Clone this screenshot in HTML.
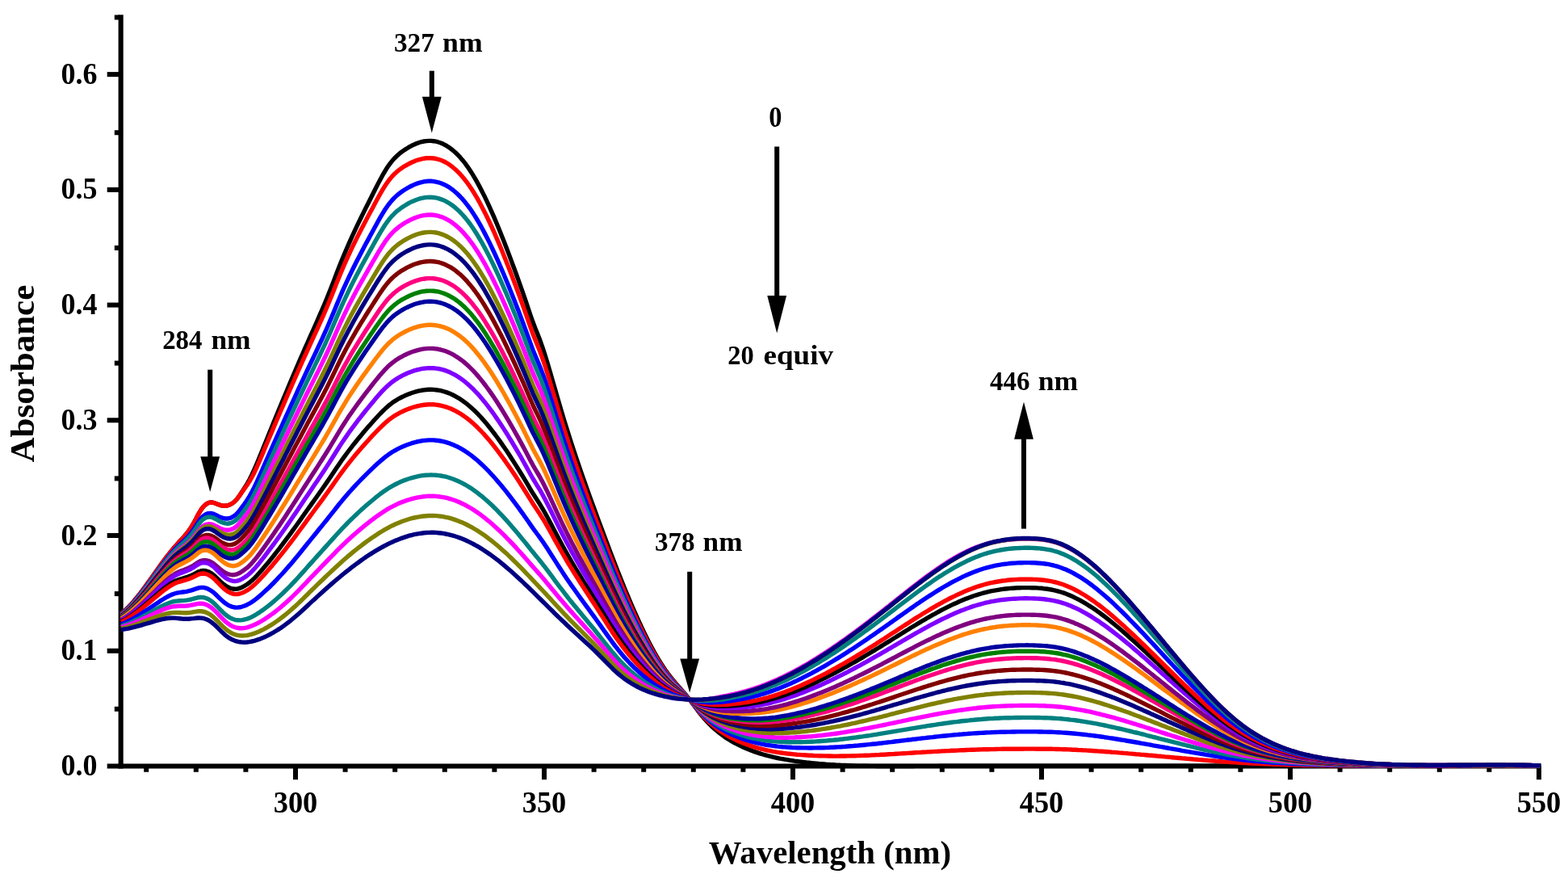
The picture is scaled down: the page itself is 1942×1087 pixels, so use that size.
<!DOCTYPE html>
<html lang="en"><head><meta charset="utf-8"><title>Absorbance vs Wavelength</title>
<style>html,body{margin:0;padding:0;background:#fff}body{width:1942px;height:1087px;overflow:hidden}svg{display:block}text{font-family:"Liberation Serif",serif;font-weight:bold;fill:#000}</style></head><body>
<svg width="1942" height="1087" viewBox="0 0 1942 1087">
<rect width="1942" height="1087" fill="#fff"/>
<g fill="#000"><rect x="146.6" y="18.3" width="6.1" height="933.2"/><rect x="146.8" y="945.5" width="1762" height="6"/><rect x="132.7" y="945.5" width="15" height="6"/><rect x="141.8" y="874.8" width="6" height="6"/><rect x="132.7" y="802.8" width="15" height="6"/><rect x="141.8" y="732.1" width="6" height="6"/><rect x="132.7" y="660.0" width="15" height="6"/><rect x="141.8" y="589.4" width="6" height="6"/><rect x="132.7" y="517.3" width="15" height="6"/><rect x="141.8" y="446.6" width="6" height="6"/><rect x="132.7" y="374.6" width="15" height="6"/><rect x="141.8" y="303.9" width="6" height="6"/><rect x="132.7" y="231.9" width="15" height="6"/><rect x="141.8" y="161.2" width="6" height="6"/><rect x="132.7" y="89.1" width="15" height="6"/><rect x="141.8" y="18.5" width="6" height="6"/><rect x="178.2" y="948" width="6" height="7.8"/><rect x="239.8" y="948" width="6" height="7.8"/><rect x="301.4" y="948" width="6" height="7.8"/><rect x="363.0" y="948" width="6" height="17.2"/><rect x="424.6" y="948" width="6" height="7.8"/><rect x="486.2" y="948" width="6" height="7.8"/><rect x="547.8" y="948" width="6" height="7.8"/><rect x="609.4" y="948" width="6" height="7.8"/><rect x="671.0" y="948" width="6" height="17.2"/><rect x="732.6" y="948" width="6" height="7.8"/><rect x="794.2" y="948" width="6" height="7.8"/><rect x="855.8" y="948" width="6" height="7.8"/><rect x="917.4" y="948" width="6" height="7.8"/><rect x="979.0" y="948" width="6" height="17.2"/><rect x="1040.6" y="948" width="6" height="7.8"/><rect x="1102.2" y="948" width="6" height="7.8"/><rect x="1163.8" y="948" width="6" height="7.8"/><rect x="1225.4" y="948" width="6" height="7.8"/><rect x="1287.0" y="948" width="6" height="17.2"/><rect x="1348.6" y="948" width="6" height="7.8"/><rect x="1410.2" y="948" width="6" height="7.8"/><rect x="1471.8" y="948" width="6" height="7.8"/><rect x="1533.4" y="948" width="6" height="7.8"/><rect x="1595.0" y="948" width="6" height="17.2"/><rect x="1656.6" y="948" width="6" height="7.8"/><rect x="1718.2" y="948" width="6" height="7.8"/><rect x="1779.8" y="948" width="6" height="7.8"/><rect x="1841.4" y="948" width="6" height="7.8"/><rect x="1903.0" y="948" width="6" height="17.2"/></g>
<text x="75.4" y="960.0" font-size="38" textLength="45" lengthAdjust="spacingAndGlyphs">0.0</text><text x="75.4" y="817.3" font-size="38" textLength="45" lengthAdjust="spacingAndGlyphs">0.1</text><text x="75.4" y="674.5" font-size="38" textLength="45" lengthAdjust="spacingAndGlyphs">0.2</text><text x="75.4" y="531.8" font-size="38" textLength="45" lengthAdjust="spacingAndGlyphs">0.3</text><text x="75.4" y="389.1" font-size="38" textLength="45" lengthAdjust="spacingAndGlyphs">0.4</text><text x="75.4" y="246.4" font-size="38" textLength="45" lengthAdjust="spacingAndGlyphs">0.5</text><text x="75.4" y="103.6" font-size="38" textLength="45" lengthAdjust="spacingAndGlyphs">0.6</text><text x="338.7" y="1006" font-size="38" textLength="54.6" lengthAdjust="spacingAndGlyphs">300</text><text x="646.7" y="1006" font-size="38" textLength="54.6" lengthAdjust="spacingAndGlyphs">350</text><text x="954.7" y="1006" font-size="38" textLength="54.6" lengthAdjust="spacingAndGlyphs">400</text><text x="1262.7" y="1006" font-size="38" textLength="54.6" lengthAdjust="spacingAndGlyphs">450</text><text x="1570.7" y="1006" font-size="38" textLength="54.6" lengthAdjust="spacingAndGlyphs">500</text><text x="1878.7" y="1006" font-size="38" textLength="54.6" lengthAdjust="spacingAndGlyphs">550</text>
<text transform="translate(42.1,572.6) rotate(-90)" font-size="42.5" textLength="219.9" lengthAdjust="spacingAndGlyphs">Absorbance</text>
<text x="877.8" y="1069.3" font-size="40.5" textLength="300.3" lengthAdjust="spacingAndGlyphs">Wavelength (nm)</text>
<g fill="none" stroke-width="5.4" stroke-linejoin="round" stroke-linecap="butt"><path d="M150.0,759.9 153.0,757.4 156.0,754.7 159.0,751.8 162.0,748.6 165.0,745.2 168.0,741.6 171.0,737.9 174.0,734.1 177.0,730.1 180.0,726.0 183.0,721.9 186.0,717.7 189.0,713.5 192.0,709.2 195.0,705.0 198.0,700.8 201.0,696.7 204.0,692.6 207.0,688.6 210.0,684.8 213.0,681.1 216.0,677.5 219.0,674.2 222.0,670.9 225.0,667.7 228.0,664.3 231.0,660.7 234.0,656.8 237.0,652.4 240.0,647.4 243.0,641.8 246.0,636.1 249.0,631.0 252.0,627.1 255.0,624.3 258.0,622.6 261.0,621.9 264.0,622.2 267.0,623.2 270.0,624.4 273.0,625.5 276.0,626.1 279.0,626.2 282.0,625.8 285.0,624.7 288.0,623.0 291.0,620.5 294.0,617.2 297.0,613.0 300.0,608.4 303.0,603.8 306.0,599.1 309.0,593.7 312.0,587.7 315.0,581.2 318.0,574.3 321.0,567.1 324.0,559.7 327.0,552.3 330.0,544.9 333.0,537.6 336.0,530.2 339.0,522.9 342.0,515.6 345.0,508.3 348.0,501.1 351.0,493.8 354.0,486.7 357.0,479.5 360.0,472.4 363.0,465.4 366.0,458.3 369.0,451.4 372.0,444.4 375.0,437.6 378.0,430.7 381.0,424.0 384.0,417.2 387.0,410.5 390.0,403.8 393.0,397.1 396.0,390.2 399.0,383.3 402.0,376.2 405.0,369.0 408.0,361.6 411.0,354.0 414.0,346.1 417.0,338.3 420.0,330.6 423.0,323.0 426.0,315.7 429.0,308.7 432.0,301.8 435.0,295.1 438.0,288.6 441.0,282.2 444.0,275.9 447.0,269.7 450.0,263.6 453.0,257.6 456.0,251.7 459.0,245.7 462.0,239.8 465.0,233.8 468.0,227.9 471.0,222.2 474.0,216.7 477.0,211.6 480.0,206.8 483.0,202.6 486.0,198.8 489.0,195.5 492.0,192.6 495.0,190.0 498.0,187.7 501.0,185.6 504.0,183.7 507.0,181.9 510.0,180.3 513.0,178.9 516.0,177.6 519.0,176.5 522.0,175.7 525.0,175.0 528.0,174.6 531.0,174.4 534.0,174.4 537.0,174.7 540.0,175.2 543.0,176.0 546.0,177.0 549.0,178.3 552.0,179.9 555.0,181.7 558.0,183.8 561.0,186.2 564.0,188.8 567.0,191.7 570.0,194.9 573.0,198.4 576.0,202.2 579.0,206.3 582.0,210.7 585.0,215.4 588.0,220.3 591.0,225.6 594.0,231.1 597.0,236.9 600.0,242.9 603.0,249.1 606.0,255.6 609.0,262.3 612.0,269.2 615.0,276.3 618.0,283.5 621.0,290.9 624.0,298.5 627.0,306.2 630.0,314.1 633.0,322.1 636.0,330.2 639.0,338.3 642.0,346.6 645.0,355.1 648.0,363.6 651.0,372.4 654.0,381.3 657.0,390.3 660.0,398.8 663.0,406.6 666.0,414.1 669.0,421.8 672.0,430.3 675.0,439.5 678.0,449.3 681.0,459.5 684.0,469.9 687.0,480.3 690.0,490.8 693.0,501.1 696.0,511.3 699.0,521.2 702.0,530.9 705.0,540.4 708.0,549.8 711.0,558.9 714.0,567.9 717.0,576.7 720.0,585.4 723.0,594.0 726.0,602.4 729.0,610.8 732.0,619.1 735.0,627.3 738.0,635.5 741.0,643.6 744.0,651.7 747.0,659.8 750.0,667.8 753.0,675.8 756.0,683.7 759.0,691.5 762.0,699.3 765.0,706.9 768.0,714.5 771.0,722.0 774.0,729.4 777.0,736.6 780.0,743.8 783.0,750.8 786.0,757.6 789.0,764.4 792.0,770.9 795.0,777.4 798.0,783.6 801.0,789.7 804.0,795.6 807.0,801.3 810.0,806.8 813.0,812.0 816.0,817.1 819.0,821.9 822.0,826.5 825.0,830.9 828.0,835.0 831.0,838.8 834.0,842.4 837.0,845.9 840.0,849.4 843.0,852.8 846.0,856.2 849.0,859.7 852.0,863.4 855.0,867.3 858.0,871.3 861.0,875.4 864.0,879.5 867.0,883.3 870.0,887.0 873.0,890.5 876.0,893.7 879.0,896.8 882.0,899.7 885.0,902.4 888.0,905.0 891.0,907.4 894.0,909.7 897.0,911.9 900.0,913.9 903.0,915.8 906.0,917.6 909.0,919.3 912.0,920.9 915.0,922.4 918.0,923.8 921.0,925.2 924.0,926.5 927.0,927.8 930.0,928.9 933.0,930.1 936.0,931.1 939.0,932.1 942.0,933.1 945.0,934.0 948.0,934.9 951.0,935.7 954.0,936.4 957.0,937.1 960.0,937.8 963.0,938.5 966.0,939.1 969.0,939.6 972.0,940.2 975.0,940.7 978.0,941.2 981.0,941.6 984.0,942.1 987.0,942.5 990.0,942.9 993.0,943.3 996.0,943.6 999.0,944.0 1002.0,944.3 1005.0,944.6 1008.0,944.9 1011.0,945.2 1014.0,945.5 1017.0,945.7 1020.0,945.9 1023.0,946.2 1026.0,946.4 1029.0,946.6 1032.0,946.8 1035.0,947.0 1038.0,947.1 1041.0,947.3 1044.0,947.4 1047.0,947.5 1050.0,947.7 1053.0,947.8 1056.0,947.9 1059.0,948.0 1062.0,948.1 1065.0,948.1 1068.0,948.2 1071.0,948.3 1074.0,948.3 1077.0,948.4 1080.0,948.4 1083.0,948.4 1086.0,948.5 1089.0,948.5 1092.0,948.5 1095.0,948.5 1098.0,948.5 1101.0,948.5 1104.0,948.5 1107.0,948.5 1110.0,948.5 1113.0,948.5 1116.0,948.5 1119.0,948.5 1122.0,948.5 1125.0,948.5 1128.0,948.5 1131.0,948.5 1134.0,948.4 1137.0,948.4 1140.0,948.4 1143.0,948.4 1146.0,948.4 1149.0,948.4 1152.0,948.4 1155.0,948.4 1158.0,948.4 1161.0,948.4 1164.0,948.3 1167.0,948.3 1170.0,948.3 1173.0,948.3 1176.0,948.3 1179.0,948.3 1182.0,948.3 1185.0,948.3 1188.0,948.3 1191.0,948.3 1194.0,948.3 1197.0,948.3 1200.0,948.2 1203.0,948.2 1206.0,948.2 1209.0,948.2 1212.0,948.2 1215.0,948.2 1218.0,948.2 1221.0,948.2 1224.0,948.2 1227.0,948.2 1230.0,948.2 1233.0,948.2 1236.0,948.2 1239.0,948.2 1242.0,948.2 1245.0,948.2 1248.0,948.2 1251.0,948.1 1254.0,948.1 1257.0,948.1 1260.0,948.1 1263.0,948.1 1266.0,948.1 1269.0,948.1 1272.0,948.1 1275.0,948.1 1278.0,948.1 1281.0,948.1 1284.0,948.1 1287.0,948.1 1290.0,948.1 1293.0,948.1 1296.0,948.1 1299.0,948.1 1302.0,948.1 1305.0,948.1 1308.0,948.1 1311.0,948.1 1314.0,948.1 1317.0,948.1 1320.0,948.1 1323.0,948.1 1326.0,948.1 1329.0,948.1 1332.0,948.1 1335.0,948.1 1338.0,948.1 1341.0,948.1 1344.0,948.1 1347.0,948.1 1350.0,948.1 1353.0,948.1 1356.0,948.1 1359.0,948.1 1362.0,948.1 1365.0,948.1 1368.0,948.1 1371.0,948.1 1374.0,948.1 1377.0,948.1 1380.0,948.1 1383.0,948.1 1386.0,948.1 1389.0,948.1 1392.0,948.1 1395.0,948.1 1398.0,948.1 1401.0,948.1 1404.0,948.1 1407.0,948.1 1410.0,948.1 1413.0,948.1 1416.0,948.1 1419.0,948.1 1422.0,948.1 1425.0,948.1 1428.0,948.1 1431.0,948.1 1434.0,948.1 1437.0,948.1 1440.0,948.1 1443.0,948.1 1446.0,948.1 1449.0,948.1 1452.0,948.1 1455.0,948.1 1458.0,948.1 1461.0,948.1 1464.0,948.1 1467.0,948.1 1470.0,948.1 1473.0,948.1 1476.0,948.1 1479.0,948.1 1482.0,948.1 1485.0,948.1 1488.0,948.1 1491.0,948.2 1494.0,948.2 1497.0,948.2 1500.0,948.2 1503.0,948.2 1506.0,948.2 1509.0,948.2 1512.0,948.2 1515.0,948.2 1518.0,948.2 1521.0,948.2 1524.0,948.2 1527.0,948.2 1530.0,948.2 1533.0,948.2 1536.0,948.2 1539.0,948.2 1542.0,948.2 1545.0,948.2 1548.0,948.2 1551.0,948.2 1554.0,948.2 1557.0,948.2 1560.0,948.2 1563.0,948.2 1566.0,948.2 1569.0,948.2 1572.0,948.2 1575.0,948.2 1578.0,948.2 1581.0,948.2 1584.0,948.2 1587.0,948.2 1590.0,948.2 1593.0,948.2 1596.0,948.2 1599.0,948.2 1602.0,948.2 1605.0,948.2 1608.0,948.2 1611.0,948.3 1614.0,948.3 1617.0,948.3 1620.0,948.3 1623.0,948.3 1626.0,948.3 1629.0,948.3 1632.0,948.3 1635.0,948.3 1638.0,948.3 1641.0,948.3 1644.0,948.3 1647.0,948.3 1650.0,948.3 1653.0,948.3 1656.0,948.3 1659.0,948.3 1662.0,948.3 1665.0,948.3 1668.0,948.3 1671.0,948.3 1674.0,948.3 1677.0,948.3 1680.0,948.3 1683.0,948.3 1686.0,948.3 1689.0,948.3 1692.0,948.3 1695.0,948.3 1698.0,948.3 1701.0,948.3 1704.0,948.3 1707.0,948.3 1710.0,948.3 1713.0,948.3 1716.0,948.3 1719.0,948.3 1722.0,948.3 1725.0,948.3 1728.0,948.3 1731.0,948.3 1734.0,948.3 1737.0,948.3 1740.0,948.3 1743.0,948.3 1746.0,948.3 1749.0,948.3 1752.0,948.3 1755.0,948.3 1758.0,948.3 1761.0,948.3 1764.0,948.3 1767.0,948.3 1770.0,948.3 1773.0,948.3 1776.0,948.3 1779.0,948.3 1782.0,948.2 1785.0,948.2 1788.0,948.2 1791.0,948.2 1794.0,948.2 1797.0,948.2 1800.0,948.2 1803.0,948.2 1806.0,948.2 1809.0,948.2 1812.0,948.2 1815.0,948.2 1818.0,948.2 1821.0,948.2 1824.0,948.2 1827.0,948.2 1830.0,948.2 1833.0,948.2 1836.0,948.2 1839.0,948.2 1842.0,948.2 1845.0,948.2 1848.0,948.1 1851.0,948.1 1854.0,948.1 1857.0,948.1 1860.0,948.1 1863.0,948.1 1866.0,948.1 1869.0,948.1 1872.0,948.1 1875.0,948.1 1878.0,948.1 1881.0,948.1 1884.0,948.1 1887.0,948.0 1890.0,948.0 1893.0,948.0 1896.0,948.0 1899.0,948.0 1902.0,948.0 1905.0,948.0 1908.0,948.0" stroke="#000000"/>
<path d="M150.0,759.9 153.0,757.4 156.0,754.7 159.0,751.8 162.0,748.6 165.0,745.2 168.0,741.6 171.0,737.9 174.0,734.1 177.0,730.1 180.0,726.0 183.0,721.9 186.0,717.7 189.0,713.5 192.0,709.2 195.0,705.0 198.0,700.8 201.0,696.7 204.0,692.6 207.0,688.6 210.0,684.8 213.0,681.1 216.0,677.5 219.0,674.2 222.0,670.9 225.0,667.7 228.0,664.3 231.0,660.7 234.0,656.8 237.0,652.4 240.0,647.4 243.0,641.8 246.0,636.1 249.0,631.0 252.0,627.1 255.0,624.3 258.0,622.6 261.0,621.9 264.0,622.2 267.0,623.2 270.0,624.4 273.0,625.5 276.0,626.1 279.0,626.2 282.0,625.8 285.0,624.7 288.0,623.0 291.0,620.5 294.0,617.2 297.0,613.1 300.0,608.8 303.0,604.7 306.0,600.5 309.0,595.9 312.0,590.7 315.0,584.9 318.0,578.5 321.0,571.6 324.0,564.6 327.0,557.4 330.0,550.3 333.0,543.2 336.0,536.1 339.0,529.1 342.0,522.0 345.0,515.0 348.0,508.0 351.0,501.1 354.0,494.1 357.0,487.2 360.0,480.3 363.0,473.5 366.0,466.7 369.0,459.9 372.0,453.2 375.0,446.5 378.0,439.9 381.0,433.3 384.0,426.7 387.0,420.2 390.0,413.7 393.0,407.1 396.0,400.5 399.0,393.8 402.0,387.0 405.0,380.0 408.0,372.8 411.0,365.4 414.0,357.9 417.0,350.3 420.0,342.9 423.0,335.6 426.0,328.6 429.0,321.8 432.0,315.3 435.0,308.9 438.0,302.6 441.0,296.6 444.0,290.6 447.0,284.7 450.0,279.0 453.0,273.3 456.0,267.6 459.0,262.0 462.0,256.4 465.0,250.8 468.0,245.2 471.0,239.8 474.0,234.7 477.0,229.8 480.0,225.4 483.0,221.5 486.0,218.0 489.0,214.9 492.0,212.2 495.0,209.9 498.0,207.8 501.0,205.8 504.0,204.1 507.0,202.5 510.0,201.0 513.0,199.7 516.0,198.5 519.0,197.6 522.0,196.8 525.0,196.2 528.0,195.8 531.0,195.7 534.0,195.7 537.0,196.0 540.0,196.5 543.0,197.3 546.0,198.3 549.0,199.5 552.0,201.0 555.0,202.8 558.0,204.9 561.0,207.2 564.0,209.7 567.0,212.6 570.0,215.7 573.0,219.1 576.0,222.8 579.0,226.7 582.0,231.0 585.0,235.5 588.0,240.3 591.0,245.4 594.0,250.8 597.0,256.4 600.0,262.2 603.0,268.3 606.0,274.5 609.0,281.0 612.0,287.7 615.0,294.6 618.0,301.6 621.0,308.8 624.0,316.2 627.0,323.7 630.0,331.3 633.0,339.0 636.0,346.9 639.0,354.8 642.0,362.9 645.0,371.1 648.0,379.4 651.0,387.8 654.0,396.5 657.0,405.2 660.0,413.5 663.0,421.1 666.0,428.3 669.0,435.8 672.0,444.1 675.0,453.0 678.0,462.5 681.0,472.4 684.0,482.5 687.0,492.6 690.0,502.7 693.0,512.8 696.0,522.6 699.0,532.2 702.0,541.6 705.0,550.8 708.0,559.9 711.0,568.7 714.0,577.4 717.0,586.0 720.0,594.4 723.0,602.7 726.0,610.9 729.0,619.1 732.0,627.1 735.0,635.1 738.0,643.1 741.0,651.0 744.0,658.8 747.0,666.7 750.0,674.5 753.0,682.2 756.0,689.9 759.0,697.5 762.0,705.1 765.0,712.5 768.0,719.9 771.0,727.1 774.0,734.3 777.0,741.3 780.0,748.2 783.0,755.0 786.0,761.6 789.0,768.1 792.0,774.5 795.0,780.7 798.0,786.7 801.0,792.6 804.0,798.3 807.0,803.8 810.0,809.1 813.0,814.2 816.0,819.1 819.0,823.8 822.0,828.2 825.0,832.4 828.0,836.4 831.0,840.1 834.0,843.6 837.0,846.9 840.0,850.2 843.0,853.5 846.0,856.7 849.0,860.1 852.0,863.5 855.0,867.2 858.0,871.0 861.0,874.9 864.0,878.6 867.0,882.2 870.0,885.6 873.0,888.8 876.0,891.9 879.0,894.7 882.0,897.3 885.0,899.8 888.0,902.2 891.0,904.4 894.0,906.4 897.0,908.3 900.0,910.1 903.0,911.8 906.0,913.4 909.0,914.9 912.0,916.4 915.0,917.7 918.0,919.0 921.0,920.2 924.0,921.3 927.0,922.4 930.0,923.4 933.0,924.4 936.0,925.3 939.0,926.2 942.0,927.0 945.0,927.7 948.0,928.5 951.0,929.1 954.0,929.7 957.0,930.3 960.0,930.8 963.0,931.3 966.0,931.8 969.0,932.2 972.0,932.6 975.0,933.0 978.0,933.3 981.0,933.6 984.0,933.9 987.0,934.2 990.0,934.4 993.0,934.6 996.0,934.8 999.0,935.0 1002.0,935.2 1005.0,935.3 1008.0,935.5 1011.0,935.6 1014.0,935.7 1017.0,935.8 1020.0,935.9 1023.0,935.9 1026.0,936.0 1029.0,936.0 1032.0,936.1 1035.0,936.1 1038.0,936.1 1041.0,936.0 1044.0,936.0 1047.0,936.0 1050.0,935.9 1053.0,935.9 1056.0,935.8 1059.0,935.7 1062.0,935.6 1065.0,935.5 1068.0,935.4 1071.0,935.3 1074.0,935.2 1077.0,935.1 1080.0,934.9 1083.0,934.8 1086.0,934.6 1089.0,934.5 1092.0,934.3 1095.0,934.2 1098.0,934.0 1101.0,933.8 1104.0,933.6 1107.0,933.5 1110.0,933.3 1113.0,933.1 1116.0,932.9 1119.0,932.7 1122.0,932.6 1125.0,932.4 1128.0,932.2 1131.0,932.0 1134.0,931.8 1137.0,931.6 1140.0,931.5 1143.0,931.3 1146.0,931.1 1149.0,930.9 1152.0,930.8 1155.0,930.6 1158.0,930.4 1161.0,930.3 1164.0,930.1 1167.0,929.9 1170.0,929.8 1173.0,929.6 1176.0,929.5 1179.0,929.3 1182.0,929.2 1185.0,929.1 1188.0,928.9 1191.0,928.8 1194.0,928.7 1197.0,928.5 1200.0,928.4 1203.0,928.3 1206.0,928.2 1209.0,928.1 1212.0,928.0 1215.0,927.9 1218.0,927.8 1221.0,927.8 1224.0,927.7 1227.0,927.6 1230.0,927.6 1233.0,927.5 1236.0,927.4 1239.0,927.4 1242.0,927.3 1245.0,927.3 1248.0,927.3 1251.0,927.2 1254.0,927.2 1257.0,927.2 1260.0,927.2 1263.0,927.2 1266.0,927.2 1269.0,927.1 1272.0,927.1 1275.0,927.1 1278.0,927.1 1281.0,927.1 1284.0,927.2 1287.0,927.2 1290.0,927.2 1293.0,927.2 1296.0,927.3 1299.0,927.3 1302.0,927.3 1305.0,927.4 1308.0,927.5 1311.0,927.5 1314.0,927.6 1317.0,927.7 1320.0,927.8 1323.0,927.9 1326.0,928.0 1329.0,928.2 1332.0,928.3 1335.0,928.5 1338.0,928.6 1341.0,928.8 1344.0,928.9 1347.0,929.1 1350.0,929.3 1353.0,929.5 1356.0,929.7 1359.0,929.9 1362.0,930.1 1365.0,930.3 1368.0,930.5 1371.0,930.7 1374.0,930.9 1377.0,931.2 1380.0,931.4 1383.0,931.6 1386.0,931.9 1389.0,932.1 1392.0,932.4 1395.0,932.6 1398.0,932.9 1401.0,933.1 1404.0,933.4 1407.0,933.7 1410.0,933.9 1413.0,934.2 1416.0,934.4 1419.0,934.7 1422.0,935.0 1425.0,935.2 1428.0,935.5 1431.0,935.8 1434.0,936.1 1437.0,936.3 1440.0,936.6 1443.0,936.9 1446.0,937.1 1449.0,937.4 1452.0,937.7 1455.0,938.0 1458.0,938.2 1461.0,938.5 1464.0,938.8 1467.0,939.0 1470.0,939.3 1473.0,939.5 1476.0,939.8 1479.0,940.1 1482.0,940.3 1485.0,940.6 1488.0,940.8 1491.0,941.1 1494.0,941.3 1497.0,941.6 1500.0,941.8 1503.0,942.0 1506.0,942.3 1509.0,942.5 1512.0,942.7 1515.0,942.9 1518.0,943.1 1521.0,943.4 1524.0,943.6 1527.0,943.8 1530.0,943.9 1533.0,944.1 1536.0,944.3 1539.0,944.5 1542.0,944.6 1545.0,944.8 1548.0,945.0 1551.0,945.1 1554.0,945.3 1557.0,945.4 1560.0,945.5 1563.0,945.6 1566.0,945.8 1569.0,945.9 1572.0,946.0 1575.0,946.1 1578.0,946.2 1581.0,946.3 1584.0,946.4 1587.0,946.5 1590.0,946.6 1593.0,946.7 1596.0,946.8 1599.0,946.8 1602.0,946.9 1605.0,947.0 1608.0,947.0 1611.0,947.1 1614.0,947.2 1617.0,947.2 1620.0,947.3 1623.0,947.3 1626.0,947.4 1629.0,947.4 1632.0,947.5 1635.0,947.5 1638.0,947.5 1641.0,947.6 1644.0,947.6 1647.0,947.7 1650.0,947.7 1653.0,947.7 1656.0,947.7 1659.0,947.8 1662.0,947.8 1665.0,947.8 1668.0,947.9 1671.0,947.9 1674.0,947.9 1677.0,947.9 1680.0,948.0 1683.0,948.0 1686.0,948.0 1689.0,948.0 1692.0,948.0 1695.0,948.0 1698.0,948.1 1701.0,948.1 1704.0,948.1 1707.0,948.1 1710.0,948.1 1713.0,948.1 1716.0,948.1 1719.0,948.1 1722.0,948.1 1725.0,948.2 1728.0,948.2 1731.0,948.2 1734.0,948.2 1737.0,948.2 1740.0,948.2 1743.0,948.2 1746.0,948.2 1749.0,948.2 1752.0,948.2 1755.0,948.2 1758.0,948.2 1761.0,948.2 1764.0,948.2 1767.0,948.2 1770.0,948.2 1773.0,948.2 1776.0,948.2 1779.0,948.2 1782.0,948.2 1785.0,948.2 1788.0,948.2 1791.0,948.2 1794.0,948.2 1797.0,948.2 1800.0,948.2 1803.0,948.2 1806.0,948.1 1809.0,948.1 1812.0,948.1 1815.0,948.1 1818.0,948.1 1821.0,948.1 1824.0,948.1 1827.0,948.1 1830.0,948.1 1833.0,948.1 1836.0,948.1 1839.0,948.1 1842.0,948.1 1845.0,948.1 1848.0,948.1 1851.0,948.1 1854.0,948.0 1857.0,948.0 1860.0,948.0 1863.0,948.0 1866.0,948.0 1869.0,948.0 1872.0,948.0 1875.0,948.0 1878.0,948.0 1881.0,948.0 1884.0,948.0 1887.0,948.0 1890.0,948.0 1893.0,948.0 1896.0,948.0 1899.0,948.0 1902.0,948.0 1905.0,948.0 1908.0,948.0" stroke="#ff0000"/>
<path d="M150.0,760.6 153.0,758.2 156.0,755.6 159.0,752.7 162.0,749.6 165.0,746.3 168.0,742.9 171.0,739.2 174.0,735.5 177.0,731.6 180.0,727.7 183.0,723.6 186.0,719.6 189.0,715.5 192.0,711.3 195.0,707.2 198.0,703.2 201.0,699.2 204.0,695.2 207.0,691.4 210.0,687.6 213.0,684.1 216.0,680.7 219.0,677.6 222.0,674.7 225.0,672.0 228.0,669.1 231.0,666.2 234.0,662.9 237.0,659.3 240.0,655.2 243.0,650.5 246.0,645.8 249.0,641.7 252.0,638.7 255.0,636.6 258.0,635.6 261.0,635.4 264.0,636.1 267.0,637.4 270.0,639.0 273.0,640.4 276.0,641.4 279.0,642.0 282.0,642.0 285.0,641.4 288.0,640.1 291.0,638.1 294.0,635.3 297.0,631.7 300.0,627.6 303.0,623.5 306.0,619.2 309.0,614.4 312.0,609.0 315.0,603.1 318.0,596.8 321.0,590.2 324.0,583.5 327.0,576.7 330.0,569.9 333.0,563.2 336.0,556.4 339.0,549.7 342.0,542.9 345.0,536.2 348.0,529.5 351.0,522.8 354.0,516.1 357.0,509.5 360.0,502.9 363.0,496.3 366.0,489.8 369.0,483.2 372.0,476.7 375.0,470.3 378.0,463.9 381.0,457.5 384.0,451.2 387.0,444.9 390.0,438.6 393.0,432.2 396.0,425.8 399.0,419.3 402.0,412.7 405.0,406.0 408.0,399.0 411.0,391.9 414.0,384.7 417.0,377.4 420.0,370.2 423.0,363.1 426.0,356.3 429.0,349.8 432.0,343.3 435.0,337.1 438.0,331.0 441.0,325.0 444.0,319.2 447.0,313.4 450.0,307.8 453.0,302.1 456.0,296.6 459.0,291.0 462.0,285.5 465.0,280.0 468.0,274.5 471.0,269.2 474.0,264.1 477.0,259.3 480.0,254.9 483.0,251.0 486.0,247.5 489.0,244.4 492.0,241.6 495.0,239.2 498.0,237.0 501.0,235.0 504.0,233.2 507.0,231.5 510.0,230.0 513.0,228.6 516.0,227.4 519.0,226.4 522.0,225.6 525.0,224.9 528.0,224.5 531.0,224.3 534.0,224.3 537.0,224.6 540.0,225.1 543.0,225.8 546.0,226.8 549.0,228.0 552.0,229.4 555.0,231.1 558.0,233.1 561.0,235.3 564.0,237.8 567.0,240.5 570.0,243.5 573.0,246.7 576.0,250.3 579.0,254.1 582.0,258.1 585.0,262.5 588.0,267.1 591.0,272.0 594.0,277.1 597.0,282.5 600.0,288.1 603.0,293.9 606.0,299.9 609.0,306.1 612.0,312.5 615.0,319.1 618.0,325.9 621.0,332.8 624.0,339.8 627.0,347.0 630.0,354.3 633.0,361.7 636.0,369.3 639.0,376.9 642.0,384.6 645.0,392.5 648.0,400.5 651.0,408.6 654.0,416.9 657.0,425.2 660.0,433.2 663.0,440.5 666.0,447.5 669.0,454.7 672.0,462.6 675.0,471.2 678.0,480.3 681.0,489.7 684.0,499.4 687.0,509.1 690.0,518.7 693.0,528.3 696.0,537.7 699.0,546.9 702.0,555.9 705.0,564.8 708.0,573.4 711.0,581.9 714.0,590.2 717.0,598.4 720.0,606.5 723.0,614.5 726.0,622.3 729.0,630.1 732.0,637.9 735.0,645.5 738.0,653.2 741.0,660.8 744.0,668.4 747.0,675.9 750.0,683.4 753.0,690.9 756.0,698.3 759.0,705.6 762.0,712.8 765.0,720.0 768.0,727.0 771.0,734.0 774.0,740.8 777.0,747.6 780.0,754.2 783.0,760.6 786.0,767.0 789.0,773.2 792.0,779.2 795.0,785.2 798.0,790.9 801.0,796.5 804.0,802.0 807.0,807.2 810.0,812.3 813.0,817.1 816.0,821.8 819.0,826.2 822.0,830.4 825.0,834.4 828.0,838.1 831.0,841.6 834.0,845.0 837.0,848.1 840.0,851.2 843.0,854.3 846.0,857.3 849.0,860.5 852.0,863.7 855.0,867.1 858.0,870.7 861.0,874.2 864.0,877.7 867.0,881.0 870.0,884.2 873.0,887.1 876.0,889.9 879.0,892.4 882.0,894.8 885.0,897.1 888.0,899.2 891.0,901.2 894.0,903.0 897.0,904.7 900.0,906.3 903.0,907.8 906.0,909.2 909.0,910.5 912.0,911.8 915.0,912.9 918.0,914.0 921.0,915.1 924.0,916.1 927.0,917.0 930.0,917.9 933.0,918.7 936.0,919.5 939.0,920.2 942.0,920.8 945.0,921.4 948.0,922.0 951.0,922.5 954.0,922.9 957.0,923.4 960.0,923.7 963.0,924.1 966.0,924.4 969.0,924.7 972.0,924.9 975.0,925.1 978.0,925.3 981.0,925.5 984.0,925.6 987.0,925.7 990.0,925.8 993.0,925.9 996.0,925.9 999.0,925.9 1002.0,926.0 1005.0,926.0 1008.0,925.9 1011.0,925.9 1014.0,925.8 1017.0,925.8 1020.0,925.7 1023.0,925.6 1026.0,925.5 1029.0,925.3 1032.0,925.2 1035.0,925.0 1038.0,924.9 1041.0,924.7 1044.0,924.5 1047.0,924.3 1050.0,924.0 1053.0,923.8 1056.0,923.6 1059.0,923.3 1062.0,923.1 1065.0,922.8 1068.0,922.5 1071.0,922.2 1074.0,921.9 1077.0,921.6 1080.0,921.3 1083.0,921.0 1086.0,920.7 1089.0,920.3 1092.0,920.0 1095.0,919.6 1098.0,919.3 1101.0,918.9 1104.0,918.6 1107.0,918.2 1110.0,917.8 1113.0,917.5 1116.0,917.1 1119.0,916.8 1122.0,916.4 1125.0,916.0 1128.0,915.7 1131.0,915.3 1134.0,915.0 1137.0,914.6 1140.0,914.3 1143.0,913.9 1146.0,913.6 1149.0,913.2 1152.0,912.9 1155.0,912.6 1158.0,912.2 1161.0,911.9 1164.0,911.6 1167.0,911.3 1170.0,911.0 1173.0,910.7 1176.0,910.4 1179.0,910.1 1182.0,909.8 1185.0,909.6 1188.0,909.3 1191.0,909.1 1194.0,908.8 1197.0,908.6 1200.0,908.3 1203.0,908.1 1206.0,907.9 1209.0,907.7 1212.0,907.5 1215.0,907.4 1218.0,907.2 1221.0,907.0 1224.0,906.9 1227.0,906.8 1230.0,906.6 1233.0,906.5 1236.0,906.4 1239.0,906.3 1242.0,906.3 1245.0,906.2 1248.0,906.1 1251.0,906.1 1254.0,906.0 1257.0,906.0 1260.0,905.9 1263.0,905.9 1266.0,905.9 1269.0,905.9 1272.0,905.9 1275.0,905.9 1278.0,905.9 1281.0,905.9 1284.0,905.9 1287.0,906.0 1290.0,906.0 1293.0,906.1 1296.0,906.1 1299.0,906.2 1302.0,906.3 1305.0,906.4 1308.0,906.6 1311.0,906.7 1314.0,906.9 1317.0,907.1 1320.0,907.3 1323.0,907.5 1326.0,907.7 1329.0,908.0 1332.0,908.3 1335.0,908.6 1338.0,908.9 1341.0,909.2 1344.0,909.5 1347.0,909.9 1350.0,910.2 1353.0,910.6 1356.0,911.0 1359.0,911.4 1362.0,911.8 1365.0,912.2 1368.0,912.7 1371.0,913.1 1374.0,913.6 1377.0,914.0 1380.0,914.5 1383.0,915.0 1386.0,915.5 1389.0,916.0 1392.0,916.4 1395.0,917.0 1398.0,917.5 1401.0,918.0 1404.0,918.5 1407.0,919.0 1410.0,919.5 1413.0,920.1 1416.0,920.6 1419.0,921.1 1422.0,921.7 1425.0,922.2 1428.0,922.8 1431.0,923.3 1434.0,923.8 1437.0,924.4 1440.0,924.9 1443.0,925.5 1446.0,926.0 1449.0,926.6 1452.0,927.1 1455.0,927.6 1458.0,928.2 1461.0,928.7 1464.0,929.3 1467.0,929.8 1470.0,930.3 1473.0,930.8 1476.0,931.4 1479.0,931.9 1482.0,932.4 1485.0,932.9 1488.0,933.4 1491.0,933.9 1494.0,934.4 1497.0,934.9 1500.0,935.4 1503.0,935.8 1506.0,936.3 1509.0,936.8 1512.0,937.2 1515.0,937.6 1518.0,938.1 1521.0,938.5 1524.0,938.9 1527.0,939.3 1530.0,939.6 1533.0,940.0 1536.0,940.4 1539.0,940.7 1542.0,941.0 1545.0,941.4 1548.0,941.7 1551.0,942.0 1554.0,942.3 1557.0,942.5 1560.0,942.8 1563.0,943.1 1566.0,943.3 1569.0,943.5 1572.0,943.8 1575.0,944.0 1578.0,944.2 1581.0,944.4 1584.0,944.6 1587.0,944.7 1590.0,944.9 1593.0,945.1 1596.0,945.2 1599.0,945.4 1602.0,945.5 1605.0,945.7 1608.0,945.8 1611.0,945.9 1614.0,946.1 1617.0,946.2 1620.0,946.3 1623.0,946.4 1626.0,946.5 1629.0,946.6 1632.0,946.7 1635.0,946.7 1638.0,946.8 1641.0,946.9 1644.0,947.0 1647.0,947.0 1650.0,947.1 1653.0,947.2 1656.0,947.2 1659.0,947.3 1662.0,947.3 1665.0,947.4 1668.0,947.4 1671.0,947.5 1674.0,947.5 1677.0,947.6 1680.0,947.6 1683.0,947.7 1686.0,947.7 1689.0,947.7 1692.0,947.8 1695.0,947.8 1698.0,947.8 1701.0,947.9 1704.0,947.9 1707.0,947.9 1710.0,947.9 1713.0,948.0 1716.0,948.0 1719.0,948.0 1722.0,948.0 1725.0,948.0 1728.0,948.0 1731.0,948.1 1734.0,948.1 1737.0,948.1 1740.0,948.1 1743.0,948.1 1746.0,948.1 1749.0,948.1 1752.0,948.1 1755.0,948.1 1758.0,948.1 1761.0,948.1 1764.0,948.1 1767.0,948.1 1770.0,948.1 1773.0,948.1 1776.0,948.1 1779.0,948.1 1782.0,948.1 1785.0,948.1 1788.0,948.1 1791.0,948.1 1794.0,948.1 1797.0,948.1 1800.0,948.1 1803.0,948.1 1806.0,948.1 1809.0,948.1 1812.0,948.1 1815.0,948.1 1818.0,948.1 1821.0,948.0 1824.0,948.0 1827.0,948.0 1830.0,948.0 1833.0,948.0 1836.0,948.0 1839.0,948.0 1842.0,948.0 1845.0,948.0 1848.0,948.0 1851.0,948.0 1854.0,948.0 1857.0,948.0 1860.0,948.0 1863.0,948.0 1866.0,947.9 1869.0,947.9 1872.0,947.9 1875.0,947.9 1878.0,947.9 1881.0,947.9 1884.0,947.9 1887.0,947.9 1890.0,947.9 1893.0,947.9 1896.0,947.9 1899.0,947.9 1902.0,948.0 1905.0,948.0 1908.0,948.0" stroke="#0000ff"/>
<path d="M150.0,761.0 153.0,758.6 156.0,756.0 159.0,753.2 162.0,750.1 165.0,746.9 168.0,743.5 171.0,739.9 174.0,736.2 177.0,732.4 180.0,728.5 183.0,724.6 186.0,720.5 189.0,716.5 192.0,712.4 195.0,708.4 198.0,704.4 201.0,700.4 204.0,696.6 207.0,692.8 210.0,689.1 213.0,685.6 216.0,682.3 219.0,679.3 222.0,676.6 225.0,673.9 228.0,671.3 231.0,668.4 234.0,665.4 237.0,662.0 240.0,658.1 243.0,653.7 246.0,649.2 249.0,645.4 252.0,642.6 255.0,640.9 258.0,640.1 261.0,640.1 264.0,641.0 267.0,642.5 270.0,644.3 273.0,645.9 276.0,647.1 279.0,647.9 282.0,648.2 285.0,647.8 288.0,646.7 291.0,645.0 294.0,642.4 297.0,639.1 300.0,635.3 303.0,631.4 306.0,627.3 309.0,622.7 312.0,617.4 315.0,611.8 318.0,605.7 321.0,599.4 324.0,592.9 327.0,586.4 330.0,579.9 333.0,573.4 336.0,566.8 339.0,560.3 342.0,553.8 345.0,547.3 348.0,540.8 351.0,534.3 354.0,527.9 357.0,521.4 360.0,515.0 363.0,508.6 366.0,502.3 369.0,495.9 372.0,489.6 375.0,483.3 378.0,477.1 381.0,470.9 384.0,464.7 387.0,458.6 390.0,452.4 393.0,446.2 396.0,440.0 399.0,433.7 402.0,427.3 405.0,420.7 408.0,414.0 411.0,407.0 414.0,400.0 417.0,392.9 420.0,385.9 423.0,379.1 426.0,372.5 429.0,366.1 432.0,359.9 435.0,353.8 438.0,347.9 441.0,342.1 444.0,336.4 447.0,330.8 450.0,325.3 453.0,319.9 456.0,314.5 459.0,309.1 462.0,303.7 465.0,298.4 468.0,293.1 471.0,287.9 474.0,283.0 477.0,278.3 480.0,274.1 483.0,270.2 486.0,266.8 489.0,263.8 492.0,261.1 495.0,258.8 498.0,256.6 501.0,254.7 504.0,252.9 507.0,251.2 510.0,249.7 513.0,248.4 516.0,247.2 519.0,246.2 522.0,245.4 525.0,244.8 528.0,244.4 531.0,244.2 534.0,244.2 537.0,244.5 540.0,244.9 543.0,245.6 546.0,246.6 549.0,247.7 552.0,249.2 555.0,250.8 558.0,252.7 561.0,254.8 564.0,257.2 567.0,259.9 570.0,262.8 573.0,266.0 576.0,269.4 579.0,273.1 582.0,277.0 585.0,281.3 588.0,285.7 591.0,290.5 594.0,295.5 597.0,300.7 600.0,306.1 603.0,311.7 606.0,317.6 609.0,323.6 612.0,329.8 615.0,336.2 618.0,342.7 621.0,349.4 624.0,356.3 627.0,363.2 630.0,370.3 633.0,377.5 636.0,384.9 639.0,392.3 642.0,399.8 645.0,407.4 648.0,415.1 651.0,423.0 654.0,431.0 657.0,439.2 660.0,446.9 663.0,454.0 666.0,460.8 669.0,467.8 672.0,475.5 675.0,483.8 678.0,492.6 681.0,501.8 684.0,511.1 687.0,520.5 690.0,529.9 693.0,539.2 696.0,548.3 699.0,557.2 702.0,565.9 705.0,574.4 708.0,582.8 711.0,591.0 714.0,599.1 717.0,607.1 720.0,614.9 723.0,622.6 726.0,630.3 729.0,637.8 732.0,645.3 735.0,652.8 738.0,660.2 741.0,667.6 744.0,675.0 747.0,682.3 750.0,689.6 753.0,696.9 756.0,704.1 759.0,711.2 762.0,718.2 765.0,725.2 768.0,732.0 771.0,738.8 774.0,745.4 777.0,751.9 780.0,758.3 783.0,764.6 786.0,770.7 789.0,776.7 792.0,782.6 795.0,788.3 798.0,793.8 801.0,799.3 804.0,804.5 807.0,809.6 810.0,814.5 813.0,819.1 816.0,823.6 819.0,827.9 822.0,832.0 825.0,835.8 828.0,839.4 831.0,842.8 834.0,846.0 837.0,849.0 840.0,852.0 843.0,854.9 846.0,857.8 849.0,860.8 852.0,863.9 855.0,867.1 858.0,870.4 861.0,873.7 864.0,877.0 867.0,880.1 870.0,883.0 873.0,885.7 876.0,888.3 879.0,890.6 882.0,892.8 885.0,894.9 888.0,896.8 891.0,898.6 894.0,900.2 897.0,901.8 900.0,903.2 903.0,904.5 906.0,905.8 909.0,906.9 912.0,908.0 915.0,909.0 918.0,910.0 921.0,910.9 924.0,911.8 927.0,912.6 930.0,913.3 933.0,914.0 936.0,914.6 939.0,915.2 942.0,915.7 945.0,916.2 948.0,916.6 951.0,917.0 954.0,917.4 957.0,917.7 960.0,917.9 963.0,918.1 966.0,918.3 969.0,918.5 972.0,918.6 975.0,918.7 978.0,918.7 981.0,918.8 984.0,918.8 987.0,918.8 990.0,918.7 993.0,918.7 996.0,918.6 999.0,918.5 1002.0,918.4 1005.0,918.2 1008.0,918.1 1011.0,917.9 1014.0,917.7 1017.0,917.5 1020.0,917.3 1023.0,917.1 1026.0,916.8 1029.0,916.5 1032.0,916.3 1035.0,916.0 1038.0,915.7 1041.0,915.3 1044.0,915.0 1047.0,914.6 1050.0,914.3 1053.0,913.9 1056.0,913.5 1059.0,913.1 1062.0,912.7 1065.0,912.3 1068.0,911.9 1071.0,911.4 1074.0,911.0 1077.0,910.6 1080.0,910.1 1083.0,909.6 1086.0,909.2 1089.0,908.7 1092.0,908.2 1095.0,907.7 1098.0,907.2 1101.0,906.7 1104.0,906.2 1107.0,905.7 1110.0,905.2 1113.0,904.7 1116.0,904.2 1119.0,903.7 1122.0,903.1 1125.0,902.6 1128.0,902.1 1131.0,901.6 1134.0,901.1 1137.0,900.6 1140.0,900.1 1143.0,899.6 1146.0,899.2 1149.0,898.7 1152.0,898.2 1155.0,897.8 1158.0,897.3 1161.0,896.8 1164.0,896.4 1167.0,896.0 1170.0,895.5 1173.0,895.1 1176.0,894.7 1179.0,894.3 1182.0,893.9 1185.0,893.6 1188.0,893.2 1191.0,892.8 1194.0,892.5 1197.0,892.2 1200.0,891.9 1203.0,891.5 1206.0,891.3 1209.0,891.0 1212.0,890.7 1215.0,890.5 1218.0,890.2 1221.0,890.0 1224.0,889.8 1227.0,889.6 1230.0,889.5 1233.0,889.3 1236.0,889.2 1239.0,889.0 1242.0,888.9 1245.0,888.8 1248.0,888.7 1251.0,888.7 1254.0,888.6 1257.0,888.5 1260.0,888.5 1263.0,888.5 1266.0,888.4 1269.0,888.4 1272.0,888.4 1275.0,888.4 1278.0,888.4 1281.0,888.5 1284.0,888.5 1287.0,888.5 1290.0,888.6 1293.0,888.7 1296.0,888.8 1299.0,888.9 1302.0,889.0 1305.0,889.2 1308.0,889.4 1311.0,889.6 1314.0,889.8 1317.0,890.1 1320.0,890.4 1323.0,890.7 1326.0,891.1 1329.0,891.4 1332.0,891.8 1335.0,892.2 1338.0,892.7 1341.0,893.1 1344.0,893.6 1347.0,894.1 1350.0,894.6 1353.0,895.1 1356.0,895.7 1359.0,896.2 1362.0,896.8 1365.0,897.4 1368.0,898.0 1371.0,898.7 1374.0,899.3 1377.0,900.0 1380.0,900.6 1383.0,901.3 1386.0,902.0 1389.0,902.7 1392.0,903.4 1395.0,904.1 1398.0,904.8 1401.0,905.5 1404.0,906.3 1407.0,907.0 1410.0,907.7 1413.0,908.5 1416.0,909.2 1419.0,910.0 1422.0,910.8 1425.0,911.5 1428.0,912.3 1431.0,913.0 1434.0,913.8 1437.0,914.6 1440.0,915.3 1443.0,916.1 1446.0,916.9 1449.0,917.7 1452.0,918.4 1455.0,919.2 1458.0,919.9 1461.0,920.7 1464.0,921.5 1467.0,922.2 1470.0,923.0 1473.0,923.7 1476.0,924.4 1479.0,925.2 1482.0,925.9 1485.0,926.6 1488.0,927.3 1491.0,928.0 1494.0,928.7 1497.0,929.4 1500.0,930.1 1503.0,930.7 1506.0,931.4 1509.0,932.0 1512.0,932.7 1515.0,933.3 1518.0,933.9 1521.0,934.5 1524.0,935.0 1527.0,935.6 1530.0,936.1 1533.0,936.6 1536.0,937.1 1539.0,937.6 1542.0,938.1 1545.0,938.5 1548.0,939.0 1551.0,939.4 1554.0,939.8 1557.0,940.2 1560.0,940.6 1563.0,940.9 1566.0,941.3 1569.0,941.6 1572.0,941.9 1575.0,942.2 1578.0,942.5 1581.0,942.8 1584.0,943.1 1587.0,943.3 1590.0,943.6 1593.0,943.8 1596.0,944.0 1599.0,944.2 1602.0,944.4 1605.0,944.6 1608.0,944.8 1611.0,945.0 1614.0,945.1 1617.0,945.3 1620.0,945.5 1623.0,945.6 1626.0,945.7 1629.0,945.9 1632.0,946.0 1635.0,946.1 1638.0,946.2 1641.0,946.3 1644.0,946.4 1647.0,946.5 1650.0,946.6 1653.0,946.7 1656.0,946.8 1659.0,946.9 1662.0,946.9 1665.0,947.0 1668.0,947.1 1671.0,947.1 1674.0,947.2 1677.0,947.3 1680.0,947.3 1683.0,947.4 1686.0,947.4 1689.0,947.5 1692.0,947.5 1695.0,947.6 1698.0,947.6 1701.0,947.7 1704.0,947.7 1707.0,947.7 1710.0,947.8 1713.0,947.8 1716.0,947.8 1719.0,947.9 1722.0,947.9 1725.0,947.9 1728.0,947.9 1731.0,948.0 1734.0,948.0 1737.0,948.0 1740.0,948.0 1743.0,948.0 1746.0,948.0 1749.0,948.0 1752.0,948.0 1755.0,948.1 1758.0,948.1 1761.0,948.1 1764.0,948.1 1767.0,948.1 1770.0,948.1 1773.0,948.1 1776.0,948.1 1779.0,948.1 1782.0,948.1 1785.0,948.1 1788.0,948.1 1791.0,948.1 1794.0,948.0 1797.0,948.0 1800.0,948.0 1803.0,948.0 1806.0,948.0 1809.0,948.0 1812.0,948.0 1815.0,948.0 1818.0,948.0 1821.0,948.0 1824.0,948.0 1827.0,948.0 1830.0,948.0 1833.0,947.9 1836.0,947.9 1839.0,947.9 1842.0,947.9 1845.0,947.9 1848.0,947.9 1851.0,947.9 1854.0,947.9 1857.0,947.9 1860.0,947.9 1863.0,947.9 1866.0,947.9 1869.0,947.9 1872.0,947.9 1875.0,947.9 1878.0,947.9 1881.0,947.9 1884.0,947.9 1887.0,947.9 1890.0,947.9 1893.0,947.9 1896.0,947.9 1899.0,947.9 1902.0,947.9 1905.0,947.9 1908.0,948.0" stroke="#008080"/>
<path d="M150.0,761.7 153.0,759.5 156.0,757.0 159.0,754.2 162.0,751.3 165.0,748.1 168.0,744.8 171.0,741.4 174.0,737.8 177.0,734.1 180.0,730.3 183.0,726.5 186.0,722.6 189.0,718.7 192.0,714.8 195.0,710.9 198.0,707.0 201.0,703.2 204.0,699.4 207.0,695.8 210.0,692.3 213.0,688.9 216.0,685.8 219.0,683.0 222.0,680.5 225.0,678.2 228.0,675.9 231.0,673.5 234.0,670.8 237.0,667.8 240.0,664.4 243.0,660.5 246.0,656.6 249.0,653.3 252.0,650.9 255.0,649.4 258.0,648.8 261.0,648.9 264.0,649.7 267.0,651.1 270.0,652.7 273.0,654.3 276.0,655.4 279.0,656.1 282.0,656.3 285.0,655.9 288.0,654.8 291.0,653.1 294.0,650.6 297.0,647.4 300.0,643.7 303.0,640.0 306.0,636.1 309.0,631.7 312.0,626.7 315.0,621.3 318.0,615.5 321.0,609.5 324.0,603.3 327.0,597.1 330.0,590.8 333.0,584.5 336.0,578.3 339.0,572.0 342.0,565.8 345.0,559.5 348.0,553.2 351.0,547.0 354.0,540.8 357.0,534.5 360.0,528.3 363.0,522.1 366.0,516.0 369.0,509.8 372.0,503.7 375.0,497.6 378.0,491.5 381.0,485.5 384.0,479.5 387.0,473.6 390.0,467.6 393.0,461.6 396.0,455.6 399.0,449.4 402.0,443.2 405.0,436.8 408.0,430.3 411.0,423.6 414.0,416.8 417.0,410.0 420.0,403.2 423.0,396.6 426.0,390.3 429.0,384.1 432.0,378.0 435.0,372.2 438.0,366.4 441.0,360.8 444.0,355.3 447.0,349.9 450.0,344.6 453.0,339.3 456.0,334.1 459.0,328.9 462.0,323.7 465.0,318.6 468.0,313.4 471.0,308.5 474.0,303.7 477.0,299.2 480.0,295.1 483.0,291.4 486.0,288.1 489.0,285.1 492.0,282.6 495.0,280.2 498.0,278.1 501.0,276.2 504.0,274.5 507.0,272.9 510.0,271.4 513.0,270.1 516.0,269.0 519.0,268.0 522.0,267.2 525.0,266.6 528.0,266.2 531.0,266.0 534.0,266.0 537.0,266.3 540.0,266.7 543.0,267.4 546.0,268.3 549.0,269.4 552.0,270.8 555.0,272.4 558.0,274.2 561.0,276.3 564.0,278.6 567.0,281.2 570.0,284.0 573.0,287.1 576.0,290.4 579.0,293.9 582.0,297.8 585.0,301.8 588.0,306.2 591.0,310.8 594.0,315.6 597.0,320.6 600.0,325.8 603.0,331.3 606.0,336.9 609.0,342.7 612.0,348.7 615.0,354.9 618.0,361.2 621.0,367.7 624.0,374.3 627.0,381.1 630.0,387.9 633.0,394.9 636.0,401.9 639.0,409.1 642.0,416.4 645.0,423.7 648.0,431.2 651.0,438.8 654.0,446.6 657.0,454.4 660.0,461.9 663.0,468.8 666.0,475.4 669.0,482.2 672.0,489.6 675.0,497.7 678.0,506.2 681.0,515.0 684.0,524.0 687.0,533.0 690.0,542.1 693.0,551.0 696.0,559.8 699.0,568.4 702.0,576.8 705.0,585.1 708.0,593.1 711.0,601.1 714.0,608.9 717.0,616.5 720.0,624.1 723.0,631.6 726.0,639.0 729.0,646.3 732.0,653.5 735.0,660.7 738.0,667.9 741.0,675.1 744.0,682.2 747.0,689.3 750.0,696.4 753.0,703.5 756.0,710.4 759.0,717.3 762.0,724.2 765.0,730.9 768.0,737.5 771.0,744.0 774.0,750.4 777.0,756.7 780.0,762.9 783.0,768.9 786.0,774.8 789.0,780.6 792.0,786.2 795.0,791.7 798.0,797.0 801.0,802.2 804.0,807.3 807.0,812.1 810.0,816.8 813.0,821.3 816.0,825.6 819.0,829.7 822.0,833.6 825.0,837.3 828.0,840.7 831.0,844.0 834.0,847.0 837.0,849.9 840.0,852.7 843.0,855.5 846.0,858.3 849.0,861.1 852.0,864.0 855.0,867.0 858.0,870.1 861.0,873.3 864.0,876.3 867.0,879.2 870.0,882.0 873.0,884.5 876.0,886.8 879.0,889.0 882.0,891.1 885.0,893.0 888.0,894.7 891.0,896.3 894.0,897.8 897.0,899.2 900.0,900.5 903.0,901.7 906.0,902.8 909.0,903.8 912.0,904.8 915.0,905.7 918.0,906.5 921.0,907.3 924.0,908.1 927.0,908.8 930.0,909.4 933.0,910.0 936.0,910.5 939.0,911.0 942.0,911.4 945.0,911.8 948.0,912.1 951.0,912.4 954.0,912.6 957.0,912.8 960.0,913.0 963.0,913.1 966.0,913.1 969.0,913.2 972.0,913.2 975.0,913.2 978.0,913.1 981.0,913.1 984.0,913.0 987.0,912.8 990.0,912.7 993.0,912.5 996.0,912.3 999.0,912.1 1002.0,911.9 1005.0,911.7 1008.0,911.4 1011.0,911.1 1014.0,910.8 1017.0,910.5 1020.0,910.1 1023.0,909.8 1026.0,909.4 1029.0,909.0 1032.0,908.6 1035.0,908.2 1038.0,907.8 1041.0,907.3 1044.0,906.9 1047.0,906.4 1050.0,905.9 1053.0,905.4 1056.0,904.9 1059.0,904.4 1062.0,903.9 1065.0,903.4 1068.0,902.8 1071.0,902.2 1074.0,901.7 1077.0,901.1 1080.0,900.5 1083.0,899.9 1086.0,899.3 1089.0,898.7 1092.0,898.1 1095.0,897.5 1098.0,896.9 1101.0,896.2 1104.0,895.6 1107.0,895.0 1110.0,894.3 1113.0,893.7 1116.0,893.1 1119.0,892.4 1122.0,891.8 1125.0,891.2 1128.0,890.5 1131.0,889.9 1134.0,889.3 1137.0,888.7 1140.0,888.1 1143.0,887.5 1146.0,886.9 1149.0,886.3 1152.0,885.7 1155.0,885.1 1158.0,884.5 1161.0,884.0 1164.0,883.4 1167.0,882.9 1170.0,882.4 1173.0,881.8 1176.0,881.3 1179.0,880.8 1182.0,880.3 1185.0,879.9 1188.0,879.4 1191.0,879.0 1194.0,878.6 1197.0,878.1 1200.0,877.8 1203.0,877.4 1206.0,877.0 1209.0,876.7 1212.0,876.3 1215.0,876.0 1218.0,875.8 1221.0,875.5 1224.0,875.2 1227.0,875.0 1230.0,874.8 1233.0,874.6 1236.0,874.4 1239.0,874.3 1242.0,874.1 1245.0,874.0 1248.0,873.9 1251.0,873.8 1254.0,873.7 1257.0,873.6 1260.0,873.6 1263.0,873.5 1266.0,873.5 1269.0,873.5 1272.0,873.5 1275.0,873.5 1278.0,873.5 1281.0,873.5 1284.0,873.6 1287.0,873.7 1290.0,873.7 1293.0,873.8 1296.0,874.0 1299.0,874.1 1302.0,874.3 1305.0,874.5 1308.0,874.7 1311.0,875.0 1314.0,875.3 1317.0,875.6 1320.0,876.0 1323.0,876.4 1326.0,876.8 1329.0,877.3 1332.0,877.8 1335.0,878.3 1338.0,878.8 1341.0,879.4 1344.0,880.0 1347.0,880.6 1350.0,881.2 1353.0,881.9 1356.0,882.6 1359.0,883.3 1362.0,884.0 1365.0,884.8 1368.0,885.5 1371.0,886.3 1374.0,887.1 1377.0,887.9 1380.0,888.7 1383.0,889.6 1386.0,890.4 1389.0,891.3 1392.0,892.2 1395.0,893.1 1398.0,894.0 1401.0,894.9 1404.0,895.8 1407.0,896.7 1410.0,897.7 1413.0,898.6 1416.0,899.5 1419.0,900.5 1422.0,901.4 1425.0,902.4 1428.0,903.3 1431.0,904.3 1434.0,905.2 1437.0,906.2 1440.0,907.2 1443.0,908.1 1446.0,909.1 1449.0,910.0 1452.0,911.0 1455.0,911.9 1458.0,912.9 1461.0,913.8 1464.0,914.8 1467.0,915.7 1470.0,916.7 1473.0,917.6 1476.0,918.5 1479.0,919.4 1482.0,920.3 1485.0,921.2 1488.0,922.1 1491.0,923.0 1494.0,923.9 1497.0,924.7 1500.0,925.6 1503.0,926.4 1506.0,927.2 1509.0,928.0 1512.0,928.8 1515.0,929.5 1518.0,930.3 1521.0,931.0 1524.0,931.7 1527.0,932.4 1530.0,933.1 1533.0,933.7 1536.0,934.4 1539.0,935.0 1542.0,935.6 1545.0,936.1 1548.0,936.7 1551.0,937.2 1554.0,937.7 1557.0,938.2 1560.0,938.6 1563.0,939.1 1566.0,939.5 1569.0,939.9 1572.0,940.3 1575.0,940.7 1578.0,941.1 1581.0,941.4 1584.0,941.8 1587.0,942.1 1590.0,942.4 1593.0,942.7 1596.0,943.0 1599.0,943.2 1602.0,943.5 1605.0,943.7 1608.0,943.9 1611.0,944.2 1614.0,944.4 1617.0,944.6 1620.0,944.8 1623.0,944.9 1626.0,945.1 1629.0,945.3 1632.0,945.4 1635.0,945.6 1638.0,945.7 1641.0,945.8 1644.0,946.0 1647.0,946.1 1650.0,946.2 1653.0,946.3 1656.0,946.4 1659.0,946.5 1662.0,946.6 1665.0,946.7 1668.0,946.8 1671.0,946.9 1674.0,946.9 1677.0,947.0 1680.0,947.1 1683.0,947.2 1686.0,947.2 1689.0,947.3 1692.0,947.4 1695.0,947.4 1698.0,947.5 1701.0,947.5 1704.0,947.6 1707.0,947.6 1710.0,947.7 1713.0,947.7 1716.0,947.7 1719.0,947.8 1722.0,947.8 1725.0,947.8 1728.0,947.9 1731.0,947.9 1734.0,947.9 1737.0,947.9 1740.0,947.9 1743.0,948.0 1746.0,948.0 1749.0,948.0 1752.0,948.0 1755.0,948.0 1758.0,948.0 1761.0,948.0 1764.0,948.0 1767.0,948.0 1770.0,948.0 1773.0,948.0 1776.0,948.0 1779.0,948.0 1782.0,948.0 1785.0,948.0 1788.0,948.0 1791.0,948.0 1794.0,948.0 1797.0,948.0 1800.0,948.0 1803.0,948.0 1806.0,948.0 1809.0,948.0 1812.0,948.0 1815.0,947.9 1818.0,947.9 1821.0,947.9 1824.0,947.9 1827.0,947.9 1830.0,947.9 1833.0,947.9 1836.0,947.9 1839.0,947.9 1842.0,947.9 1845.0,947.9 1848.0,947.8 1851.0,947.8 1854.0,947.8 1857.0,947.8 1860.0,947.8 1863.0,947.8 1866.0,947.8 1869.0,947.8 1872.0,947.8 1875.0,947.8 1878.0,947.8 1881.0,947.8 1884.0,947.8 1887.0,947.9 1890.0,947.9 1893.0,947.9 1896.0,947.9 1899.0,947.9 1902.0,947.9 1905.0,947.9 1908.0,948.0" stroke="#ff00ff"/>
<path d="M150.0,762.0 153.0,759.8 156.0,757.3 159.0,754.6 162.0,751.7 165.0,748.6 168.0,745.4 171.0,742.0 174.0,738.4 177.0,734.8 180.0,731.1 183.0,727.3 186.0,723.5 189.0,719.6 192.0,715.7 195.0,711.9 198.0,708.1 201.0,704.3 204.0,700.6 207.0,697.0 210.0,693.5 213.0,690.2 216.0,687.2 219.0,684.5 222.0,682.0 225.0,679.7 228.0,677.4 231.0,675.0 234.0,672.4 237.0,669.5 240.0,666.1 243.0,662.4 246.0,658.6 249.0,655.4 252.0,653.2 255.0,652.0 258.0,651.6 261.0,652.0 264.0,653.2 267.0,655.0 270.0,657.0 273.0,658.9 276.0,660.5 279.0,661.6 282.0,662.2 285.0,662.2 288.0,661.5 291.0,660.2 294.0,658.1 297.0,655.2 300.0,651.9 303.0,648.4 306.0,644.7 309.0,640.5 312.0,635.8 315.0,630.6 318.0,625.1 321.0,619.4 324.0,613.4 327.0,607.5 330.0,601.5 333.0,595.5 336.0,589.5 339.0,583.5 342.0,577.4 345.0,571.4 348.0,565.4 351.0,559.4 354.0,553.4 357.0,547.3 360.0,541.4 363.0,535.4 366.0,529.4 369.0,523.4 372.0,517.5 375.0,511.6 378.0,505.7 381.0,499.9 384.0,494.0 387.0,488.3 390.0,482.5 393.0,476.6 396.0,470.8 399.0,464.8 402.0,458.8 405.0,452.6 408.0,446.3 411.0,439.9 414.0,433.3 417.0,426.7 420.0,420.1 423.0,413.8 426.0,407.6 429.0,401.6 432.0,395.8 435.0,390.1 438.0,384.6 441.0,379.1 444.0,373.8 447.0,368.6 450.0,363.4 453.0,358.3 456.0,353.3 459.0,348.3 462.0,343.3 465.0,338.3 468.0,333.4 471.0,328.6 474.0,324.0 477.0,319.6 480.0,315.6 483.0,312.0 486.0,308.8 489.0,306.0 492.0,303.5 495.0,301.2 498.0,299.2 501.0,297.3 504.0,295.6 507.0,294.1 510.0,292.6 513.0,291.4 516.0,290.3 519.0,289.3 522.0,288.5 525.0,288.0 528.0,287.6 531.0,287.4 534.0,287.4 537.0,287.6 540.0,288.0 543.0,288.7 546.0,289.6 549.0,290.6 552.0,292.0 555.0,293.5 558.0,295.3 561.0,297.3 564.0,299.5 567.0,302.0 570.0,304.7 573.0,307.7 576.0,310.9 579.0,314.3 582.0,318.0 585.0,322.0 588.0,326.2 591.0,330.6 594.0,335.2 597.0,340.1 600.0,345.1 603.0,350.4 606.0,355.8 609.0,361.5 612.0,367.3 615.0,373.2 618.0,379.3 621.0,385.6 624.0,392.0 627.0,398.5 630.0,405.1 633.0,411.8 636.0,418.7 639.0,425.6 642.0,432.6 645.0,439.7 648.0,446.9 651.0,454.3 654.0,461.8 657.0,469.4 660.0,476.6 663.0,483.3 666.0,489.7 669.0,496.3 672.0,503.5 675.0,511.2 678.0,519.4 681.0,527.9 684.0,536.6 687.0,545.3 690.0,554.0 693.0,562.6 696.0,571.1 699.0,579.4 702.0,587.5 705.0,595.4 708.0,603.2 711.0,610.9 714.0,618.4 717.0,625.8 720.0,633.1 723.0,640.3 726.0,647.5 729.0,654.5 732.0,661.6 735.0,668.5 738.0,675.5 741.0,682.4 744.0,689.3 747.0,696.2 750.0,703.1 753.0,709.9 756.0,716.7 759.0,723.3 762.0,729.9 765.0,736.5 768.0,742.8 771.0,749.1 774.0,755.3 777.0,761.4 780.0,767.3 783.0,773.1 786.0,778.8 789.0,784.3 792.0,789.7 795.0,795.0 798.0,800.1 801.0,805.1 804.0,810.0 807.0,814.7 810.0,819.1 813.0,823.5 816.0,827.6 819.0,831.5 822.0,835.3 825.0,838.8 828.0,842.1 831.0,845.1 834.0,848.0 837.0,850.8 840.0,853.5 843.0,856.1 846.0,858.7 849.0,861.4 852.0,864.1 855.0,866.9 858.0,869.9 861.0,872.8 864.0,875.7 867.0,878.3 870.0,880.8 873.0,883.2 876.0,885.3 879.0,887.3 882.0,889.2 885.0,890.9 888.0,892.5 891.0,893.9 894.0,895.3 897.0,896.5 900.0,897.6 903.0,898.7 906.0,899.6 909.0,900.5 912.0,901.3 915.0,902.1 918.0,902.8 921.0,903.5 924.0,904.1 927.0,904.7 930.0,905.2 933.0,905.7 936.0,906.1 939.0,906.4 942.0,906.7 945.0,907.0 948.0,907.2 951.0,907.4 954.0,907.5 957.0,907.6 960.0,907.6 963.0,907.6 966.0,907.6 969.0,907.5 972.0,907.4 975.0,907.3 978.0,907.1 981.0,906.9 984.0,906.7 987.0,906.5 990.0,906.2 993.0,905.9 996.0,905.6 999.0,905.3 1002.0,904.9 1005.0,904.6 1008.0,904.2 1011.0,903.8 1014.0,903.3 1017.0,902.9 1020.0,902.4 1023.0,902.0 1026.0,901.5 1029.0,901.0 1032.0,900.4 1035.0,899.9 1038.0,899.3 1041.0,898.8 1044.0,898.2 1047.0,897.6 1050.0,897.0 1053.0,896.3 1056.0,895.7 1059.0,895.1 1062.0,894.4 1065.0,893.7 1068.0,893.0 1071.0,892.3 1074.0,891.6 1077.0,890.9 1080.0,890.2 1083.0,889.5 1086.0,888.8 1089.0,888.0 1092.0,887.3 1095.0,886.5 1098.0,885.8 1101.0,885.0 1104.0,884.2 1107.0,883.5 1110.0,882.7 1113.0,881.9 1116.0,881.2 1119.0,880.4 1122.0,879.6 1125.0,878.9 1128.0,878.1 1131.0,877.3 1134.0,876.6 1137.0,875.8 1140.0,875.1 1143.0,874.3 1146.0,873.6 1149.0,872.9 1152.0,872.2 1155.0,871.5 1158.0,870.8 1161.0,870.1 1164.0,869.5 1167.0,868.8 1170.0,868.2 1173.0,867.5 1176.0,866.9 1179.0,866.3 1182.0,865.7 1185.0,865.2 1188.0,864.6 1191.0,864.1 1194.0,863.6 1197.0,863.1 1200.0,862.6 1203.0,862.1 1206.0,861.7 1209.0,861.3 1212.0,860.9 1215.0,860.5 1218.0,860.2 1221.0,859.8 1224.0,859.5 1227.0,859.3 1230.0,859.0 1233.0,858.8 1236.0,858.6 1239.0,858.4 1242.0,858.2 1245.0,858.0 1248.0,857.9 1251.0,857.8 1254.0,857.7 1257.0,857.6 1260.0,857.5 1263.0,857.5 1266.0,857.5 1269.0,857.4 1272.0,857.4 1275.0,857.4 1278.0,857.5 1281.0,857.5 1284.0,857.6 1287.0,857.6 1290.0,857.7 1293.0,857.9 1296.0,858.0 1299.0,858.2 1302.0,858.4 1305.0,858.6 1308.0,858.9 1311.0,859.3 1314.0,859.6 1317.0,860.0 1320.0,860.5 1323.0,861.0 1326.0,861.5 1329.0,862.0 1332.0,862.6 1335.0,863.2 1338.0,863.9 1341.0,864.6 1344.0,865.3 1347.0,866.1 1350.0,866.9 1353.0,867.7 1356.0,868.5 1359.0,869.4 1362.0,870.2 1365.0,871.1 1368.0,872.1 1371.0,873.0 1374.0,874.0 1377.0,875.0 1380.0,876.0 1383.0,877.0 1386.0,878.1 1389.0,879.1 1392.0,880.2 1395.0,881.3 1398.0,882.3 1401.0,883.4 1404.0,884.6 1407.0,885.7 1410.0,886.8 1413.0,887.9 1416.0,889.1 1419.0,890.2 1422.0,891.4 1425.0,892.5 1428.0,893.7 1431.0,894.9 1434.0,896.0 1437.0,897.2 1440.0,898.4 1443.0,899.5 1446.0,900.7 1449.0,901.8 1452.0,903.0 1455.0,904.2 1458.0,905.3 1461.0,906.5 1464.0,907.6 1467.0,908.8 1470.0,909.9 1473.0,911.0 1476.0,912.1 1479.0,913.3 1482.0,914.4 1485.0,915.4 1488.0,916.5 1491.0,917.6 1494.0,918.6 1497.0,919.7 1500.0,920.7 1503.0,921.7 1506.0,922.7 1509.0,923.7 1512.0,924.6 1515.0,925.5 1518.0,926.4 1521.0,927.3 1524.0,928.2 1527.0,929.0 1530.0,929.8 1533.0,930.6 1536.0,931.4 1539.0,932.1 1542.0,932.8 1545.0,933.5 1548.0,934.2 1551.0,934.8 1554.0,935.4 1557.0,936.0 1560.0,936.6 1563.0,937.1 1566.0,937.7 1569.0,938.2 1572.0,938.6 1575.0,939.1 1578.0,939.5 1581.0,940.0 1584.0,940.4 1587.0,940.8 1590.0,941.1 1593.0,941.5 1596.0,941.8 1599.0,942.1 1602.0,942.4 1605.0,942.7 1608.0,943.0 1611.0,943.3 1614.0,943.5 1617.0,943.8 1620.0,944.0 1623.0,944.2 1626.0,944.4 1629.0,944.6 1632.0,944.8 1635.0,945.0 1638.0,945.1 1641.0,945.3 1644.0,945.5 1647.0,945.6 1650.0,945.7 1653.0,945.9 1656.0,946.0 1659.0,946.1 1662.0,946.2 1665.0,946.3 1668.0,946.5 1671.0,946.6 1674.0,946.7 1677.0,946.7 1680.0,946.8 1683.0,946.9 1686.0,947.0 1689.0,947.1 1692.0,947.2 1695.0,947.2 1698.0,947.3 1701.0,947.4 1704.0,947.4 1707.0,947.5 1710.0,947.5 1713.0,947.6 1716.0,947.6 1719.0,947.7 1722.0,947.7 1725.0,947.7 1728.0,947.8 1731.0,947.8 1734.0,947.8 1737.0,947.8 1740.0,947.9 1743.0,947.9 1746.0,947.9 1749.0,947.9 1752.0,947.9 1755.0,947.9 1758.0,948.0 1761.0,948.0 1764.0,948.0 1767.0,948.0 1770.0,948.0 1773.0,948.0 1776.0,948.0 1779.0,948.0 1782.0,948.0 1785.0,948.0 1788.0,948.0 1791.0,948.0 1794.0,948.0 1797.0,947.9 1800.0,947.9 1803.0,947.9 1806.0,947.9 1809.0,947.9 1812.0,947.9 1815.0,947.9 1818.0,947.9 1821.0,947.9 1824.0,947.9 1827.0,947.8 1830.0,947.8 1833.0,947.8 1836.0,947.8 1839.0,947.8 1842.0,947.8 1845.0,947.8 1848.0,947.8 1851.0,947.8 1854.0,947.8 1857.0,947.8 1860.0,947.8 1863.0,947.8 1866.0,947.8 1869.0,947.8 1872.0,947.8 1875.0,947.8 1878.0,947.8 1881.0,947.8 1884.0,947.8 1887.0,947.8 1890.0,947.8 1893.0,947.8 1896.0,947.9 1899.0,947.9 1902.0,947.9 1905.0,947.9 1908.0,948.0" stroke="#808000"/>
<path d="M150.0,762.4 153.0,760.2 156.0,757.7 159.0,755.1 162.0,752.2 165.0,749.2 168.0,745.9 171.0,742.6 174.0,739.1 177.0,735.5 180.0,731.9 183.0,728.1 186.0,724.3 189.0,720.5 192.0,716.7 195.0,712.9 198.0,709.2 201.0,705.5 204.0,701.8 207.0,698.3 210.0,694.9 213.0,691.6 216.0,688.6 219.0,686.0 222.0,683.6 225.0,681.4 228.0,679.1 231.0,676.8 234.0,674.3 237.0,671.5 240.0,668.3 243.0,664.6 246.0,661.0 249.0,658.0 252.0,656.0 255.0,654.9 258.0,654.7 261.0,655.2 264.0,656.6 267.0,658.5 270.0,660.8 273.0,662.9 276.0,664.7 279.0,666.0 282.0,666.8 285.0,667.0 288.0,666.6 291.0,665.5 294.0,663.6 297.0,661.0 300.0,657.8 303.0,654.5 306.0,651.0 309.0,647.0 312.0,642.4 315.0,637.4 318.0,632.1 321.0,626.5 324.0,620.8 327.0,615.0 330.0,609.2 333.0,603.4 336.0,597.6 339.0,591.8 342.0,585.9 345.0,580.1 348.0,574.2 351.0,568.4 354.0,562.5 357.0,556.7 360.0,550.8 363.0,545.0 366.0,539.2 369.0,533.3 372.0,527.5 375.0,521.8 378.0,516.0 381.0,510.3 384.0,504.6 387.0,498.9 390.0,493.3 393.0,487.6 396.0,481.8 399.0,476.0 402.0,470.1 405.0,464.1 408.0,458.0 411.0,451.7 414.0,445.2 417.0,438.8 420.0,432.4 423.0,426.2 426.0,420.2 429.0,414.4 432.0,408.7 435.0,403.2 438.0,397.8 441.0,392.5 444.0,387.3 447.0,382.2 450.0,377.1 453.0,372.2 456.0,367.2 459.0,362.4 462.0,357.5 465.0,352.6 468.0,347.8 471.0,343.2 474.0,338.7 477.0,334.5 480.0,330.6 483.0,327.1 486.0,324.0 489.0,321.2 492.0,318.7 495.0,316.5 498.0,314.5 501.0,312.7 504.0,311.0 507.0,309.5 510.0,308.1 513.0,306.8 516.0,305.7 519.0,304.8 522.0,304.1 525.0,303.5 528.0,303.1 531.0,302.9 534.0,302.9 537.0,303.1 540.0,303.5 543.0,304.2 546.0,305.0 549.0,306.1 552.0,307.4 555.0,308.9 558.0,310.6 561.0,312.6 564.0,314.7 567.0,317.2 570.0,319.8 573.0,322.7 576.0,325.8 579.0,329.2 582.0,332.8 585.0,336.6 588.0,340.7 591.0,345.0 594.0,349.5 597.0,354.3 600.0,359.2 603.0,364.3 606.0,369.6 609.0,375.1 612.0,380.7 615.0,386.5 618.0,392.5 621.0,398.6 624.0,404.8 627.0,411.1 630.0,417.6 633.0,424.2 636.0,430.8 639.0,437.6 642.0,444.4 645.0,451.3 648.0,458.4 651.0,465.5 654.0,472.9 657.0,480.2 660.0,487.3 663.0,493.8 666.0,500.1 669.0,506.5 672.0,513.5 675.0,521.1 678.0,529.1 681.0,537.4 684.0,545.8 687.0,554.2 690.0,562.7 693.0,571.1 696.0,579.3 699.0,587.4 702.0,595.3 705.0,603.0 708.0,610.6 711.0,618.0 714.0,625.3 717.0,632.6 720.0,639.7 723.0,646.7 726.0,653.7 729.0,660.5 732.0,667.4 735.0,674.2 738.0,681.0 741.0,687.7 744.0,694.5 747.0,701.2 750.0,707.9 753.0,714.6 756.0,721.2 759.0,727.7 762.0,734.2 765.0,740.5 768.0,746.7 771.0,752.9 774.0,758.9 777.0,764.8 780.0,770.5 783.0,776.2 786.0,781.7 789.0,787.1 792.0,792.3 795.0,797.4 798.0,802.4 801.0,807.3 804.0,812.0 807.0,816.5 810.0,820.9 813.0,825.1 816.0,829.1 819.0,832.9 822.0,836.5 825.0,839.9 828.0,843.1 831.0,846.1 834.0,848.9 837.0,851.5 840.0,854.1 843.0,856.6 846.0,859.1 849.0,861.6 852.0,864.2 855.0,866.9 858.0,869.7 861.0,872.4 864.0,875.1 867.0,877.6 870.0,879.9 873.0,882.0 876.0,884.0 879.0,885.8 882.0,887.5 885.0,889.0 888.0,890.4 891.0,891.7 894.0,892.9 897.0,894.0 900.0,895.0 903.0,895.9 906.0,896.7 909.0,897.4 912.0,898.1 915.0,898.8 918.0,899.4 921.0,899.9 924.0,900.4 927.0,900.9 930.0,901.3 933.0,901.6 936.0,901.9 939.0,902.2 942.0,902.4 945.0,902.5 948.0,902.6 951.0,902.7 954.0,902.7 957.0,902.7 960.0,902.6 963.0,902.5 966.0,902.4 969.0,902.2 972.0,902.0 975.0,901.8 978.0,901.5 981.0,901.2 984.0,900.9 987.0,900.5 990.0,900.2 993.0,899.8 996.0,899.3 999.0,898.9 1002.0,898.5 1005.0,898.0 1008.0,897.5 1011.0,897.0 1014.0,896.4 1017.0,895.9 1020.0,895.3 1023.0,894.7 1026.0,894.1 1029.0,893.4 1032.0,892.8 1035.0,892.1 1038.0,891.5 1041.0,890.8 1044.0,890.1 1047.0,889.3 1050.0,888.6 1053.0,887.9 1056.0,887.1 1059.0,886.3 1062.0,885.6 1065.0,884.8 1068.0,884.0 1071.0,883.1 1074.0,882.3 1077.0,881.5 1080.0,880.6 1083.0,879.8 1086.0,878.9 1089.0,878.1 1092.0,877.2 1095.0,876.3 1098.0,875.4 1101.0,874.5 1104.0,873.6 1107.0,872.7 1110.0,871.9 1113.0,871.0 1116.0,870.1 1119.0,869.2 1122.0,868.3 1125.0,867.4 1128.0,866.5 1131.0,865.6 1134.0,864.7 1137.0,863.9 1140.0,863.0 1143.0,862.2 1146.0,861.3 1149.0,860.5 1152.0,859.7 1155.0,858.8 1158.0,858.0 1161.0,857.2 1164.0,856.5 1167.0,855.7 1170.0,855.0 1173.0,854.2 1176.0,853.5 1179.0,852.8 1182.0,852.1 1185.0,851.5 1188.0,850.8 1191.0,850.2 1194.0,849.6 1197.0,849.0 1200.0,848.5 1203.0,848.0 1206.0,847.5 1209.0,847.0 1212.0,846.5 1215.0,846.1 1218.0,845.7 1221.0,845.3 1224.0,844.9 1227.0,844.6 1230.0,844.3 1233.0,844.1 1236.0,843.8 1239.0,843.6 1242.0,843.4 1245.0,843.2 1248.0,843.0 1251.0,842.9 1254.0,842.8 1257.0,842.7 1260.0,842.6 1263.0,842.6 1266.0,842.5 1269.0,842.5 1272.0,842.5 1275.0,842.5 1278.0,842.5 1281.0,842.6 1284.0,842.7 1287.0,842.7 1290.0,842.9 1293.0,843.0 1296.0,843.2 1299.0,843.4 1302.0,843.6 1305.0,843.9 1308.0,844.3 1311.0,844.6 1314.0,845.1 1317.0,845.5 1320.0,846.1 1323.0,846.6 1326.0,847.2 1329.0,847.9 1332.0,848.6 1335.0,849.3 1338.0,850.1 1341.0,850.9 1344.0,851.7 1347.0,852.6 1350.0,853.5 1353.0,854.4 1356.0,855.4 1359.0,856.4 1362.0,857.4 1365.0,858.5 1368.0,859.6 1371.0,860.7 1374.0,861.8 1377.0,862.9 1380.0,864.1 1383.0,865.3 1386.0,866.5 1389.0,867.8 1392.0,869.0 1395.0,870.3 1398.0,871.5 1401.0,872.8 1404.0,874.1 1407.0,875.4 1410.0,876.7 1413.0,878.0 1416.0,879.4 1419.0,880.7 1422.0,882.0 1425.0,883.4 1428.0,884.7 1431.0,886.1 1434.0,887.4 1437.0,888.8 1440.0,890.2 1443.0,891.5 1446.0,892.9 1449.0,894.2 1452.0,895.6 1455.0,896.9 1458.0,898.3 1461.0,899.6 1464.0,901.0 1467.0,902.3 1470.0,903.6 1473.0,904.9 1476.0,906.2 1479.0,907.5 1482.0,908.8 1485.0,910.1 1488.0,911.3 1491.0,912.6 1494.0,913.8 1497.0,915.0 1500.0,916.2 1503.0,917.3 1506.0,918.5 1509.0,919.6 1512.0,920.7 1515.0,921.8 1518.0,922.9 1521.0,923.9 1524.0,924.9 1527.0,925.9 1530.0,926.8 1533.0,927.7 1536.0,928.6 1539.0,929.5 1542.0,930.3 1545.0,931.1 1548.0,931.9 1551.0,932.6 1554.0,933.3 1557.0,934.0 1560.0,934.7 1563.0,935.3 1566.0,935.9 1569.0,936.5 1572.0,937.1 1575.0,937.6 1578.0,938.1 1581.0,938.6 1584.0,939.1 1587.0,939.5 1590.0,940.0 1593.0,940.4 1596.0,940.8 1599.0,941.1 1602.0,941.5 1605.0,941.8 1608.0,942.2 1611.0,942.5 1614.0,942.8 1617.0,943.0 1620.0,943.3 1623.0,943.5 1626.0,943.8 1629.0,944.0 1632.0,944.2 1635.0,944.4 1638.0,944.6 1641.0,944.8 1644.0,945.0 1647.0,945.2 1650.0,945.3 1653.0,945.5 1656.0,945.6 1659.0,945.8 1662.0,945.9 1665.0,946.0 1668.0,946.2 1671.0,946.3 1674.0,946.4 1677.0,946.5 1680.0,946.6 1683.0,946.7 1686.0,946.8 1689.0,946.9 1692.0,947.0 1695.0,947.0 1698.0,947.1 1701.0,947.2 1704.0,947.3 1707.0,947.3 1710.0,947.4 1713.0,947.4 1716.0,947.5 1719.0,947.5 1722.0,947.6 1725.0,947.6 1728.0,947.7 1731.0,947.7 1734.0,947.7 1737.0,947.8 1740.0,947.8 1743.0,947.8 1746.0,947.8 1749.0,947.9 1752.0,947.9 1755.0,947.9 1758.0,947.9 1761.0,947.9 1764.0,947.9 1767.0,947.9 1770.0,947.9 1773.0,947.9 1776.0,947.9 1779.0,947.9 1782.0,947.9 1785.0,947.9 1788.0,947.9 1791.0,947.9 1794.0,947.9 1797.0,947.9 1800.0,947.9 1803.0,947.9 1806.0,947.9 1809.0,947.9 1812.0,947.8 1815.0,947.8 1818.0,947.8 1821.0,947.8 1824.0,947.8 1827.0,947.8 1830.0,947.8 1833.0,947.8 1836.0,947.8 1839.0,947.7 1842.0,947.7 1845.0,947.7 1848.0,947.7 1851.0,947.7 1854.0,947.7 1857.0,947.7 1860.0,947.7 1863.0,947.7 1866.0,947.7 1869.0,947.7 1872.0,947.7 1875.0,947.7 1878.0,947.7 1881.0,947.7 1884.0,947.8 1887.0,947.8 1890.0,947.8 1893.0,947.8 1896.0,947.8 1899.0,947.9 1902.0,947.9 1905.0,947.9 1908.0,947.9" stroke="#000080"/>
<path d="M150.0,763.2 153.0,761.1 156.0,758.8 159.0,756.2 162.0,753.4 165.0,750.5 168.0,747.4 171.0,744.2 174.0,740.8 177.0,737.4 180.0,733.9 183.0,730.3 186.0,726.6 189.0,723.0 192.0,719.3 195.0,715.6 198.0,712.0 201.0,708.4 204.0,705.0 207.0,701.6 210.0,698.3 213.0,695.2 216.0,692.4 219.0,690.0 222.0,687.8 225.0,685.8 228.0,683.8 231.0,681.8 234.0,679.6 237.0,677.1 240.0,674.2 243.0,671.0 246.0,667.8 249.0,665.1 252.0,663.4 255.0,662.5 258.0,662.5 261.0,663.1 264.0,664.4 267.0,666.3 270.0,668.5 273.0,670.6 276.0,672.3 279.0,673.6 282.0,674.4 285.0,674.6 288.0,674.2 291.0,673.1 294.0,671.3 297.0,668.8 300.0,665.8 303.0,662.6 306.0,659.3 309.0,655.5 312.0,651.2 315.0,646.4 318.0,641.4 321.0,636.1 324.0,630.6 327.0,625.1 330.0,619.6 333.0,614.0 336.0,608.4 339.0,602.8 342.0,597.2 345.0,591.6 348.0,586.0 351.0,580.3 354.0,574.7 357.0,569.0 360.0,563.4 363.0,557.7 366.0,552.1 369.0,546.5 372.0,540.9 375.0,535.3 378.0,529.7 381.0,524.1 384.0,518.6 387.0,513.1 390.0,507.6 393.0,502.1 396.0,496.5 399.0,490.9 402.0,485.2 405.0,479.4 408.0,473.4 411.0,467.3 414.0,461.1 417.0,454.9 420.0,448.8 423.0,442.8 426.0,437.0 429.0,431.3 432.0,425.9 435.0,420.5 438.0,415.3 441.0,410.2 444.0,405.1 447.0,400.2 450.0,395.3 453.0,390.5 456.0,385.8 459.0,381.1 462.0,376.4 465.0,371.7 468.0,367.1 471.0,362.6 474.0,358.2 477.0,354.2 480.0,350.4 483.0,347.0 486.0,344.0 489.0,341.3 492.0,338.9 495.0,336.8 498.0,334.8 501.0,333.1 504.0,331.4 507.0,329.9 510.0,328.6 513.0,327.3 516.0,326.3 519.0,325.4 522.0,324.6 525.0,324.1 528.0,323.7 531.0,323.5 534.0,323.5 537.0,323.7 540.0,324.1 543.0,324.7 546.0,325.5 549.0,326.6 552.0,327.8 555.0,329.3 558.0,330.9 561.0,332.8 564.0,334.9 567.0,337.3 570.0,339.8 573.0,342.6 576.0,345.6 579.0,348.9 582.0,352.4 585.0,356.1 588.0,360.0 591.0,364.1 594.0,368.5 597.0,373.1 600.0,377.8 603.0,382.8 606.0,387.9 609.0,393.2 612.0,398.6 615.0,404.2 618.0,410.0 621.0,415.8 624.0,421.8 627.0,428.0 630.0,434.2 633.0,440.5 636.0,447.0 639.0,453.5 642.0,460.1 645.0,466.8 648.0,473.6 651.0,480.5 654.0,487.5 657.0,494.7 660.0,501.5 663.0,507.8 666.0,513.8 669.0,520.1 672.0,526.9 675.0,534.2 678.0,541.9 681.0,549.8 684.0,557.9 687.0,566.1 690.0,574.2 693.0,582.3 696.0,590.2 699.0,598.0 702.0,605.6 705.0,613.0 708.0,620.3 711.0,627.5 714.0,634.6 717.0,641.5 720.0,648.4 723.0,655.2 726.0,661.9 729.0,668.5 732.0,675.1 735.0,681.7 738.0,688.2 741.0,694.8 744.0,701.3 747.0,707.8 750.0,714.3 753.0,720.8 756.0,727.2 759.0,733.5 762.0,739.8 765.0,745.9 768.0,751.9 771.0,757.8 774.0,763.6 777.0,769.3 780.0,774.8 783.0,780.3 786.0,785.6 789.0,790.7 792.0,795.7 795.0,800.6 798.0,805.4 801.0,810.1 804.0,814.6 807.0,818.9 810.0,823.1 813.0,827.1 816.0,830.9 819.0,834.6 822.0,838.0 825.0,841.3 828.0,844.3 831.0,847.2 834.0,849.8 837.0,852.4 840.0,854.8 843.0,857.2 846.0,859.5 849.0,861.9 852.0,864.3 855.0,866.8 858.0,869.4 861.0,872.0 864.0,874.5 867.0,876.8 870.0,878.9 873.0,880.9 876.0,882.7 879.0,884.4 882.0,885.9 885.0,887.3 888.0,888.5 891.0,889.7 894.0,890.7 897.0,891.7 900.0,892.5 903.0,893.3 906.0,894.0 909.0,894.6 912.0,895.2 915.0,895.7 918.0,896.2 921.0,896.7 924.0,897.1 927.0,897.5 930.0,897.8 933.0,898.0 936.0,898.2 939.0,898.3 942.0,898.4 945.0,898.5 948.0,898.5 951.0,898.5 954.0,898.4 957.0,898.3 960.0,898.1 963.0,897.9 966.0,897.7 969.0,897.4 972.0,897.1 975.0,896.8 978.0,896.4 981.0,896.0 984.0,895.6 987.0,895.2 990.0,894.7 993.0,894.2 996.0,893.7 999.0,893.1 1002.0,892.6 1005.0,892.0 1008.0,891.4 1011.0,890.8 1014.0,890.1 1017.0,889.5 1020.0,888.8 1023.0,888.1 1026.0,887.4 1029.0,886.6 1032.0,885.9 1035.0,885.1 1038.0,884.3 1041.0,883.5 1044.0,882.7 1047.0,881.9 1050.0,881.1 1053.0,880.2 1056.0,879.3 1059.0,878.5 1062.0,877.6 1065.0,876.7 1068.0,875.7 1071.0,874.8 1074.0,873.9 1077.0,872.9 1080.0,872.0 1083.0,871.0 1086.0,870.0 1089.0,869.1 1092.0,868.1 1095.0,867.1 1098.0,866.1 1101.0,865.1 1104.0,864.1 1107.0,863.1 1110.0,862.0 1113.0,861.0 1116.0,860.0 1119.0,859.0 1122.0,858.0 1125.0,857.0 1128.0,856.0 1131.0,855.0 1134.0,854.0 1137.0,853.0 1140.0,852.1 1143.0,851.1 1146.0,850.2 1149.0,849.2 1152.0,848.3 1155.0,847.4 1158.0,846.5 1161.0,845.6 1164.0,844.7 1167.0,843.9 1170.0,843.0 1173.0,842.2 1176.0,841.4 1179.0,840.6 1182.0,839.8 1185.0,839.1 1188.0,838.4 1191.0,837.7 1194.0,837.0 1197.0,836.3 1200.0,835.7 1203.0,835.1 1206.0,834.6 1209.0,834.0 1212.0,833.5 1215.0,833.0 1218.0,832.6 1221.0,832.1 1224.0,831.7 1227.0,831.4 1230.0,831.0 1233.0,830.7 1236.0,830.4 1239.0,830.2 1242.0,830.0 1245.0,829.8 1248.0,829.6 1251.0,829.4 1254.0,829.3 1257.0,829.2 1260.0,829.1 1263.0,829.1 1266.0,829.0 1269.0,829.0 1272.0,829.0 1275.0,829.0 1278.0,829.0 1281.0,829.1 1284.0,829.2 1287.0,829.3 1290.0,829.4 1293.0,829.5 1296.0,829.7 1299.0,830.0 1302.0,830.3 1305.0,830.6 1308.0,831.0 1311.0,831.4 1314.0,831.9 1317.0,832.4 1320.0,833.0 1323.0,833.6 1326.0,834.3 1329.0,835.0 1332.0,835.8 1335.0,836.6 1338.0,837.5 1341.0,838.4 1344.0,839.4 1347.0,840.3 1350.0,841.4 1353.0,842.4 1356.0,843.5 1359.0,844.7 1362.0,845.8 1365.0,847.0 1368.0,848.2 1371.0,849.5 1374.0,850.8 1377.0,852.0 1380.0,853.4 1383.0,854.7 1386.0,856.1 1389.0,857.5 1392.0,858.9 1395.0,860.3 1398.0,861.7 1401.0,863.2 1404.0,864.6 1407.0,866.1 1410.0,867.6 1413.0,869.1 1416.0,870.6 1419.0,872.1 1422.0,873.6 1425.0,875.1 1428.0,876.6 1431.0,878.2 1434.0,879.7 1437.0,881.2 1440.0,882.7 1443.0,884.3 1446.0,885.8 1449.0,887.3 1452.0,888.9 1455.0,890.4 1458.0,891.9 1461.0,893.4 1464.0,894.9 1467.0,896.4 1470.0,897.9 1473.0,899.4 1476.0,900.8 1479.0,902.3 1482.0,903.8 1485.0,905.2 1488.0,906.6 1491.0,908.0 1494.0,909.4 1497.0,910.7 1500.0,912.1 1503.0,913.4 1506.0,914.7 1509.0,916.0 1512.0,917.2 1515.0,918.4 1518.0,919.6 1521.0,920.8 1524.0,921.9 1527.0,923.0 1530.0,924.1 1533.0,925.1 1536.0,926.1 1539.0,927.1 1542.0,928.0 1545.0,928.9 1548.0,929.8 1551.0,930.6 1554.0,931.4 1557.0,932.2 1560.0,932.9 1563.0,933.7 1566.0,934.3 1569.0,935.0 1572.0,935.6 1575.0,936.2 1578.0,936.8 1581.0,937.4 1584.0,937.9 1587.0,938.4 1590.0,938.9 1593.0,939.4 1596.0,939.8 1599.0,940.2 1602.0,940.6 1605.0,941.0 1608.0,941.4 1611.0,941.7 1614.0,942.0 1617.0,942.4 1620.0,942.7 1623.0,942.9 1626.0,943.2 1629.0,943.5 1632.0,943.7 1635.0,943.9 1638.0,944.2 1641.0,944.4 1644.0,944.6 1647.0,944.8 1650.0,944.9 1653.0,945.1 1656.0,945.3 1659.0,945.4 1662.0,945.6 1665.0,945.7 1668.0,945.9 1671.0,946.0 1674.0,946.1 1677.0,946.3 1680.0,946.4 1683.0,946.5 1686.0,946.6 1689.0,946.7 1692.0,946.8 1695.0,946.9 1698.0,947.0 1701.0,947.1 1704.0,947.1 1707.0,947.2 1710.0,947.3 1713.0,947.3 1716.0,947.4 1719.0,947.5 1722.0,947.5 1725.0,947.6 1728.0,947.6 1731.0,947.6 1734.0,947.7 1737.0,947.7 1740.0,947.7 1743.0,947.8 1746.0,947.8 1749.0,947.8 1752.0,947.8 1755.0,947.8 1758.0,947.9 1761.0,947.9 1764.0,947.9 1767.0,947.9 1770.0,947.9 1773.0,947.9 1776.0,947.9 1779.0,947.9 1782.0,947.9 1785.0,947.9 1788.0,947.9 1791.0,947.9 1794.0,947.9 1797.0,947.9 1800.0,947.8 1803.0,947.8 1806.0,947.8 1809.0,947.8 1812.0,947.8 1815.0,947.8 1818.0,947.8 1821.0,947.8 1824.0,947.8 1827.0,947.7 1830.0,947.7 1833.0,947.7 1836.0,947.7 1839.0,947.7 1842.0,947.7 1845.0,947.7 1848.0,947.7 1851.0,947.7 1854.0,947.7 1857.0,947.7 1860.0,947.7 1863.0,947.7 1866.0,947.7 1869.0,947.7 1872.0,947.7 1875.0,947.7 1878.0,947.7 1881.0,947.7 1884.0,947.7 1887.0,947.7 1890.0,947.8 1893.0,947.8 1896.0,947.8 1899.0,947.8 1902.0,947.9 1905.0,947.9 1908.0,947.9" stroke="#800000"/>
<path d="M150.0,763.7 153.0,761.6 156.0,759.3 159.0,756.8 162.0,754.1 165.0,751.2 168.0,748.2 171.0,745.0 174.0,741.8 177.0,738.4 180.0,734.9 183.0,731.4 186.0,727.8 189.0,724.3 192.0,720.7 195.0,717.1 198.0,713.6 201.0,710.1 204.0,706.7 207.0,703.4 210.0,700.2 213.0,697.2 216.0,694.4 219.0,692.1 222.0,690.0 225.0,688.0 228.0,686.1 231.0,684.2 234.0,682.1 237.0,679.6 240.0,676.9 243.0,673.8 246.0,670.7 249.0,668.2 252.0,666.7 255.0,666.0 258.0,666.2 261.0,667.0 264.0,668.6 267.0,670.8 270.0,673.2 273.0,675.6 276.0,677.7 279.0,679.3 282.0,680.5 285.0,681.0 288.0,680.9 291.0,680.2 294.0,678.8 297.0,676.6 300.0,673.9 303.0,671.0 306.0,667.8 309.0,664.2 312.0,660.1 315.0,655.7 318.0,650.8 321.0,645.8 324.0,640.6 327.0,635.4 330.0,630.1 333.0,624.8 336.0,619.5 339.0,614.1 342.0,608.8 345.0,603.4 348.0,598.0 351.0,592.6 354.0,587.1 357.0,581.7 360.0,576.3 363.0,570.8 366.0,565.4 369.0,559.9 372.0,554.5 375.0,549.1 378.0,543.7 381.0,538.3 384.0,532.9 387.0,527.6 390.0,522.3 393.0,516.9 396.0,511.6 399.0,506.1 402.0,500.6 405.0,495.0 408.0,489.2 411.0,483.4 414.0,477.4 417.0,471.4 420.0,465.5 423.0,459.7 426.0,454.1 429.0,448.7 432.0,443.4 435.0,438.2 438.0,433.2 441.0,428.3 444.0,423.4 447.0,418.7 450.0,414.0 453.0,409.3 456.0,404.8 459.0,400.2 462.0,395.7 465.0,391.2 468.0,386.7 471.0,382.4 474.0,378.3 477.0,374.4 480.0,370.7 483.0,367.5 486.0,364.6 489.0,362.0 492.0,359.6 495.0,357.5 498.0,355.6 501.0,353.9 504.0,352.3 507.0,350.9 510.0,349.5 513.0,348.4 516.0,347.3 519.0,346.4 522.0,345.7 525.0,345.2 528.0,344.8 531.0,344.6 534.0,344.6 537.0,344.8 540.0,345.2 543.0,345.8 546.0,346.5 549.0,347.5 552.0,348.7 555.0,350.1 558.0,351.8 561.0,353.6 564.0,355.6 567.0,357.9 570.0,360.3 573.0,363.0 576.0,365.9 579.0,369.0 582.0,372.4 585.0,376.0 588.0,379.8 591.0,383.7 594.0,387.9 597.0,392.3 600.0,396.9 603.0,401.7 606.0,406.6 609.0,411.7 612.0,416.9 615.0,422.3 618.0,427.9 621.0,433.5 624.0,439.3 627.0,445.2 630.0,451.2 633.0,457.3 636.0,463.5 639.0,469.8 642.0,476.1 645.0,482.6 648.0,489.1 651.0,495.8 654.0,502.6 657.0,509.4 660.0,516.0 663.0,522.1 666.0,528.0 669.0,534.0 672.0,540.6 675.0,547.6 678.0,555.0 681.0,562.6 684.0,570.4 687.0,578.2 690.0,586.1 693.0,593.8 696.0,601.4 699.0,608.8 702.0,616.1 705.0,623.3 708.0,630.3 711.0,637.2 714.0,644.0 717.0,650.7 720.0,657.3 723.0,663.8 726.0,670.3 729.0,676.7 732.0,683.0 735.0,689.4 738.0,695.7 741.0,702.0 744.0,708.3 747.0,714.6 750.0,720.9 753.0,727.2 756.0,733.4 759.0,739.5 762.0,745.5 765.0,751.4 768.0,757.2 771.0,762.9 774.0,768.5 777.0,773.9 780.0,779.2 783.0,784.4 786.0,789.5 789.0,794.4 792.0,799.2 795.0,803.9 798.0,808.5 801.0,813.0 804.0,817.3 807.0,821.4 810.0,825.4 813.0,829.2 816.0,832.9 819.0,836.3 822.0,839.6 825.0,842.7 828.0,845.6 831.0,848.3 834.0,850.8 837.0,853.2 840.0,855.5 843.0,857.8 846.0,860.0 849.0,862.2 852.0,864.5 855.0,866.8 858.0,869.2 861.0,871.5 864.0,873.8 867.0,875.9 870.0,877.9 873.0,879.7 876.0,881.3 879.0,882.8 882.0,884.2 885.0,885.4 888.0,886.5 891.0,887.5 894.0,888.4 897.0,889.2 900.0,889.9 903.0,890.6 906.0,891.1 909.0,891.7 912.0,892.1 915.0,892.5 918.0,892.9 921.0,893.3 924.0,893.6 927.0,893.8 930.0,894.0 933.0,894.1 936.0,894.2 939.0,894.3 942.0,894.3 945.0,894.2 948.0,894.1 951.0,894.0 954.0,893.8 957.0,893.6 960.0,893.3 963.0,893.0 966.0,892.7 969.0,892.3 972.0,891.9 975.0,891.5 978.0,891.0 981.0,890.5 984.0,890.0 987.0,889.5 990.0,888.9 993.0,888.3 996.0,887.7 999.0,887.0 1002.0,886.3 1005.0,885.7 1008.0,884.9 1011.0,884.2 1014.0,883.5 1017.0,882.7 1020.0,881.9 1023.0,881.1 1026.0,880.3 1029.0,879.4 1032.0,878.6 1035.0,877.7 1038.0,876.8 1041.0,875.9 1044.0,874.9 1047.0,874.0 1050.0,873.0 1053.0,872.1 1056.0,871.1 1059.0,870.1 1062.0,869.1 1065.0,868.0 1068.0,867.0 1071.0,866.0 1074.0,864.9 1077.0,863.8 1080.0,862.8 1083.0,861.7 1086.0,860.6 1089.0,859.5 1092.0,858.4 1095.0,857.3 1098.0,856.1 1101.0,855.0 1104.0,853.9 1107.0,852.7 1110.0,851.6 1113.0,850.5 1116.0,849.4 1119.0,848.2 1122.0,847.1 1125.0,846.0 1128.0,844.9 1131.0,843.8 1134.0,842.6 1137.0,841.5 1140.0,840.5 1143.0,839.4 1146.0,838.3 1149.0,837.3 1152.0,836.2 1155.0,835.2 1158.0,834.2 1161.0,833.2 1164.0,832.2 1167.0,831.3 1170.0,830.3 1173.0,829.4 1176.0,828.5 1179.0,827.6 1182.0,826.8 1185.0,825.9 1188.0,825.1 1191.0,824.3 1194.0,823.6 1197.0,822.9 1200.0,822.2 1203.0,821.5 1206.0,820.8 1209.0,820.2 1212.0,819.7 1215.0,819.1 1218.0,818.6 1221.0,818.1 1224.0,817.7 1227.0,817.3 1230.0,816.9 1233.0,816.6 1236.0,816.3 1239.0,816.0 1242.0,815.7 1245.0,815.5 1248.0,815.3 1251.0,815.1 1254.0,815.0 1257.0,814.9 1260.0,814.8 1263.0,814.7 1266.0,814.7 1269.0,814.6 1272.0,814.6 1275.0,814.6 1278.0,814.7 1281.0,814.7 1284.0,814.8 1287.0,814.9 1290.0,815.1 1293.0,815.3 1296.0,815.5 1299.0,815.7 1302.0,816.1 1305.0,816.4 1308.0,816.8 1311.0,817.3 1314.0,817.9 1317.0,818.5 1320.0,819.1 1323.0,819.8 1326.0,820.6 1329.0,821.4 1332.0,822.3 1335.0,823.2 1338.0,824.2 1341.0,825.2 1344.0,826.3 1347.0,827.4 1350.0,828.5 1353.0,829.7 1356.0,830.9 1359.0,832.2 1362.0,833.5 1365.0,834.8 1368.0,836.2 1371.0,837.6 1374.0,839.0 1377.0,840.5 1380.0,842.0 1383.0,843.5 1386.0,845.0 1389.0,846.5 1392.0,848.1 1395.0,849.7 1398.0,851.3 1401.0,852.9 1404.0,854.6 1407.0,856.2 1410.0,857.9 1413.0,859.5 1416.0,861.2 1419.0,862.9 1422.0,864.6 1425.0,866.3 1428.0,868.0 1431.0,869.7 1434.0,871.4 1437.0,873.1 1440.0,874.9 1443.0,876.6 1446.0,878.3 1449.0,880.0 1452.0,881.7 1455.0,883.4 1458.0,885.1 1461.0,886.8 1464.0,888.5 1467.0,890.2 1470.0,891.8 1473.0,893.5 1476.0,895.1 1479.0,896.8 1482.0,898.4 1485.0,900.0 1488.0,901.6 1491.0,903.2 1494.0,904.7 1497.0,906.2 1500.0,907.7 1503.0,909.2 1506.0,910.7 1509.0,912.1 1512.0,913.5 1515.0,914.9 1518.0,916.2 1521.0,917.5 1524.0,918.8 1527.0,920.0 1530.0,921.2 1533.0,922.4 1536.0,923.5 1539.0,924.6 1542.0,925.6 1545.0,926.6 1548.0,927.6 1551.0,928.5 1554.0,929.4 1557.0,930.3 1560.0,931.1 1563.0,931.9 1566.0,932.7 1569.0,933.4 1572.0,934.1 1575.0,934.8 1578.0,935.4 1581.0,936.1 1584.0,936.7 1587.0,937.2 1590.0,937.8 1593.0,938.3 1596.0,938.8 1599.0,939.3 1602.0,939.7 1605.0,940.1 1608.0,940.5 1611.0,940.9 1614.0,941.3 1617.0,941.7 1620.0,942.0 1623.0,942.3 1626.0,942.6 1629.0,942.9 1632.0,943.2 1635.0,943.4 1638.0,943.7 1641.0,943.9 1644.0,944.1 1647.0,944.3 1650.0,944.5 1653.0,944.7 1656.0,944.9 1659.0,945.1 1662.0,945.3 1665.0,945.4 1668.0,945.6 1671.0,945.7 1674.0,945.9 1677.0,946.0 1680.0,946.2 1683.0,946.3 1686.0,946.4 1689.0,946.5 1692.0,946.6 1695.0,946.7 1698.0,946.8 1701.0,946.9 1704.0,947.0 1707.0,947.1 1710.0,947.2 1713.0,947.2 1716.0,947.3 1719.0,947.4 1722.0,947.4 1725.0,947.5 1728.0,947.5 1731.0,947.6 1734.0,947.6 1737.0,947.6 1740.0,947.7 1743.0,947.7 1746.0,947.7 1749.0,947.8 1752.0,947.8 1755.0,947.8 1758.0,947.8 1761.0,947.8 1764.0,947.8 1767.0,947.8 1770.0,947.8 1773.0,947.8 1776.0,947.8 1779.0,947.8 1782.0,947.8 1785.0,947.8 1788.0,947.8 1791.0,947.8 1794.0,947.8 1797.0,947.8 1800.0,947.8 1803.0,947.8 1806.0,947.8 1809.0,947.8 1812.0,947.7 1815.0,947.7 1818.0,947.7 1821.0,947.7 1824.0,947.7 1827.0,947.7 1830.0,947.7 1833.0,947.7 1836.0,947.7 1839.0,947.6 1842.0,947.6 1845.0,947.6 1848.0,947.6 1851.0,947.6 1854.0,947.6 1857.0,947.6 1860.0,947.6 1863.0,947.6 1866.0,947.6 1869.0,947.6 1872.0,947.6 1875.0,947.6 1878.0,947.6 1881.0,947.7 1884.0,947.7 1887.0,947.7 1890.0,947.7 1893.0,947.8 1896.0,947.8 1899.0,947.8 1902.0,947.9 1905.0,947.9 1908.0,947.9" stroke="#ff0080"/>
<path d="M150.0,764.3 153.0,762.3 156.0,760.0 159.0,757.6 162.0,755.0 165.0,752.2 168.0,749.2 171.0,746.1 174.0,742.9 177.0,739.7 180.0,736.3 183.0,732.9 186.0,729.4 189.0,725.9 192.0,722.4 195.0,719.0 198.0,715.5 201.0,712.1 204.0,708.8 207.0,705.6 210.0,702.5 213.0,699.6 216.0,697.0 219.0,694.8 222.0,692.8 225.0,691.0 228.0,689.2 231.0,687.4 234.0,685.4 237.0,683.2 240.0,680.6 243.0,677.7 246.0,674.9 249.0,672.6 252.0,671.2 255.0,670.7 258.0,670.9 261.0,671.9 264.0,673.5 267.0,675.8 270.0,678.3 273.0,680.7 276.0,682.8 279.0,684.5 282.0,685.7 285.0,686.4 288.0,686.4 291.0,685.8 294.0,684.4 297.0,682.4 300.0,679.9 303.0,677.1 306.0,674.1 309.0,670.7 312.0,666.7 315.0,662.4 318.0,657.8 321.0,653.0 324.0,648.0 327.0,643.0 330.0,637.9 333.0,632.8 336.0,627.6 339.0,622.4 342.0,617.3 345.0,612.0 348.0,606.8 351.0,601.6 354.0,596.3 357.0,591.0 360.0,585.7 363.0,580.4 366.0,575.1 369.0,569.8 372.0,564.5 375.0,559.2 378.0,554.0 381.0,548.7 384.0,543.5 387.0,538.3 390.0,533.1 393.0,527.9 396.0,522.6 399.0,517.3 402.0,511.9 405.0,506.5 408.0,500.9 411.0,495.2 414.0,489.4 417.0,483.5 420.0,477.8 423.0,472.2 426.0,466.8 429.0,461.5 432.0,456.3 435.0,451.3 438.0,446.4 441.0,441.6 444.0,436.9 447.0,432.2 450.0,427.7 453.0,423.2 456.0,418.7 459.0,414.3 462.0,409.9 465.0,405.5 468.0,401.2 471.0,397.0 474.0,393.0 477.0,389.2 480.0,385.7 483.0,382.5 486.0,379.7 489.0,377.1 492.0,374.8 495.0,372.8 498.0,370.9 501.0,369.3 504.0,367.7 507.0,366.3 510.0,365.0 513.0,363.8 516.0,362.8 519.0,361.9 522.0,361.2 525.0,360.7 528.0,360.3 531.0,360.1 534.0,360.1 537.0,360.3 540.0,360.7 543.0,361.2 546.0,362.0 549.0,363.0 552.0,364.1 555.0,365.5 558.0,367.1 561.0,368.8 564.0,370.8 567.0,373.0 570.0,375.4 573.0,378.0 576.0,380.8 579.0,383.9 582.0,387.1 585.0,390.6 588.0,394.3 591.0,398.2 594.0,402.2 597.0,406.5 600.0,411.0 603.0,415.6 606.0,420.4 609.0,425.3 612.0,430.4 615.0,435.6 618.0,441.0 621.0,446.5 624.0,452.1 627.0,457.9 630.0,463.7 633.0,469.6 636.0,475.6 639.0,481.7 642.0,487.9 645.0,494.2 648.0,500.5 651.0,507.0 654.0,513.6 657.0,520.3 660.0,526.7 663.0,532.6 666.0,538.3 669.0,544.2 672.0,550.6 675.0,557.4 678.0,564.6 681.0,572.0 684.0,579.6 687.0,587.2 690.0,594.7 693.0,602.2 696.0,609.6 699.0,616.8 702.0,623.9 705.0,630.8 708.0,637.6 711.0,644.3 714.0,650.9 717.0,657.4 720.0,663.8 723.0,670.2 726.0,676.4 729.0,682.7 732.0,688.9 735.0,695.0 738.0,701.2 741.0,707.3 744.0,713.5 747.0,719.6 750.0,725.8 753.0,731.9 756.0,737.9 759.0,743.8 762.0,749.7 765.0,755.5 768.0,761.1 771.0,766.6 774.0,772.0 777.0,777.3 780.0,782.5 783.0,787.5 786.0,792.4 789.0,797.2 792.0,801.8 795.0,806.4 798.0,810.8 801.0,815.1 804.0,819.2 807.0,823.2 810.0,827.0 813.0,830.7 816.0,834.2 819.0,837.6 822.0,840.7 825.0,843.7 828.0,846.5 831.0,849.1 834.0,851.5 837.0,853.8 840.0,856.0 843.0,858.1 846.0,860.3 849.0,862.4 852.0,864.5 855.0,866.8 858.0,869.0 861.0,871.3 864.0,873.4 867.0,875.4 870.0,877.2 873.0,878.9 876.0,880.5 879.0,881.8 882.0,883.1 885.0,884.2 888.0,885.3 891.0,886.2 894.0,887.0 897.0,887.7 900.0,888.4 903.0,889.0 906.0,889.5 909.0,889.9 912.0,890.3 915.0,890.6 918.0,891.0 921.0,891.2 924.0,891.5 927.0,891.6 930.0,891.8 933.0,891.9 936.0,891.9 939.0,891.9 942.0,891.8 945.0,891.7 948.0,891.6 951.0,891.4 954.0,891.1 957.0,890.8 960.0,890.5 963.0,890.2 966.0,889.8 969.0,889.3 972.0,888.9 975.0,888.4 978.0,887.9 981.0,887.3 984.0,886.7 987.0,886.1 990.0,885.5 993.0,884.8 996.0,884.1 999.0,883.4 1002.0,882.7 1005.0,881.9 1008.0,881.2 1011.0,880.4 1014.0,879.5 1017.0,878.7 1020.0,877.8 1023.0,877.0 1026.0,876.1 1029.0,875.2 1032.0,874.2 1035.0,873.3 1038.0,872.3 1041.0,871.3 1044.0,870.3 1047.0,869.3 1050.0,868.3 1053.0,867.3 1056.0,866.2 1059.0,865.1 1062.0,864.1 1065.0,863.0 1068.0,861.9 1071.0,860.8 1074.0,859.6 1077.0,858.5 1080.0,857.3 1083.0,856.2 1086.0,855.0 1089.0,853.9 1092.0,852.7 1095.0,851.5 1098.0,850.3 1101.0,849.1 1104.0,847.9 1107.0,846.7 1110.0,845.5 1113.0,844.3 1116.0,843.1 1119.0,841.9 1122.0,840.7 1125.0,839.5 1128.0,838.3 1131.0,837.1 1134.0,835.9 1137.0,834.8 1140.0,833.6 1143.0,832.5 1146.0,831.4 1149.0,830.2 1152.0,829.1 1155.0,828.0 1158.0,827.0 1161.0,825.9 1164.0,824.9 1167.0,823.8 1170.0,822.8 1173.0,821.9 1176.0,820.9 1179.0,820.0 1182.0,819.1 1185.0,818.2 1188.0,817.3 1191.0,816.5 1194.0,815.7 1197.0,814.9 1200.0,814.2 1203.0,813.5 1206.0,812.8 1209.0,812.1 1212.0,811.5 1215.0,810.9 1218.0,810.4 1221.0,809.9 1224.0,809.4 1227.0,809.0 1230.0,808.6 1233.0,808.2 1236.0,807.9 1239.0,807.6 1242.0,807.3 1245.0,807.1 1248.0,806.9 1251.0,806.7 1254.0,806.6 1257.0,806.4 1260.0,806.3 1263.0,806.3 1266.0,806.2 1269.0,806.2 1272.0,806.2 1275.0,806.2 1278.0,806.2 1281.0,806.3 1284.0,806.4 1287.0,806.5 1290.0,806.7 1293.0,806.8 1296.0,807.1 1299.0,807.4 1302.0,807.7 1305.0,808.1 1308.0,808.5 1311.0,809.0 1314.0,809.6 1317.0,810.3 1320.0,810.9 1323.0,811.7 1326.0,812.5 1329.0,813.4 1332.0,814.3 1335.0,815.3 1338.0,816.3 1341.0,817.4 1344.0,818.5 1347.0,819.7 1350.0,820.9 1353.0,822.2 1356.0,823.5 1359.0,824.9 1362.0,826.2 1365.0,827.7 1368.0,829.1 1371.0,830.6 1374.0,832.1 1377.0,833.7 1380.0,835.2 1383.0,836.8 1386.0,838.5 1389.0,840.1 1392.0,841.8 1395.0,843.5 1398.0,845.2 1401.0,846.9 1404.0,848.6 1407.0,850.4 1410.0,852.2 1413.0,853.9 1416.0,855.7 1419.0,857.5 1422.0,859.3 1425.0,861.1 1428.0,862.9 1431.0,864.8 1434.0,866.6 1437.0,868.4 1440.0,870.2 1443.0,872.0 1446.0,873.9 1449.0,875.7 1452.0,877.5 1455.0,879.3 1458.0,881.1 1461.0,882.9 1464.0,884.7 1467.0,886.5 1470.0,888.3 1473.0,890.0 1476.0,891.8 1479.0,893.5 1482.0,895.3 1485.0,897.0 1488.0,898.6 1491.0,900.3 1494.0,902.0 1497.0,903.6 1500.0,905.2 1503.0,906.7 1506.0,908.3 1509.0,909.8 1512.0,911.3 1515.0,912.7 1518.0,914.2 1521.0,915.6 1524.0,916.9 1527.0,918.2 1530.0,919.5 1533.0,920.7 1536.0,921.9 1539.0,923.1 1542.0,924.2 1545.0,925.2 1548.0,926.3 1551.0,927.3 1554.0,928.2 1557.0,929.1 1560.0,930.0 1563.0,930.9 1566.0,931.7 1569.0,932.5 1572.0,933.2 1575.0,933.9 1578.0,934.6 1581.0,935.3 1584.0,935.9 1587.0,936.5 1590.0,937.1 1593.0,937.7 1596.0,938.2 1599.0,938.7 1602.0,939.2 1605.0,939.6 1608.0,940.1 1611.0,940.5 1614.0,940.9 1617.0,941.2 1620.0,941.6 1623.0,941.9 1626.0,942.2 1629.0,942.5 1632.0,942.8 1635.0,943.1 1638.0,943.4 1641.0,943.6 1644.0,943.9 1647.0,944.1 1650.0,944.3 1653.0,944.5 1656.0,944.7 1659.0,944.9 1662.0,945.1 1665.0,945.3 1668.0,945.4 1671.0,945.6 1674.0,945.7 1677.0,945.9 1680.0,946.0 1683.0,946.2 1686.0,946.3 1689.0,946.4 1692.0,946.5 1695.0,946.6 1698.0,946.7 1701.0,946.8 1704.0,946.9 1707.0,947.0 1710.0,947.1 1713.0,947.2 1716.0,947.2 1719.0,947.3 1722.0,947.4 1725.0,947.4 1728.0,947.5 1731.0,947.5 1734.0,947.6 1737.0,947.6 1740.0,947.6 1743.0,947.7 1746.0,947.7 1749.0,947.7 1752.0,947.7 1755.0,947.8 1758.0,947.8 1761.0,947.8 1764.0,947.8 1767.0,947.8 1770.0,947.8 1773.0,947.8 1776.0,947.8 1779.0,947.8 1782.0,947.8 1785.0,947.8 1788.0,947.8 1791.0,947.8 1794.0,947.8 1797.0,947.8 1800.0,947.8 1803.0,947.8 1806.0,947.7 1809.0,947.7 1812.0,947.7 1815.0,947.7 1818.0,947.7 1821.0,947.7 1824.0,947.7 1827.0,947.7 1830.0,947.6 1833.0,947.6 1836.0,947.6 1839.0,947.6 1842.0,947.6 1845.0,947.6 1848.0,947.6 1851.0,947.6 1854.0,947.6 1857.0,947.6 1860.0,947.6 1863.0,947.6 1866.0,947.6 1869.0,947.6 1872.0,947.6 1875.0,947.6 1878.0,947.6 1881.0,947.6 1884.0,947.7 1887.0,947.7 1890.0,947.7 1893.0,947.7 1896.0,947.8 1899.0,947.8 1902.0,947.8 1905.0,947.9 1908.0,947.9" stroke="#008000"/>
<path d="M150.0,765.0 153.0,763.0 156.0,760.9 159.0,758.5 162.0,756.0 165.0,753.3 168.0,750.4 171.0,747.4 174.0,744.4 177.0,741.2 180.0,737.9 183.0,734.6 186.0,731.3 189.0,727.9 192.0,724.5 195.0,721.2 198.0,717.9 201.0,714.6 204.0,711.4 207.0,708.3 210.0,705.4 213.0,702.6 216.0,700.1 219.0,698.0 222.0,696.2 225.0,694.6 228.0,693.0 231.0,691.4 234.0,689.6 237.0,687.6 240.0,685.2 243.0,682.5 246.0,679.9 249.0,677.9 252.0,676.7 255.0,676.3 258.0,676.6 261.0,677.6 264.0,679.1 267.0,681.3 270.0,683.7 273.0,686.0 276.0,688.1 279.0,689.7 282.0,690.8 285.0,691.4 288.0,691.4 291.0,690.7 294.0,689.4 297.0,687.4 300.0,684.9 303.0,682.3 306.0,679.4 309.0,676.1 312.0,672.3 315.0,668.2 318.0,663.7 321.0,659.0 324.0,654.2 327.0,649.4 330.0,644.4 333.0,639.5 336.0,634.5 339.0,629.5 342.0,624.4 345.0,619.3 348.0,614.3 351.0,609.1 354.0,604.0 357.0,598.9 360.0,593.7 363.0,588.5 366.0,583.4 369.0,578.2 372.0,573.0 375.0,567.8 378.0,562.6 381.0,557.5 384.0,552.4 387.0,547.3 390.0,542.2 393.0,537.1 396.0,532.0 399.0,526.8 402.0,521.5 405.0,516.1 408.0,510.7 411.0,505.1 414.0,499.4 417.0,493.8 420.0,488.2 423.0,482.7 426.0,477.4 429.0,472.2 432.0,467.2 435.0,462.3 438.0,457.5 441.0,452.8 444.0,448.2 447.0,443.7 450.0,439.2 453.0,434.8 456.0,430.5 459.0,426.2 462.0,421.9 465.0,417.6 468.0,413.4 471.0,409.3 474.0,405.4 477.0,401.7 480.0,398.3 483.0,395.2 486.0,392.4 489.0,389.9 492.0,387.7 495.0,385.7 498.0,383.9 501.0,382.2 504.0,380.7 507.0,379.3 510.0,378.0 513.0,376.8 516.0,375.8 519.0,375.0 522.0,374.3 525.0,373.8 528.0,373.4 531.0,373.2 534.0,373.2 537.0,373.4 540.0,373.7 543.0,374.3 546.0,375.0 549.0,376.0 552.0,377.1 555.0,378.5 558.0,380.0 561.0,381.7 564.0,383.6 567.0,385.8 570.0,388.1 573.0,390.7 576.0,393.4 579.0,396.4 582.0,399.6 585.0,403.0 588.0,406.5 591.0,410.3 594.0,414.3 597.0,418.5 600.0,422.8 603.0,427.3 606.0,432.0 609.0,436.8 612.0,441.8 615.0,446.9 618.0,452.1 621.0,457.5 624.0,463.0 627.0,468.5 630.0,474.2 633.0,480.0 636.0,485.9 639.0,491.8 642.0,497.9 645.0,504.0 648.0,510.2 651.0,516.5 654.0,523.0 657.0,529.5 660.0,535.7 663.0,541.5 666.0,547.1 669.0,552.9 672.0,559.1 675.0,565.8 678.0,572.7 681.0,580.0 684.0,587.3 687.0,594.7 690.0,602.1 693.0,609.4 696.0,616.5 699.0,623.6 702.0,630.5 705.0,637.2 708.0,643.8 711.0,650.4 714.0,656.8 717.0,663.1 720.0,669.4 723.0,675.5 726.0,681.7 729.0,687.7 732.0,693.8 735.0,699.8 738.0,705.8 741.0,711.8 744.0,717.8 747.0,723.9 750.0,729.9 753.0,735.8 756.0,741.7 759.0,747.5 762.0,753.3 765.0,758.9 768.0,764.4 771.0,769.8 774.0,775.0 777.0,780.2 780.0,785.2 783.0,790.1 786.0,794.9 789.0,799.5 792.0,804.0 795.0,808.4 798.0,812.7 801.0,816.8 804.0,820.9 807.0,824.7 810.0,828.4 813.0,832.0 816.0,835.4 819.0,838.6 822.0,841.7 825.0,844.6 828.0,847.2 831.0,849.7 834.0,852.1 837.0,854.3 840.0,856.4 843.0,858.5 846.0,860.5 849.0,862.5 852.0,864.6 855.0,866.7 858.0,868.9 861.0,871.0 864.0,873.1 867.0,874.9 870.0,876.7 873.0,878.3 876.0,879.7 879.0,881.0 882.0,882.2 885.0,883.3 888.0,884.2 891.0,885.0 894.0,885.8 897.0,886.5 900.0,887.0 903.0,887.6 906.0,888.0 909.0,888.4 912.0,888.7 915.0,889.0 918.0,889.3 921.0,889.5 924.0,889.7 927.0,889.8 930.0,889.9 933.0,889.9 936.0,889.9 939.0,889.8 942.0,889.7 945.0,889.5 948.0,889.3 951.0,889.1 954.0,888.8 957.0,888.4 960.0,888.1 963.0,887.7 966.0,887.2 969.0,886.7 972.0,886.2 975.0,885.7 978.0,885.1 981.0,884.5 984.0,883.9 987.0,883.2 990.0,882.5 993.0,881.8 996.0,881.1 999.0,880.3 1002.0,879.5 1005.0,878.7 1008.0,877.9 1011.0,877.0 1014.0,876.1 1017.0,875.2 1020.0,874.3 1023.0,873.4 1026.0,872.4 1029.0,871.5 1032.0,870.5 1035.0,869.5 1038.0,868.5 1041.0,867.4 1044.0,866.4 1047.0,865.3 1050.0,864.2 1053.0,863.1 1056.0,862.0 1059.0,860.9 1062.0,859.7 1065.0,858.6 1068.0,857.4 1071.0,856.2 1074.0,855.1 1077.0,853.9 1080.0,852.6 1083.0,851.4 1086.0,850.2 1089.0,849.0 1092.0,847.7 1095.0,846.5 1098.0,845.2 1101.0,844.0 1104.0,842.7 1107.0,841.4 1110.0,840.2 1113.0,838.9 1116.0,837.6 1119.0,836.4 1122.0,835.1 1125.0,833.9 1128.0,832.6 1131.0,831.4 1134.0,830.1 1137.0,828.9 1140.0,827.7 1143.0,826.5 1146.0,825.3 1149.0,824.1 1152.0,823.0 1155.0,821.8 1158.0,820.7 1161.0,819.6 1164.0,818.5 1167.0,817.4 1170.0,816.4 1173.0,815.3 1176.0,814.3 1179.0,813.4 1182.0,812.4 1185.0,811.5 1188.0,810.6 1191.0,809.7 1194.0,808.9 1197.0,808.0 1200.0,807.3 1203.0,806.5 1206.0,805.8 1209.0,805.1 1212.0,804.5 1215.0,803.9 1218.0,803.3 1221.0,802.8 1224.0,802.3 1227.0,801.8 1230.0,801.4 1233.0,801.0 1236.0,800.7 1239.0,800.4 1242.0,800.1 1245.0,799.8 1248.0,799.6 1251.0,799.4 1254.0,799.3 1257.0,799.1 1260.0,799.0 1263.0,798.9 1266.0,798.9 1269.0,798.9 1272.0,798.8 1275.0,798.9 1278.0,798.9 1281.0,799.0 1284.0,799.1 1287.0,799.2 1290.0,799.4 1293.0,799.6 1296.0,799.8 1299.0,800.1 1302.0,800.5 1305.0,800.9 1308.0,801.3 1311.0,801.9 1314.0,802.5 1317.0,803.1 1320.0,803.9 1323.0,804.7 1326.0,805.5 1329.0,806.4 1332.0,807.4 1335.0,808.5 1338.0,809.5 1341.0,810.7 1344.0,811.9 1347.0,813.1 1350.0,814.4 1353.0,815.7 1356.0,817.1 1359.0,818.5 1362.0,819.9 1365.0,821.4 1368.0,823.0 1371.0,824.5 1374.0,826.1 1377.0,827.8 1380.0,829.4 1383.0,831.1 1386.0,832.8 1389.0,834.5 1392.0,836.3 1395.0,838.1 1398.0,839.9 1401.0,841.7 1404.0,843.5 1407.0,845.4 1410.0,847.2 1413.0,849.1 1416.0,851.0 1419.0,852.8 1422.0,854.7 1425.0,856.6 1428.0,858.5 1431.0,860.5 1434.0,862.4 1437.0,864.3 1440.0,866.2 1443.0,868.1 1446.0,870.0 1449.0,872.0 1452.0,873.9 1455.0,875.8 1458.0,877.7 1461.0,879.6 1464.0,881.5 1467.0,883.3 1470.0,885.2 1473.0,887.0 1476.0,888.9 1479.0,890.7 1482.0,892.5 1485.0,894.3 1488.0,896.1 1491.0,897.8 1494.0,899.6 1497.0,901.3 1500.0,903.0 1503.0,904.6 1506.0,906.2 1509.0,907.8 1512.0,909.4 1515.0,910.9 1518.0,912.4 1521.0,913.9 1524.0,915.3 1527.0,916.7 1530.0,918.0 1533.0,919.3 1536.0,920.6 1539.0,921.8 1542.0,922.9 1545.0,924.0 1548.0,925.1 1551.0,926.2 1554.0,927.2 1557.0,928.1 1560.0,929.1 1563.0,930.0 1566.0,930.8 1569.0,931.7 1572.0,932.4 1575.0,933.2 1578.0,933.9 1581.0,934.6 1584.0,935.3 1587.0,935.9 1590.0,936.5 1593.0,937.1 1596.0,937.7 1599.0,938.2 1602.0,938.7 1605.0,939.2 1608.0,939.6 1611.0,940.1 1614.0,940.5 1617.0,940.9 1620.0,941.2 1623.0,941.6 1626.0,941.9 1629.0,942.3 1632.0,942.6 1635.0,942.8 1638.0,943.1 1641.0,943.4 1644.0,943.6 1647.0,943.9 1650.0,944.1 1653.0,944.3 1656.0,944.5 1659.0,944.7 1662.0,944.9 1665.0,945.1 1668.0,945.3 1671.0,945.4 1674.0,945.6 1677.0,945.8 1680.0,945.9 1683.0,946.0 1686.0,946.2 1689.0,946.3 1692.0,946.4 1695.0,946.5 1698.0,946.6 1701.0,946.7 1704.0,946.8 1707.0,946.9 1710.0,947.0 1713.0,947.1 1716.0,947.2 1719.0,947.2 1722.0,947.3 1725.0,947.4 1728.0,947.4 1731.0,947.5 1734.0,947.5 1737.0,947.6 1740.0,947.6 1743.0,947.6 1746.0,947.7 1749.0,947.7 1752.0,947.7 1755.0,947.7 1758.0,947.8 1761.0,947.8 1764.0,947.8 1767.0,947.8 1770.0,947.8 1773.0,947.8 1776.0,947.8 1779.0,947.8 1782.0,947.8 1785.0,947.8 1788.0,947.8 1791.0,947.8 1794.0,947.8 1797.0,947.8 1800.0,947.7 1803.0,947.7 1806.0,947.7 1809.0,947.7 1812.0,947.7 1815.0,947.7 1818.0,947.7 1821.0,947.7 1824.0,947.6 1827.0,947.6 1830.0,947.6 1833.0,947.6 1836.0,947.6 1839.0,947.6 1842.0,947.6 1845.0,947.6 1848.0,947.6 1851.0,947.5 1854.0,947.5 1857.0,947.5 1860.0,947.5 1863.0,947.5 1866.0,947.5 1869.0,947.6 1872.0,947.6 1875.0,947.6 1878.0,947.6 1881.0,947.6 1884.0,947.6 1887.0,947.7 1890.0,947.7 1893.0,947.7 1896.0,947.8 1899.0,947.8 1902.0,947.8 1905.0,947.9 1908.0,947.9" stroke="#0000a0"/>
<path d="M150.0,765.7 153.0,763.8 156.0,761.7 159.0,759.4 162.0,757.0 165.0,754.4 168.0,751.6 171.0,748.8 174.0,745.8 177.0,742.7 180.0,739.6 183.0,736.4 186.0,733.2 189.0,729.9 192.0,726.7 195.0,723.4 198.0,720.2 201.0,717.1 204.0,714.0 207.0,711.1 210.0,708.3 213.0,705.6 216.0,703.3 219.0,701.2 222.0,699.5 225.0,698.0 228.0,696.5 231.0,694.9 234.0,693.2 237.0,691.3 240.0,689.1 243.0,686.6 246.0,684.1 249.0,682.3 252.0,681.3 255.0,681.1 258.0,681.7 261.0,683.0 264.0,684.9 267.0,687.4 270.0,690.2 273.0,692.9 276.0,695.4 279.0,697.5 282.0,699.1 285.0,700.2 288.0,700.7 291.0,700.5 294.0,699.7 297.0,698.1 300.0,696.1 303.0,693.7 306.0,691.1 309.0,688.1 312.0,684.7 315.0,680.9 318.0,676.8 321.0,672.5 324.0,668.1 327.0,663.6 330.0,659.0 333.0,654.4 336.0,649.7 339.0,645.1 342.0,640.3 345.0,635.6 348.0,630.8 351.0,626.0 354.0,621.2 357.0,616.3 360.0,611.5 363.0,606.6 366.0,601.7 369.0,596.7 372.0,591.8 375.0,586.9 378.0,582.0 381.0,577.1 384.0,572.2 387.0,567.3 390.0,562.5 393.0,557.6 396.0,552.7 399.0,547.8 402.0,542.8 405.0,537.7 408.0,532.5 411.0,527.2 414.0,521.9 417.0,516.5 420.0,511.2 423.0,506.1 426.0,501.1 429.0,496.2 432.0,491.4 435.0,486.8 438.0,482.2 441.0,477.8 444.0,473.4 447.0,469.1 450.0,464.9 453.0,460.8 456.0,456.7 459.0,452.6 462.0,448.5 465.0,444.5 468.0,440.6 471.0,436.7 474.0,433.0 477.0,429.5 480.0,426.3 483.0,423.4 486.0,420.7 489.0,418.4 492.0,416.2 495.0,414.3 498.0,412.6 501.0,411.0 504.0,409.5 507.0,408.1 510.0,406.9 513.0,405.8 516.0,404.9 519.0,404.0 522.0,403.4 525.0,402.9 528.0,402.5 531.0,402.3 534.0,402.3 537.0,402.5 540.0,402.8 543.0,403.3 546.0,404.0 549.0,404.9 552.0,406.0 555.0,407.2 558.0,408.7 561.0,410.3 564.0,412.2 567.0,414.2 570.0,416.4 573.0,418.8 576.0,421.4 579.0,424.2 582.0,427.2 585.0,430.4 588.0,433.8 591.0,437.4 594.0,441.1 597.0,445.0 600.0,449.1 603.0,453.4 606.0,457.8 609.0,462.3 612.0,467.0 615.0,471.8 618.0,476.8 621.0,481.8 624.0,487.0 627.0,492.3 630.0,497.7 633.0,503.1 636.0,508.7 639.0,514.3 642.0,520.0 645.0,525.8 648.0,531.6 651.0,537.6 654.0,543.7 657.0,549.8 660.0,555.7 663.0,561.2 666.0,566.6 669.0,572.1 672.0,577.9 675.0,584.2 678.0,590.8 681.0,597.6 684.0,604.5 687.0,611.4 690.0,618.4 693.0,625.2 696.0,631.9 699.0,638.5 702.0,645.0 705.0,651.4 708.0,657.6 711.0,663.7 714.0,669.8 717.0,675.8 720.0,681.6 723.0,687.5 726.0,693.3 729.0,699.0 732.0,704.7 735.0,710.4 738.0,716.1 741.0,721.8 744.0,727.5 747.0,733.2 750.0,738.9 753.0,744.6 756.0,750.2 759.0,755.7 762.0,761.2 765.0,766.5 768.0,771.7 771.0,776.8 774.0,781.7 777.0,786.5 780.0,791.3 783.0,795.8 786.0,800.3 789.0,804.6 792.0,808.8 795.0,812.9 798.0,816.9 801.0,820.8 804.0,824.6 807.0,828.2 810.0,831.7 813.0,835.0 816.0,838.1 819.0,841.1 822.0,844.0 825.0,846.6 828.0,849.1 831.0,851.4 834.0,853.6 837.0,855.6 840.0,857.5 843.0,859.4 846.0,861.2 849.0,863.0 852.0,864.8 855.0,866.6 858.0,868.5 861.0,870.3 864.0,872.0 867.0,873.6 870.0,875.0 873.0,876.3 876.0,877.4 879.0,878.4 882.0,879.3 885.0,880.1 888.0,880.8 891.0,881.3 894.0,881.8 897.0,882.2 900.0,882.6 903.0,882.8 906.0,883.0 909.0,883.2 912.0,883.3 915.0,883.4 918.0,883.5 921.0,883.5 924.0,883.5 927.0,883.4 930.0,883.3 933.0,883.1 936.0,882.9 939.0,882.7 942.0,882.4 945.0,882.1 948.0,881.7 951.0,881.2 954.0,880.8 957.0,880.3 960.0,879.7 963.0,879.1 966.0,878.5 969.0,877.9 972.0,877.2 975.0,876.4 978.0,875.7 981.0,874.9 984.0,874.1 987.0,873.2 990.0,872.4 993.0,871.5 996.0,870.5 999.0,869.6 1002.0,868.6 1005.0,867.6 1008.0,866.6 1011.0,865.6 1014.0,864.5 1017.0,863.4 1020.0,862.3 1023.0,861.2 1026.0,860.0 1029.0,858.9 1032.0,857.7 1035.0,856.5 1038.0,855.3 1041.0,854.0 1044.0,852.8 1047.0,851.5 1050.0,850.2 1053.0,848.9 1056.0,847.6 1059.0,846.2 1062.0,844.9 1065.0,843.5 1068.0,842.2 1071.0,840.8 1074.0,839.4 1077.0,838.0 1080.0,836.6 1083.0,835.1 1086.0,833.7 1089.0,832.3 1092.0,830.8 1095.0,829.4 1098.0,827.9 1101.0,826.4 1104.0,824.9 1107.0,823.5 1110.0,822.0 1113.0,820.5 1116.0,819.0 1119.0,817.6 1122.0,816.1 1125.0,814.6 1128.0,813.2 1131.0,811.7 1134.0,810.3 1137.0,808.9 1140.0,807.4 1143.0,806.0 1146.0,804.6 1149.0,803.3 1152.0,801.9 1155.0,800.6 1158.0,799.3 1161.0,798.0 1164.0,796.7 1167.0,795.4 1170.0,794.2 1173.0,793.0 1176.0,791.8 1179.0,790.7 1182.0,789.6 1185.0,788.5 1188.0,787.5 1191.0,786.4 1194.0,785.4 1197.0,784.5 1200.0,783.6 1203.0,782.7 1206.0,781.9 1209.0,781.1 1212.0,780.3 1215.0,779.6 1218.0,779.0 1221.0,778.3 1224.0,777.8 1227.0,777.2 1230.0,776.8 1233.0,776.3 1236.0,775.9 1239.0,775.5 1242.0,775.2 1245.0,774.9 1248.0,774.7 1251.0,774.4 1254.0,774.2 1257.0,774.1 1260.0,774.0 1263.0,773.9 1266.0,773.8 1269.0,773.8 1272.0,773.8 1275.0,773.8 1278.0,773.9 1281.0,773.9 1284.0,774.0 1287.0,774.2 1290.0,774.4 1293.0,774.6 1296.0,774.9 1299.0,775.3 1302.0,775.7 1305.0,776.1 1308.0,776.7 1311.0,777.3 1314.0,778.0 1317.0,778.8 1320.0,779.7 1323.0,780.6 1326.0,781.6 1329.0,782.7 1332.0,783.8 1335.0,785.0 1338.0,786.3 1341.0,787.6 1344.0,789.0 1347.0,790.4 1350.0,791.9 1353.0,793.5 1356.0,795.1 1359.0,796.7 1362.0,798.4 1365.0,800.2 1368.0,802.0 1371.0,803.8 1374.0,805.7 1377.0,807.6 1380.0,809.5 1383.0,811.5 1386.0,813.5 1389.0,815.5 1392.0,817.5 1395.0,819.6 1398.0,821.7 1401.0,823.8 1404.0,826.0 1407.0,828.1 1410.0,830.3 1413.0,832.5 1416.0,834.6 1419.0,836.9 1422.0,839.1 1425.0,841.3 1428.0,843.5 1431.0,845.7 1434.0,848.0 1437.0,850.2 1440.0,852.5 1443.0,854.7 1446.0,856.9 1449.0,859.2 1452.0,861.4 1455.0,863.6 1458.0,865.8 1461.0,868.1 1464.0,870.3 1467.0,872.4 1470.0,874.6 1473.0,876.8 1476.0,878.9 1479.0,881.1 1482.0,883.2 1485.0,885.3 1488.0,887.3 1491.0,889.4 1494.0,891.4 1497.0,893.4 1500.0,895.4 1503.0,897.3 1506.0,899.2 1509.0,901.1 1512.0,902.9 1515.0,904.7 1518.0,906.4 1521.0,908.1 1524.0,909.8 1527.0,911.4 1530.0,912.9 1533.0,914.4 1536.0,915.9 1539.0,917.3 1542.0,918.7 1545.0,920.0 1548.0,921.3 1551.0,922.5 1554.0,923.6 1557.0,924.8 1560.0,925.9 1563.0,926.9 1566.0,927.9 1569.0,928.9 1572.0,929.8 1575.0,930.7 1578.0,931.5 1581.0,932.3 1584.0,933.1 1587.0,933.9 1590.0,934.6 1593.0,935.2 1596.0,935.9 1599.0,936.5 1602.0,937.1 1605.0,937.6 1608.0,938.2 1611.0,938.7 1614.0,939.2 1617.0,939.6 1620.0,940.1 1623.0,940.5 1626.0,940.9 1629.0,941.2 1632.0,941.6 1635.0,941.9 1638.0,942.3 1641.0,942.6 1644.0,942.9 1647.0,943.1 1650.0,943.4 1653.0,943.6 1656.0,943.9 1659.0,944.1 1662.0,944.3 1665.0,944.6 1668.0,944.8 1671.0,945.0 1674.0,945.2 1677.0,945.3 1680.0,945.5 1683.0,945.7 1686.0,945.8 1689.0,946.0 1692.0,946.1 1695.0,946.2 1698.0,946.4 1701.0,946.5 1704.0,946.6 1707.0,946.7 1710.0,946.8 1713.0,946.9 1716.0,947.0 1719.0,947.1 1722.0,947.1 1725.0,947.2 1728.0,947.3 1731.0,947.3 1734.0,947.4 1737.0,947.4 1740.0,947.5 1743.0,947.5 1746.0,947.6 1749.0,947.6 1752.0,947.6 1755.0,947.6 1758.0,947.7 1761.0,947.7 1764.0,947.7 1767.0,947.7 1770.0,947.7 1773.0,947.7 1776.0,947.7 1779.0,947.7 1782.0,947.7 1785.0,947.7 1788.0,947.7 1791.0,947.7 1794.0,947.7 1797.0,947.7 1800.0,947.7 1803.0,947.7 1806.0,947.6 1809.0,947.6 1812.0,947.6 1815.0,947.6 1818.0,947.6 1821.0,947.6 1824.0,947.5 1827.0,947.5 1830.0,947.5 1833.0,947.5 1836.0,947.5 1839.0,947.5 1842.0,947.5 1845.0,947.5 1848.0,947.5 1851.0,947.4 1854.0,947.4 1857.0,947.4 1860.0,947.4 1863.0,947.4 1866.0,947.5 1869.0,947.5 1872.0,947.5 1875.0,947.5 1878.0,947.5 1881.0,947.5 1884.0,947.6 1887.0,947.6 1890.0,947.6 1893.0,947.7 1896.0,947.7 1899.0,947.8 1902.0,947.8 1905.0,947.9 1908.0,947.9" stroke="#ff8000"/>
<path d="M150.0,767.4 153.0,765.7 156.0,763.8 159.0,761.7 162.0,759.5 165.0,757.1 168.0,754.6 171.0,752.0 174.0,749.3 177.0,746.5 180.0,743.6 183.0,740.7 186.0,737.8 189.0,734.8 192.0,731.9 195.0,728.9 198.0,726.0 201.0,723.2 204.0,720.4 207.0,717.8 210.0,715.3 213.0,712.9 216.0,710.9 219.0,709.2 222.0,707.8 225.0,706.6 228.0,705.5 231.0,704.3 234.0,703.0 237.0,701.5 240.0,699.7 243.0,697.7 246.0,695.7 249.0,694.3 252.0,693.6 255.0,693.7 258.0,694.3 261.0,695.6 264.0,697.4 267.0,699.7 270.0,702.3 273.0,704.9 276.0,707.2 279.0,709.1 282.0,710.5 285.0,711.4 288.0,711.7 291.0,711.5 294.0,710.6 297.0,709.2 300.0,707.3 303.0,705.2 306.0,702.9 309.0,700.2 312.0,697.1 315.0,693.6 318.0,689.9 321.0,686.0 324.0,681.9 327.0,677.7 330.0,673.5 333.0,669.3 336.0,665.0 339.0,660.7 342.0,656.3 345.0,651.9 348.0,647.4 351.0,642.9 354.0,638.4 357.0,633.8 360.0,629.2 363.0,624.6 366.0,620.0 369.0,615.3 372.0,610.6 375.0,605.9 378.0,601.3 381.0,596.6 384.0,592.0 387.0,587.3 390.0,582.7 393.0,578.1 396.0,573.4 399.0,568.7 402.0,564.0 405.0,559.2 408.0,554.3 411.0,549.4 414.0,544.3 417.0,539.3 420.0,534.3 423.0,529.4 426.0,524.7 429.0,520.1 432.0,515.6 435.0,511.2 438.0,507.0 441.0,502.8 444.0,498.6 447.0,494.6 450.0,490.6 453.0,486.7 456.0,482.8 459.0,479.0 462.0,475.2 465.0,471.4 468.0,467.7 471.0,464.1 474.0,460.7 477.0,457.4 480.0,454.3 483.0,451.6 486.0,449.1 489.0,446.8 492.0,444.8 495.0,442.9 498.0,441.3 501.0,439.7 504.0,438.3 507.0,437.0 510.0,435.8 513.0,434.8 516.0,433.9 519.0,433.1 522.0,432.4 525.0,431.9 528.0,431.6 531.0,431.4 534.0,431.4 537.0,431.5 540.0,431.9 543.0,432.3 546.0,433.0 549.0,433.8 552.0,434.8 555.0,436.0 558.0,437.4 561.0,438.9 564.0,440.7 567.0,442.6 570.0,444.7 573.0,446.9 576.0,449.4 579.0,452.0 582.0,454.9 585.0,457.9 588.0,461.0 591.0,464.4 594.0,467.9 597.0,471.6 600.0,475.5 603.0,479.5 606.0,483.6 609.0,487.9 612.0,492.3 615.0,496.8 618.0,501.5 621.0,506.2 624.0,511.1 627.0,516.1 630.0,521.1 633.0,526.3 636.0,531.5 639.0,536.8 642.0,542.1 645.0,547.6 648.0,553.1 651.0,558.7 654.0,564.4 657.0,570.2 660.0,575.8 663.0,581.0 666.0,586.0 669.0,591.2 672.0,596.8 675.0,602.7 678.0,608.9 681.0,615.2 684.0,621.7 687.0,628.2 690.0,634.6 693.0,641.0 696.0,647.3 699.0,653.5 702.0,659.6 705.0,665.5 708.0,671.4 711.0,677.1 714.0,682.8 717.0,688.4 720.0,693.9 723.0,699.4 726.0,704.9 729.0,710.3 732.0,715.6 735.0,721.0 738.0,726.4 741.0,731.8 744.0,737.2 747.0,742.6 750.0,748.0 753.0,753.4 756.0,758.7 759.0,763.9 762.0,769.1 765.0,774.1 768.0,779.0 771.0,783.7 774.0,788.4 777.0,792.9 780.0,797.3 783.0,801.6 786.0,805.7 789.0,809.8 792.0,813.7 795.0,817.5 798.0,821.2 801.0,824.8 804.0,828.2 807.0,831.5 810.0,834.7 813.0,837.8 816.0,840.7 819.0,843.4 822.0,846.0 825.0,848.5 828.0,850.7 831.0,852.8 834.0,854.8 837.0,856.6 840.0,858.4 843.0,860.1 846.0,861.7 849.0,863.3 852.0,864.9 855.0,866.6 858.0,868.2 861.0,869.8 864.0,871.3 867.0,872.7 870.0,874.0 873.0,875.1 876.0,876.0 879.0,876.9 882.0,877.7 885.0,878.3 888.0,878.8 891.0,879.3 894.0,879.7 897.0,880.0 900.0,880.2 903.0,880.4 906.0,880.5 909.0,880.6 912.0,880.6 915.0,880.6 918.0,880.5 921.0,880.5 924.0,880.3 927.0,880.2 930.0,880.0 933.0,879.7 936.0,879.4 939.0,879.1 942.0,878.7 945.0,878.3 948.0,877.8 951.0,877.3 954.0,876.7 957.0,876.1 960.0,875.5 963.0,874.8 966.0,874.1 969.0,873.4 972.0,872.6 975.0,871.8 978.0,870.9 981.0,870.0 984.0,869.1 987.0,868.2 990.0,867.2 993.0,866.2 996.0,865.2 999.0,864.2 1002.0,863.1 1005.0,862.0 1008.0,860.9 1011.0,859.8 1014.0,858.6 1017.0,857.4 1020.0,856.2 1023.0,855.0 1026.0,853.8 1029.0,852.5 1032.0,851.2 1035.0,849.9 1038.0,848.6 1041.0,847.2 1044.0,845.9 1047.0,844.5 1050.0,843.1 1053.0,841.7 1056.0,840.3 1059.0,838.8 1062.0,837.4 1065.0,835.9 1068.0,834.5 1071.0,833.0 1074.0,831.5 1077.0,830.0 1080.0,828.4 1083.0,826.9 1086.0,825.4 1089.0,823.8 1092.0,822.3 1095.0,820.7 1098.0,819.1 1101.0,817.5 1104.0,816.0 1107.0,814.4 1110.0,812.8 1113.0,811.2 1116.0,809.6 1119.0,808.0 1122.0,806.5 1125.0,804.9 1128.0,803.3 1131.0,801.8 1134.0,800.2 1137.0,798.7 1140.0,797.2 1143.0,795.7 1146.0,794.2 1149.0,792.7 1152.0,791.3 1155.0,789.8 1158.0,788.4 1161.0,787.0 1164.0,785.7 1167.0,784.3 1170.0,783.0 1173.0,781.7 1176.0,780.5 1179.0,779.2 1182.0,778.0 1185.0,776.9 1188.0,775.8 1191.0,774.7 1194.0,773.6 1197.0,772.6 1200.0,771.6 1203.0,770.7 1206.0,769.8 1209.0,768.9 1212.0,768.1 1215.0,767.4 1218.0,766.7 1221.0,766.0 1224.0,765.4 1227.0,764.8 1230.0,764.3 1233.0,763.8 1236.0,763.4 1239.0,763.0 1242.0,762.6 1245.0,762.3 1248.0,762.0 1251.0,761.8 1254.0,761.6 1257.0,761.4 1260.0,761.3 1263.0,761.2 1266.0,761.1 1269.0,761.1 1272.0,761.1 1275.0,761.1 1278.0,761.2 1281.0,761.3 1284.0,761.4 1287.0,761.5 1290.0,761.7 1293.0,762.0 1296.0,762.3 1299.0,762.7 1302.0,763.1 1305.0,763.6 1308.0,764.2 1311.0,764.9 1314.0,765.7 1317.0,766.5 1320.0,767.4 1323.0,768.4 1326.0,769.5 1329.0,770.6 1332.0,771.9 1335.0,773.1 1338.0,774.5 1341.0,775.9 1344.0,777.4 1347.0,779.0 1350.0,780.6 1353.0,782.2 1356.0,784.0 1359.0,785.7 1362.0,787.6 1365.0,789.4 1368.0,791.3 1371.0,793.3 1374.0,795.3 1377.0,797.3 1380.0,799.4 1383.0,801.5 1386.0,803.7 1389.0,805.8 1392.0,808.0 1395.0,810.3 1398.0,812.5 1401.0,814.8 1404.0,817.1 1407.0,819.4 1410.0,821.7 1413.0,824.0 1416.0,826.4 1419.0,828.8 1422.0,831.1 1425.0,833.5 1428.0,835.9 1431.0,838.3 1434.0,840.7 1437.0,843.1 1440.0,845.5 1443.0,847.9 1446.0,850.3 1449.0,852.7 1452.0,855.1 1455.0,857.5 1458.0,859.9 1461.0,862.2 1464.0,864.6 1467.0,866.9 1470.0,869.3 1473.0,871.6 1476.0,873.9 1479.0,876.2 1482.0,878.5 1485.0,880.7 1488.0,882.9 1491.0,885.1 1494.0,887.3 1497.0,889.4 1500.0,891.5 1503.0,893.6 1506.0,895.6 1509.0,897.6 1512.0,899.6 1515.0,901.5 1518.0,903.4 1521.0,905.2 1524.0,907.0 1527.0,908.7 1530.0,910.4 1533.0,912.0 1536.0,913.6 1539.0,915.1 1542.0,916.5 1545.0,917.9 1548.0,919.3 1551.0,920.6 1554.0,921.9 1557.0,923.1 1560.0,924.2 1563.0,925.4 1566.0,926.4 1569.0,927.5 1572.0,928.5 1575.0,929.4 1578.0,930.3 1581.0,931.2 1584.0,932.0 1587.0,932.8 1590.0,933.6 1593.0,934.3 1596.0,935.0 1599.0,935.6 1602.0,936.3 1605.0,936.9 1608.0,937.5 1611.0,938.0 1614.0,938.5 1617.0,939.0 1620.0,939.5 1623.0,939.9 1626.0,940.3 1629.0,940.7 1632.0,941.1 1635.0,941.5 1638.0,941.8 1641.0,942.1 1644.0,942.5 1647.0,942.8 1650.0,943.0 1653.0,943.3 1656.0,943.6 1659.0,943.8 1662.0,944.1 1665.0,944.3 1668.0,944.5 1671.0,944.7 1674.0,944.9 1677.0,945.1 1680.0,945.3 1683.0,945.5 1686.0,945.6 1689.0,945.8 1692.0,946.0 1695.0,946.1 1698.0,946.2 1701.0,946.4 1704.0,946.5 1707.0,946.6 1710.0,946.7 1713.0,946.8 1716.0,946.9 1719.0,947.0 1722.0,947.1 1725.0,947.1 1728.0,947.2 1731.0,947.3 1734.0,947.3 1737.0,947.4 1740.0,947.4 1743.0,947.5 1746.0,947.5 1749.0,947.5 1752.0,947.6 1755.0,947.6 1758.0,947.6 1761.0,947.6 1764.0,947.7 1767.0,947.7 1770.0,947.7 1773.0,947.7 1776.0,947.7 1779.0,947.7 1782.0,947.7 1785.0,947.7 1788.0,947.7 1791.0,947.7 1794.0,947.6 1797.0,947.6 1800.0,947.6 1803.0,947.6 1806.0,947.6 1809.0,947.6 1812.0,947.6 1815.0,947.5 1818.0,947.5 1821.0,947.5 1824.0,947.5 1827.0,947.5 1830.0,947.5 1833.0,947.5 1836.0,947.4 1839.0,947.4 1842.0,947.4 1845.0,947.4 1848.0,947.4 1851.0,947.4 1854.0,947.4 1857.0,947.4 1860.0,947.4 1863.0,947.4 1866.0,947.4 1869.0,947.4 1872.0,947.4 1875.0,947.5 1878.0,947.5 1881.0,947.5 1884.0,947.5 1887.0,947.6 1890.0,947.6 1893.0,947.6 1896.0,947.7 1899.0,947.7 1902.0,947.8 1905.0,947.9 1908.0,947.9" stroke="#800080"/>
<path d="M150.0,767.9 153.0,766.3 156.0,764.4 159.0,762.4 162.0,760.3 165.0,758.0 168.0,755.5 171.0,753.0 174.0,750.4 177.0,747.7 180.0,744.9 183.0,742.1 186.0,739.2 189.0,736.4 192.0,733.5 195.0,730.6 198.0,727.8 201.0,725.1 204.0,722.4 207.0,719.8 210.0,717.4 213.0,715.2 216.0,713.2 219.0,711.6 222.0,710.3 225.0,709.1 228.0,708.0 231.0,706.8 234.0,705.5 237.0,704.0 240.0,702.3 243.0,700.3 246.0,698.4 249.0,697.1 252.0,696.6 255.0,696.8 258.0,697.7 261.0,699.2 264.0,701.3 267.0,704.0 270.0,707.0 273.0,710.0 276.0,712.7 279.0,715.1 282.0,717.0 285.0,718.4 288.0,719.2 291.0,719.5 294.0,719.1 297.0,718.1 300.0,716.6 303.0,714.8 306.0,712.7 309.0,710.2 312.0,707.4 315.0,704.2 318.0,700.8 321.0,697.2 324.0,693.4 327.0,689.6 330.0,685.7 333.0,681.7 336.0,677.7 339.0,673.7 342.0,669.5 345.0,665.4 348.0,661.2 351.0,657.0 354.0,652.7 357.0,648.4 360.0,644.0 363.0,639.6 366.0,635.2 369.0,630.8 372.0,626.3 375.0,621.8 378.0,617.3 381.0,612.9 384.0,608.4 387.0,604.0 390.0,599.6 393.0,595.2 396.0,590.7 399.0,586.2 402.0,581.7 405.0,577.1 408.0,572.5 411.0,567.8 414.0,563.0 417.0,558.2 420.0,553.5 423.0,548.9 426.0,544.4 429.0,540.1 432.0,535.8 435.0,531.6 438.0,527.6 441.0,523.6 444.0,519.7 447.0,515.8 450.0,512.0 453.0,508.3 456.0,504.6 459.0,501.0 462.0,497.4 465.0,493.8 468.0,490.3 471.0,486.9 474.0,483.7 477.0,480.6 480.0,477.7 483.0,475.1 486.0,472.7 489.0,470.5 492.0,468.6 495.0,466.8 498.0,465.2 501.0,463.7 504.0,462.3 507.0,461.1 510.0,460.0 513.0,458.9 516.0,458.0 519.0,457.3 522.0,456.7 525.0,456.2 528.0,455.9 531.0,455.7 534.0,455.6 537.0,455.8 540.0,456.1 543.0,456.5 546.0,457.1 549.0,457.9 552.0,458.9 555.0,460.0 558.0,461.3 561.0,462.8 564.0,464.4 567.0,466.2 570.0,468.2 573.0,470.4 576.0,472.7 579.0,475.2 582.0,477.9 585.0,480.7 588.0,483.8 591.0,486.9 594.0,490.3 597.0,493.8 600.0,497.4 603.0,501.2 606.0,505.1 609.0,509.1 612.0,513.3 615.0,517.6 618.0,522.0 621.0,526.5 624.0,531.1 627.0,535.8 630.0,540.6 633.0,545.5 636.0,550.5 639.0,555.5 642.0,560.6 645.0,565.7 648.0,571.0 651.0,576.3 654.0,581.7 657.0,587.2 660.0,592.5 663.0,597.4 666.0,602.3 669.0,607.2 672.0,612.5 675.0,618.1 678.0,623.9 681.0,629.9 684.0,636.0 687.0,642.1 690.0,648.2 693.0,654.2 696.0,660.2 699.0,666.0 702.0,671.7 705.0,677.3 708.0,682.9 711.0,688.3 714.0,693.6 717.0,698.9 720.0,704.2 723.0,709.4 726.0,714.5 729.0,719.6 732.0,724.8 735.0,729.9 738.0,735.0 741.0,740.1 744.0,745.3 747.0,750.4 750.0,755.6 753.0,760.7 756.0,765.8 759.0,770.8 762.0,775.7 765.0,780.4 768.0,785.1 771.0,789.6 774.0,794.0 777.0,798.2 780.0,802.4 783.0,806.4 786.0,810.3 789.0,814.1 792.0,817.7 795.0,821.3 798.0,824.7 801.0,828.1 804.0,831.3 807.0,834.4 810.0,837.4 813.0,840.2 816.0,842.9 819.0,845.5 822.0,847.9 825.0,850.2 828.0,852.3 831.0,854.2 834.0,856.0 837.0,857.7 840.0,859.3 843.0,860.8 846.0,862.3 849.0,863.7 852.0,865.1 855.0,866.5 858.0,867.9 861.0,869.3 864.0,870.5 867.0,871.6 870.0,872.6 873.0,873.5 876.0,874.2 879.0,874.8 882.0,875.3 885.0,875.7 888.0,876.1 891.0,876.3 894.0,876.5 897.0,876.5 900.0,876.6 903.0,876.6 906.0,876.5 909.0,876.4 912.0,876.2 915.0,876.0 918.0,875.8 921.0,875.6 924.0,875.3 927.0,875.0 930.0,874.7 933.0,874.3 936.0,873.8 939.0,873.3 942.0,872.8 945.0,872.2 948.0,871.6 951.0,871.0 954.0,870.3 957.0,869.5 960.0,868.7 963.0,867.9 966.0,867.1 969.0,866.2 972.0,865.3 975.0,864.3 978.0,863.3 981.0,862.3 984.0,861.2 987.0,860.1 990.0,859.0 993.0,857.9 996.0,856.7 999.0,855.5 1002.0,854.3 1005.0,853.1 1008.0,851.8 1011.0,850.5 1014.0,849.2 1017.0,847.9 1020.0,846.5 1023.0,845.1 1026.0,843.7 1029.0,842.3 1032.0,840.8 1035.0,839.4 1038.0,837.9 1041.0,836.4 1044.0,834.9 1047.0,833.3 1050.0,831.8 1053.0,830.2 1056.0,828.6 1059.0,827.0 1062.0,825.4 1065.0,823.8 1068.0,822.1 1071.0,820.5 1074.0,818.8 1077.0,817.1 1080.0,815.4 1083.0,813.7 1086.0,812.0 1089.0,810.3 1092.0,808.6 1095.0,806.8 1098.0,805.1 1101.0,803.3 1104.0,801.6 1107.0,799.8 1110.0,798.1 1113.0,796.3 1116.0,794.6 1119.0,792.8 1122.0,791.1 1125.0,789.3 1128.0,787.6 1131.0,785.9 1134.0,784.2 1137.0,782.5 1140.0,780.8 1143.0,779.1 1146.0,777.5 1149.0,775.8 1152.0,774.2 1155.0,772.6 1158.0,771.1 1161.0,769.5 1164.0,768.0 1167.0,766.5 1170.0,765.1 1173.0,763.7 1176.0,762.3 1179.0,760.9 1182.0,759.6 1185.0,758.3 1188.0,757.1 1191.0,755.8 1194.0,754.7 1197.0,753.5 1200.0,752.5 1203.0,751.4 1206.0,750.4 1209.0,749.5 1212.0,748.6 1215.0,747.8 1218.0,747.0 1221.0,746.2 1224.0,745.6 1227.0,744.9 1230.0,744.4 1233.0,743.8 1236.0,743.3 1239.0,742.9 1242.0,742.5 1245.0,742.2 1248.0,741.9 1251.0,741.6 1254.0,741.4 1257.0,741.2 1260.0,741.1 1263.0,740.9 1266.0,740.9 1269.0,740.8 1272.0,740.8 1275.0,740.9 1278.0,740.9 1281.0,741.0 1284.0,741.1 1287.0,741.3 1290.0,741.5 1293.0,741.8 1296.0,742.2 1299.0,742.6 1302.0,743.1 1305.0,743.6 1308.0,744.3 1311.0,745.0 1314.0,745.9 1317.0,746.8 1320.0,747.8 1323.0,748.9 1326.0,750.1 1329.0,751.4 1332.0,752.7 1335.0,754.2 1338.0,755.7 1341.0,757.3 1344.0,758.9 1347.0,760.6 1350.0,762.4 1353.0,764.3 1356.0,766.2 1359.0,768.1 1362.0,770.1 1365.0,772.2 1368.0,774.3 1371.0,776.5 1374.0,778.7 1377.0,781.0 1380.0,783.3 1383.0,785.6 1386.0,788.0 1389.0,790.4 1392.0,792.9 1395.0,795.3 1398.0,797.8 1401.0,800.3 1404.0,802.9 1407.0,805.4 1410.0,808.0 1413.0,810.6 1416.0,813.2 1419.0,815.8 1422.0,818.5 1425.0,821.1 1428.0,823.7 1431.0,826.4 1434.0,829.0 1437.0,831.7 1440.0,834.4 1443.0,837.0 1446.0,839.7 1449.0,842.4 1452.0,845.0 1455.0,847.7 1458.0,850.3 1461.0,852.9 1464.0,855.5 1467.0,858.1 1470.0,860.7 1473.0,863.3 1476.0,865.9 1479.0,868.4 1482.0,870.9 1485.0,873.4 1488.0,875.9 1491.0,878.3 1494.0,880.7 1497.0,883.1 1500.0,885.4 1503.0,887.7 1506.0,889.9 1509.0,892.2 1512.0,894.3 1515.0,896.4 1518.0,898.5 1521.0,900.5 1524.0,902.5 1527.0,904.4 1530.0,906.3 1533.0,908.1 1536.0,909.8 1539.0,911.5 1542.0,913.1 1545.0,914.7 1548.0,916.2 1551.0,917.6 1554.0,919.0 1557.0,920.3 1560.0,921.6 1563.0,922.9 1566.0,924.1 1569.0,925.2 1572.0,926.3 1575.0,927.4 1578.0,928.4 1581.0,929.3 1584.0,930.3 1587.0,931.1 1590.0,932.0 1593.0,932.8 1596.0,933.6 1599.0,934.3 1602.0,935.0 1605.0,935.6 1608.0,936.3 1611.0,936.9 1614.0,937.5 1617.0,938.0 1620.0,938.5 1623.0,939.0 1626.0,939.5 1629.0,939.9 1632.0,940.3 1635.0,940.7 1638.0,941.1 1641.0,941.5 1644.0,941.8 1647.0,942.2 1650.0,942.5 1653.0,942.8 1656.0,943.1 1659.0,943.3 1662.0,943.6 1665.0,943.9 1668.0,944.1 1671.0,944.3 1674.0,944.6 1677.0,944.8 1680.0,945.0 1683.0,945.2 1686.0,945.4 1689.0,945.5 1692.0,945.7 1695.0,945.9 1698.0,946.0 1701.0,946.1 1704.0,946.3 1707.0,946.4 1710.0,946.5 1713.0,946.6 1716.0,946.7 1719.0,946.8 1722.0,946.9 1725.0,947.0 1728.0,947.1 1731.0,947.2 1734.0,947.2 1737.0,947.3 1740.0,947.3 1743.0,947.4 1746.0,947.4 1749.0,947.5 1752.0,947.5 1755.0,947.5 1758.0,947.5 1761.0,947.6 1764.0,947.6 1767.0,947.6 1770.0,947.6 1773.0,947.6 1776.0,947.6 1779.0,947.6 1782.0,947.6 1785.0,947.6 1788.0,947.6 1791.0,947.6 1794.0,947.6 1797.0,947.6 1800.0,947.6 1803.0,947.5 1806.0,947.5 1809.0,947.5 1812.0,947.5 1815.0,947.5 1818.0,947.5 1821.0,947.4 1824.0,947.4 1827.0,947.4 1830.0,947.4 1833.0,947.4 1836.0,947.4 1839.0,947.4 1842.0,947.3 1845.0,947.3 1848.0,947.3 1851.0,947.3 1854.0,947.3 1857.0,947.3 1860.0,947.3 1863.0,947.3 1866.0,947.3 1869.0,947.3 1872.0,947.4 1875.0,947.4 1878.0,947.4 1881.0,947.4 1884.0,947.5 1887.0,947.5 1890.0,947.5 1893.0,947.6 1896.0,947.6 1899.0,947.7 1902.0,947.8 1905.0,947.8 1908.0,947.9" stroke="#8000ff"/>
<path d="M150.0,769.4 153.0,767.9 156.0,766.3 159.0,764.4 162.0,762.4 165.0,760.3 168.0,758.1 171.0,755.8 174.0,753.4 177.0,750.9 180.0,748.4 183.0,745.8 186.0,743.2 189.0,740.6 192.0,738.0 195.0,735.4 198.0,732.8 201.0,730.3 204.0,727.9 207.0,725.6 210.0,723.5 213.0,721.5 216.0,719.8 219.0,718.5 222.0,717.4 225.0,716.5 228.0,715.6 231.0,714.7 234.0,713.6 237.0,712.4 240.0,710.9 243.0,709.3 246.0,707.7 249.0,706.7 252.0,706.4 255.0,706.7 258.0,707.7 261.0,709.3 264.0,711.4 267.0,714.1 270.0,717.0 273.0,719.9 276.0,722.6 279.0,724.9 282.0,726.8 285.0,728.2 288.0,729.0 291.0,729.3 294.0,729.1 297.0,728.2 300.0,726.9 303.0,725.3 306.0,723.5 309.0,721.3 312.0,718.7 315.0,715.9 318.0,712.8 321.0,709.5 324.0,706.1 327.0,702.6 330.0,699.0 333.0,695.4 336.0,691.7 339.0,688.0 342.0,684.1 345.0,680.3 348.0,676.4 351.0,672.4 354.0,668.4 357.0,664.4 360.0,660.3 363.0,656.1 366.0,652.0 369.0,647.8 372.0,643.6 375.0,639.3 378.0,635.0 381.0,630.8 384.0,626.6 387.0,622.4 390.0,618.2 393.0,614.0 396.0,609.7 399.0,605.5 402.0,601.2 405.0,596.9 408.0,592.5 411.0,588.1 414.0,583.6 417.0,579.1 420.0,574.7 423.0,570.3 426.0,566.1 429.0,562.0 432.0,558.0 435.0,554.1 438.0,550.2 441.0,546.5 444.0,542.8 447.0,539.2 450.0,535.6 453.0,532.1 456.0,528.6 459.0,525.2 462.0,521.8 465.0,518.5 468.0,515.2 471.0,512.0 474.0,509.0 477.0,506.1 480.0,503.4 483.0,500.9 486.0,498.6 489.0,496.6 492.0,494.7 495.0,493.0 498.0,491.5 501.0,490.1 504.0,488.8 507.0,487.6 510.0,486.5 513.0,485.5 516.0,484.6 519.0,483.9 522.0,483.3 525.0,482.9 528.0,482.5 531.0,482.3 534.0,482.3 537.0,482.4 540.0,482.7 543.0,483.1 546.0,483.7 549.0,484.5 552.0,485.4 555.0,486.4 558.0,487.6 561.0,489.0 564.0,490.6 567.0,492.3 570.0,494.1 573.0,496.2 576.0,498.4 579.0,500.7 582.0,503.2 585.0,505.9 588.0,508.7 591.0,511.7 594.0,514.8 597.0,518.1 600.0,521.5 603.0,525.1 606.0,528.8 609.0,532.6 612.0,536.5 615.0,540.5 618.0,544.6 621.0,548.9 624.0,553.2 627.0,557.6 630.0,562.1 633.0,566.7 636.0,571.4 639.0,576.1 642.0,580.9 645.0,585.7 648.0,590.6 651.0,595.6 654.0,600.7 657.0,605.8 660.0,610.8 663.0,615.5 666.0,620.1 669.0,624.8 672.0,629.8 675.0,635.0 678.0,640.5 681.0,646.1 684.0,651.8 687.0,657.5 690.0,663.1 693.0,668.8 696.0,674.3 699.0,679.7 702.0,685.1 705.0,690.3 708.0,695.5 711.0,700.6 714.0,705.6 717.0,710.5 720.0,715.4 723.0,720.3 726.0,725.1 729.0,730.0 732.0,734.8 735.0,739.6 738.0,744.4 741.0,749.3 744.0,754.1 747.0,759.0 750.0,763.9 753.0,768.8 756.0,773.6 759.0,778.3 762.0,782.9 765.0,787.4 768.0,791.7 771.0,796.0 774.0,800.1 777.0,804.1 780.0,807.9 783.0,811.7 786.0,815.3 789.0,818.8 792.0,822.1 795.0,825.4 798.0,828.6 801.0,831.7 804.0,834.6 807.0,837.5 810.0,840.2 813.0,842.8 816.0,845.3 819.0,847.6 822.0,849.8 825.0,851.9 828.0,853.8 831.0,855.5 834.0,857.2 837.0,858.7 840.0,860.1 843.0,861.4 846.0,862.7 849.0,864.0 852.0,865.2 855.0,866.5 858.0,867.7 861.0,868.8 864.0,869.8 867.0,870.8 870.0,871.6 873.0,872.2 876.0,872.8 879.0,873.3 882.0,873.6 885.0,873.9 888.0,874.1 891.0,874.2 894.0,874.2 897.0,874.2 900.0,874.1 903.0,874.0 906.0,873.8 909.0,873.6 912.0,873.3 915.0,873.1 918.0,872.8 921.0,872.4 924.0,872.1 927.0,871.7 930.0,871.2 933.0,870.7 936.0,870.2 939.0,869.6 942.0,869.0 945.0,868.3 948.0,867.6 951.0,866.8 954.0,866.0 957.0,865.2 960.0,864.3 963.0,863.4 966.0,862.5 969.0,861.5 972.0,860.5 975.0,859.4 978.0,858.3 981.0,857.2 984.0,856.1 987.0,854.9 990.0,853.7 993.0,852.4 996.0,851.2 999.0,849.9 1002.0,848.6 1005.0,847.2 1008.0,845.9 1011.0,844.5 1014.0,843.1 1017.0,841.6 1020.0,840.1 1023.0,838.7 1026.0,837.2 1029.0,835.6 1032.0,834.1 1035.0,832.5 1038.0,830.9 1041.0,829.3 1044.0,827.7 1047.0,826.0 1050.0,824.4 1053.0,822.7 1056.0,821.0 1059.0,819.3 1062.0,817.6 1065.0,815.8 1068.0,814.1 1071.0,812.3 1074.0,810.5 1077.0,808.7 1080.0,806.9 1083.0,805.1 1086.0,803.3 1089.0,801.5 1092.0,799.6 1095.0,797.8 1098.0,795.9 1101.0,794.1 1104.0,792.2 1107.0,790.3 1110.0,788.5 1113.0,786.6 1116.0,784.7 1119.0,782.9 1122.0,781.0 1125.0,779.2 1128.0,777.3 1131.0,775.5 1134.0,773.7 1137.0,771.9 1140.0,770.1 1143.0,768.3 1146.0,766.6 1149.0,764.8 1152.0,763.1 1155.0,761.4 1158.0,759.8 1161.0,758.1 1164.0,756.5 1167.0,754.9 1170.0,753.4 1173.0,751.9 1176.0,750.4 1179.0,748.9 1182.0,747.5 1185.0,746.2 1188.0,744.8 1191.0,743.6 1194.0,742.3 1197.0,741.1 1200.0,740.0 1203.0,738.9 1206.0,737.8 1209.0,736.8 1212.0,735.9 1215.0,735.0 1218.0,734.1 1221.0,733.3 1224.0,732.6 1227.0,731.9 1230.0,731.3 1233.0,730.8 1236.0,730.3 1239.0,729.8 1242.0,729.4 1245.0,729.0 1248.0,728.7 1251.0,728.4 1254.0,728.2 1257.0,728.0 1260.0,727.8 1263.0,727.7 1266.0,727.6 1269.0,727.6 1272.0,727.6 1275.0,727.6 1278.0,727.7 1281.0,727.8 1284.0,727.9 1287.0,728.1 1290.0,728.3 1293.0,728.7 1296.0,729.0 1299.0,729.5 1302.0,730.0 1305.0,730.6 1308.0,731.3 1311.0,732.1 1314.0,733.0 1317.0,733.9 1320.0,735.0 1323.0,736.2 1326.0,737.5 1329.0,738.8 1332.0,740.3 1335.0,741.8 1338.0,743.4 1341.0,745.1 1344.0,746.8 1347.0,748.7 1350.0,750.6 1353.0,752.5 1356.0,754.5 1359.0,756.6 1362.0,758.8 1365.0,761.0 1368.0,763.2 1371.0,765.6 1374.0,767.9 1377.0,770.3 1380.0,772.8 1383.0,775.3 1386.0,777.8 1389.0,780.3 1392.0,782.9 1395.0,785.6 1398.0,788.2 1401.0,790.9 1404.0,793.6 1407.0,796.3 1410.0,799.1 1413.0,801.8 1416.0,804.6 1419.0,807.4 1422.0,810.2 1425.0,813.0 1428.0,815.8 1431.0,818.6 1434.0,821.4 1437.0,824.3 1440.0,827.1 1443.0,829.9 1446.0,832.8 1449.0,835.6 1452.0,838.4 1455.0,841.2 1458.0,844.0 1461.0,846.8 1464.0,849.6 1467.0,852.4 1470.0,855.1 1473.0,857.9 1476.0,860.6 1479.0,863.3 1482.0,866.0 1485.0,868.6 1488.0,871.2 1491.0,873.8 1494.0,876.4 1497.0,878.9 1500.0,881.4 1503.0,883.8 1506.0,886.2 1509.0,888.6 1512.0,890.9 1515.0,893.1 1518.0,895.3 1521.0,897.5 1524.0,899.6 1527.0,901.6 1530.0,903.6 1533.0,905.5 1536.0,907.4 1539.0,909.1 1542.0,910.9 1545.0,912.5 1548.0,914.1 1551.0,915.7 1554.0,917.1 1557.0,918.6 1560.0,919.9 1563.0,921.3 1566.0,922.5 1569.0,923.7 1572.0,924.9 1575.0,926.0 1578.0,927.1 1581.0,928.1 1584.0,929.1 1587.0,930.0 1590.0,930.9 1593.0,931.8 1596.0,932.6 1599.0,933.4 1602.0,934.1 1605.0,934.8 1608.0,935.5 1611.0,936.2 1614.0,936.8 1617.0,937.3 1620.0,937.9 1623.0,938.4 1626.0,938.9 1629.0,939.4 1632.0,939.8 1635.0,940.3 1638.0,940.7 1641.0,941.1 1644.0,941.4 1647.0,941.8 1650.0,942.1 1653.0,942.4 1656.0,942.7 1659.0,943.0 1662.0,943.3 1665.0,943.6 1668.0,943.8 1671.0,944.1 1674.0,944.3 1677.0,944.5 1680.0,944.8 1683.0,945.0 1686.0,945.2 1689.0,945.4 1692.0,945.5 1695.0,945.7 1698.0,945.9 1701.0,946.0 1704.0,946.2 1707.0,946.3 1710.0,946.4 1713.0,946.5 1716.0,946.6 1719.0,946.7 1722.0,946.8 1725.0,946.9 1728.0,947.0 1731.0,947.1 1734.0,947.2 1737.0,947.2 1740.0,947.3 1743.0,947.3 1746.0,947.4 1749.0,947.4 1752.0,947.4 1755.0,947.5 1758.0,947.5 1761.0,947.5 1764.0,947.5 1767.0,947.6 1770.0,947.6 1773.0,947.6 1776.0,947.6 1779.0,947.6 1782.0,947.6 1785.0,947.6 1788.0,947.6 1791.0,947.6 1794.0,947.5 1797.0,947.5 1800.0,947.5 1803.0,947.5 1806.0,947.5 1809.0,947.5 1812.0,947.4 1815.0,947.4 1818.0,947.4 1821.0,947.4 1824.0,947.4 1827.0,947.4 1830.0,947.3 1833.0,947.3 1836.0,947.3 1839.0,947.3 1842.0,947.3 1845.0,947.3 1848.0,947.3 1851.0,947.3 1854.0,947.3 1857.0,947.3 1860.0,947.3 1863.0,947.3 1866.0,947.3 1869.0,947.3 1872.0,947.3 1875.0,947.3 1878.0,947.4 1881.0,947.4 1884.0,947.4 1887.0,947.5 1890.0,947.5 1893.0,947.6 1896.0,947.6 1899.0,947.7 1902.0,947.8 1905.0,947.8 1908.0,947.9" stroke="#000000"/>
<path d="M150.0,770.0 153.0,768.6 156.0,767.0 159.0,765.2 162.0,763.3 165.0,761.3 168.0,759.2 171.0,757.0 174.0,754.7 177.0,752.3 180.0,749.8 183.0,747.4 186.0,744.9 189.0,742.4 192.0,739.8 195.0,737.4 198.0,734.9 201.0,732.5 204.0,730.2 207.0,728.0 210.0,726.0 213.0,724.1 216.0,722.5 219.0,721.3 222.0,720.3 225.0,719.4 228.0,718.6 231.0,717.7 234.0,716.7 237.0,715.5 240.0,714.1 243.0,712.6 246.0,711.1 249.0,710.2 252.0,710.0 255.0,710.4 258.0,711.6 261.0,713.3 264.0,715.5 267.0,718.3 270.0,721.5 273.0,724.6 276.0,727.5 279.0,730.1 282.0,732.3 285.0,733.9 288.0,735.0 291.0,735.6 294.0,735.6 297.0,735.0 300.0,734.0 303.0,732.6 306.0,730.9 309.0,728.9 312.0,726.6 315.0,723.9 318.0,721.1 321.0,718.0 324.0,714.9 327.0,711.6 330.0,708.2 333.0,704.8 336.0,701.4 339.0,697.8 342.0,694.2 345.0,690.6 348.0,686.9 351.0,683.1 354.0,679.3 357.0,675.4 360.0,671.5 363.0,667.6 366.0,663.6 369.0,659.5 372.0,655.5 375.0,651.4 378.0,647.3 381.0,643.2 384.0,639.1 387.0,635.0 390.0,631.0 393.0,626.9 396.0,622.9 399.0,618.8 402.0,614.7 405.0,610.5 408.0,606.3 411.0,602.1 414.0,597.8 417.0,593.5 420.0,589.3 423.0,585.1 426.0,581.1 429.0,577.2 432.0,573.3 435.0,569.6 438.0,565.9 441.0,562.3 444.0,558.7 447.0,555.3 450.0,551.9 453.0,548.5 456.0,545.2 459.0,541.9 462.0,538.7 465.0,535.5 468.0,532.4 471.0,529.4 474.0,526.5 477.0,523.7 480.0,521.1 483.0,518.7 486.0,516.6 489.0,514.6 492.0,512.8 495.0,511.2 498.0,509.7 501.0,508.3 504.0,507.0 507.0,505.9 510.0,504.8 513.0,503.8 516.0,503.0 519.0,502.3 522.0,501.7 525.0,501.3 528.0,501.0 531.0,500.8 534.0,500.7 537.0,500.8 540.0,501.1 543.0,501.5 546.0,502.1 549.0,502.8 552.0,503.6 555.0,504.7 558.0,505.8 561.0,507.2 564.0,508.6 567.0,510.3 570.0,512.0 573.0,514.0 576.0,516.1 579.0,518.3 582.0,520.7 585.0,523.3 588.0,526.0 591.0,528.8 594.0,531.8 597.0,535.0 600.0,538.2 603.0,541.6 606.0,545.1 609.0,548.7 612.0,552.5 615.0,556.3 618.0,560.3 621.0,564.3 624.0,568.4 627.0,572.7 630.0,577.0 633.0,581.3 636.0,585.8 639.0,590.3 642.0,594.9 645.0,599.5 648.0,604.2 651.0,609.0 654.0,613.8 657.0,618.7 660.0,623.5 663.0,628.0 666.0,632.4 669.0,637.0 672.0,641.7 675.0,646.7 678.0,651.9 681.0,657.3 684.0,662.6 687.0,668.1 690.0,673.4 693.0,678.8 696.0,684.0 699.0,689.2 702.0,694.3 705.0,699.3 708.0,704.2 711.0,709.0 714.0,713.8 717.0,718.5 720.0,723.2 723.0,727.9 726.0,732.5 729.0,737.1 732.0,741.7 735.0,746.3 738.0,750.9 741.0,755.6 744.0,760.2 747.0,764.9 750.0,769.6 753.0,774.3 756.0,778.9 759.0,783.5 762.0,787.9 765.0,792.2 768.0,796.4 771.0,800.4 774.0,804.3 777.0,808.1 780.0,811.8 783.0,815.3 786.0,818.7 789.0,822.0 792.0,825.2 795.0,828.3 798.0,831.3 801.0,834.2 804.0,837.0 807.0,839.6 810.0,842.2 813.0,844.6 816.0,846.9 819.0,849.1 822.0,851.2 825.0,853.1 828.0,854.8 831.0,856.5 834.0,858.0 837.0,859.4 840.0,860.7 843.0,861.9 846.0,863.1 849.0,864.2 852.0,865.3 855.0,866.4 858.0,867.5 861.0,868.4 864.0,869.3 867.0,870.1 870.0,870.8 873.0,871.3 876.0,871.8 879.0,872.1 882.0,872.3 885.0,872.5 888.0,872.6 891.0,872.6 894.0,872.5 897.0,872.4 900.0,872.2 903.0,872.0 906.0,871.7 909.0,871.4 912.0,871.1 915.0,870.7 918.0,870.3 921.0,869.9 924.0,869.5 927.0,869.0 930.0,868.5 933.0,867.9 936.0,867.3 939.0,866.6 942.0,865.9 945.0,865.2 948.0,864.4 951.0,863.6 954.0,862.7 957.0,861.8 960.0,860.9 963.0,859.9 966.0,858.8 969.0,857.8 972.0,856.7 975.0,855.6 978.0,854.4 981.0,853.2 984.0,852.0 987.0,850.7 990.0,849.5 993.0,848.2 996.0,846.8 999.0,845.4 1002.0,844.1 1005.0,842.6 1008.0,841.2 1011.0,839.7 1014.0,838.2 1017.0,836.7 1020.0,835.1 1023.0,833.6 1026.0,832.0 1029.0,830.4 1032.0,828.7 1035.0,827.1 1038.0,825.4 1041.0,823.7 1044.0,822.0 1047.0,820.3 1050.0,818.5 1053.0,816.8 1056.0,815.0 1059.0,813.2 1062.0,811.4 1065.0,809.6 1068.0,807.7 1071.0,805.9 1074.0,804.0 1077.0,802.1 1080.0,800.3 1083.0,798.4 1086.0,796.4 1089.0,794.5 1092.0,792.6 1095.0,790.7 1098.0,788.7 1101.0,786.8 1104.0,784.8 1107.0,782.9 1110.0,780.9 1113.0,778.9 1116.0,777.0 1119.0,775.0 1122.0,773.1 1125.0,771.2 1128.0,769.2 1131.0,767.3 1134.0,765.4 1137.0,763.5 1140.0,761.7 1143.0,759.8 1146.0,758.0 1149.0,756.2 1152.0,754.4 1155.0,752.6 1158.0,750.9 1161.0,749.1 1164.0,747.5 1167.0,745.8 1170.0,744.2 1173.0,742.6 1176.0,741.0 1179.0,739.5 1182.0,738.1 1185.0,736.6 1188.0,735.2 1191.0,733.9 1194.0,732.6 1197.0,731.3 1200.0,730.1 1203.0,729.0 1206.0,727.9 1209.0,726.8 1212.0,725.8 1215.0,724.9 1218.0,724.0 1221.0,723.2 1224.0,722.4 1227.0,721.7 1230.0,721.1 1233.0,720.5 1236.0,720.0 1239.0,719.5 1242.0,719.0 1245.0,718.7 1248.0,718.3 1251.0,718.0 1254.0,717.8 1257.0,717.6 1260.0,717.4 1263.0,717.3 1266.0,717.2 1269.0,717.2 1272.0,717.2 1275.0,717.2 1278.0,717.3 1281.0,717.4 1284.0,717.5 1287.0,717.7 1290.0,718.0 1293.0,718.3 1296.0,718.7 1299.0,719.1 1302.0,719.7 1305.0,720.3 1308.0,721.0 1311.0,721.9 1314.0,722.8 1317.0,723.8 1320.0,725.0 1323.0,726.2 1326.0,727.5 1329.0,728.9 1332.0,730.5 1335.0,732.0 1338.0,733.7 1341.0,735.5 1344.0,737.3 1347.0,739.2 1350.0,741.2 1353.0,743.3 1356.0,745.4 1359.0,747.6 1362.0,749.8 1365.0,752.1 1368.0,754.5 1371.0,756.9 1374.0,759.4 1377.0,761.9 1380.0,764.5 1383.0,767.1 1386.0,769.7 1389.0,772.4 1392.0,775.1 1395.0,777.9 1398.0,780.7 1401.0,783.5 1404.0,786.3 1407.0,789.1 1410.0,792.0 1413.0,794.9 1416.0,797.8 1419.0,800.7 1422.0,803.7 1425.0,806.6 1428.0,809.5 1431.0,812.5 1434.0,815.5 1437.0,818.4 1440.0,821.4 1443.0,824.4 1446.0,827.3 1449.0,830.3 1452.0,833.2 1455.0,836.2 1458.0,839.1 1461.0,842.1 1464.0,845.0 1467.0,847.9 1470.0,850.8 1473.0,853.6 1476.0,856.5 1479.0,859.3 1482.0,862.1 1485.0,864.9 1488.0,867.6 1491.0,870.3 1494.0,873.0 1497.0,875.6 1500.0,878.2 1503.0,880.8 1506.0,883.3 1509.0,885.8 1512.0,888.2 1515.0,890.5 1518.0,892.8 1521.0,895.1 1524.0,897.3 1527.0,899.4 1530.0,901.5 1533.0,903.5 1536.0,905.4 1539.0,907.3 1542.0,909.1 1545.0,910.8 1548.0,912.5 1551.0,914.1 1554.0,915.7 1557.0,917.2 1560.0,918.6 1563.0,920.0 1566.0,921.3 1569.0,922.6 1572.0,923.8 1575.0,925.0 1578.0,926.1 1581.0,927.2 1584.0,928.2 1587.0,929.2 1590.0,930.1 1593.0,931.0 1596.0,931.9 1599.0,932.7 1602.0,933.5 1605.0,934.2 1608.0,934.9 1611.0,935.6 1614.0,936.2 1617.0,936.8 1620.0,937.4 1623.0,938.0 1626.0,938.5 1629.0,939.0 1632.0,939.4 1635.0,939.9 1638.0,940.3 1641.0,940.7 1644.0,941.1 1647.0,941.5 1650.0,941.8 1653.0,942.1 1656.0,942.5 1659.0,942.8 1662.0,943.1 1665.0,943.4 1668.0,943.6 1671.0,943.9 1674.0,944.1 1677.0,944.4 1680.0,944.6 1683.0,944.8 1686.0,945.0 1689.0,945.2 1692.0,945.4 1695.0,945.6 1698.0,945.7 1701.0,945.9 1704.0,946.1 1707.0,946.2 1710.0,946.3 1713.0,946.4 1716.0,946.6 1719.0,946.7 1722.0,946.8 1725.0,946.9 1728.0,947.0 1731.0,947.0 1734.0,947.1 1737.0,947.2 1740.0,947.2 1743.0,947.3 1746.0,947.3 1749.0,947.4 1752.0,947.4 1755.0,947.4 1758.0,947.5 1761.0,947.5 1764.0,947.5 1767.0,947.5 1770.0,947.5 1773.0,947.5 1776.0,947.5 1779.0,947.5 1782.0,947.5 1785.0,947.5 1788.0,947.5 1791.0,947.5 1794.0,947.5 1797.0,947.5 1800.0,947.5 1803.0,947.5 1806.0,947.4 1809.0,947.4 1812.0,947.4 1815.0,947.4 1818.0,947.4 1821.0,947.4 1824.0,947.3 1827.0,947.3 1830.0,947.3 1833.0,947.3 1836.0,947.3 1839.0,947.3 1842.0,947.2 1845.0,947.2 1848.0,947.2 1851.0,947.2 1854.0,947.2 1857.0,947.2 1860.0,947.2 1863.0,947.2 1866.0,947.2 1869.0,947.3 1872.0,947.3 1875.0,947.3 1878.0,947.3 1881.0,947.4 1884.0,947.4 1887.0,947.4 1890.0,947.5 1893.0,947.5 1896.0,947.6 1899.0,947.7 1902.0,947.7 1905.0,947.8 1908.0,947.9" stroke="#ff0000"/>
<path d="M150.0,772.8 153.0,771.7 156.0,770.4 159.0,769.0 162.0,767.5 165.0,765.8 168.0,764.1 171.0,762.3 174.0,760.4 177.0,758.4 180.0,756.5 183.0,754.5 186.0,752.4 189.0,750.4 192.0,748.4 195.0,746.4 198.0,744.4 201.0,742.5 204.0,740.7 207.0,739.0 210.0,737.4 213.0,736.1 216.0,735.0 219.0,734.2 222.0,733.7 225.0,733.2 228.0,732.8 231.0,732.3 234.0,731.7 237.0,730.9 240.0,729.9 243.0,728.8 246.0,727.9 249.0,727.4 252.0,727.4 255.0,728.1 258.0,729.3 261.0,731.0 264.0,733.1 267.0,735.8 270.0,738.7 273.0,741.6 276.0,744.4 279.0,746.8 282.0,748.8 285.0,750.4 288.0,751.4 291.0,752.0 294.0,752.1 297.0,751.8 300.0,751.0 303.0,750.0 306.0,748.7 309.0,747.2 312.0,745.3 315.0,743.2 318.0,740.9 321.0,738.4 324.0,735.8 327.0,733.1 330.0,730.3 333.0,727.5 336.0,724.5 339.0,721.5 342.0,718.4 345.0,715.2 348.0,712.0 351.0,708.7 354.0,705.3 357.0,701.9 360.0,698.4 363.0,694.9 366.0,691.3 369.0,687.7 372.0,684.0 375.0,680.3 378.0,676.5 381.0,672.8 384.0,669.1 387.0,665.4 390.0,661.7 393.0,658.0 396.0,654.3 399.0,650.6 402.0,646.9 405.0,643.2 408.0,639.4 411.0,635.6 414.0,631.8 417.0,628.0 420.0,624.3 423.0,620.6 426.0,617.0 429.0,613.5 432.0,610.0 435.0,606.7 438.0,603.4 441.0,600.2 444.0,597.0 447.0,593.9 450.0,590.8 453.0,587.8 456.0,584.9 459.0,582.0 462.0,579.1 465.0,576.3 468.0,573.6 471.0,570.9 474.0,568.4 477.0,565.9 480.0,563.6 483.0,561.5 486.0,559.5 489.0,557.8 492.0,556.1 495.0,554.6 498.0,553.2 501.0,551.9 504.0,550.7 507.0,549.7 510.0,548.7 513.0,547.8 516.0,547.0 519.0,546.4 522.0,545.8 525.0,545.4 528.0,545.1 531.0,544.9 534.0,544.9 537.0,544.9 540.0,545.2 543.0,545.5 546.0,546.0 549.0,546.6 552.0,547.4 555.0,548.3 558.0,549.4 561.0,550.6 564.0,551.9 567.0,553.3 570.0,554.9 573.0,556.6 576.0,558.5 579.0,560.5 582.0,562.6 585.0,564.9 588.0,567.3 591.0,569.8 594.0,572.5 597.0,575.3 600.0,578.1 603.0,581.1 606.0,584.2 609.0,587.5 612.0,590.8 615.0,594.2 618.0,597.7 621.0,601.3 624.0,604.9 627.0,608.7 630.0,612.5 633.0,616.4 636.0,620.4 639.0,624.4 642.0,628.4 645.0,632.6 648.0,636.7 651.0,641.0 654.0,645.3 657.0,649.6 660.0,653.9 663.0,658.0 666.0,662.0 669.0,666.1 672.0,670.3 675.0,674.8 678.0,679.3 681.0,684.0 684.0,688.7 687.0,693.4 690.0,698.1 693.0,702.8 696.0,707.4 699.0,711.9 702.0,716.4 705.0,720.8 708.0,725.1 711.0,729.3 714.0,733.5 717.0,737.7 720.0,741.8 723.0,746.0 726.0,750.1 729.0,754.2 732.0,758.3 735.0,762.4 738.0,766.5 741.0,770.7 744.0,774.9 747.0,779.2 750.0,783.4 753.0,787.6 756.0,791.8 759.0,795.9 762.0,799.9 765.0,803.7 768.0,807.4 771.0,811.0 774.0,814.5 777.0,817.8 780.0,821.0 783.0,824.0 786.0,827.0 789.0,829.8 792.0,832.5 795.0,835.2 798.0,837.7 801.0,840.1 804.0,842.5 807.0,844.7 810.0,846.9 813.0,848.9 816.0,850.8 819.0,852.6 822.0,854.3 825.0,855.9 828.0,857.3 831.0,858.6 834.0,859.9 837.0,861.0 840.0,862.0 843.0,863.0 846.0,863.9 849.0,864.7 852.0,865.5 855.0,866.3 858.0,867.0 861.0,867.7 864.0,868.3 867.0,868.7 870.0,869.1 873.0,869.4 876.0,869.6 879.0,869.7 882.0,869.7 885.0,869.6 888.0,869.5 891.0,869.3 894.0,869.1 897.0,868.8 900.0,868.4 903.0,868.0 906.0,867.6 909.0,867.1 912.0,866.6 915.0,866.1 918.0,865.6 921.0,865.0 924.0,864.4 927.0,863.8 930.0,863.1 933.0,862.4 936.0,861.6 939.0,860.8 942.0,859.9 945.0,859.1 948.0,858.1 951.0,857.2 954.0,856.1 957.0,855.1 960.0,854.0 963.0,852.9 966.0,851.7 969.0,850.5 972.0,849.3 975.0,848.0 978.0,846.7 981.0,845.4 984.0,844.0 987.0,842.6 990.0,841.1 993.0,839.7 996.0,838.2 999.0,836.7 1002.0,835.1 1005.0,833.6 1008.0,831.9 1011.0,830.3 1014.0,828.7 1017.0,827.0 1020.0,825.3 1023.0,823.6 1026.0,821.8 1029.0,820.0 1032.0,818.2 1035.0,816.4 1038.0,814.6 1041.0,812.7 1044.0,810.9 1047.0,809.0 1050.0,807.1 1053.0,805.1 1056.0,803.2 1059.0,801.2 1062.0,799.2 1065.0,797.2 1068.0,795.2 1071.0,793.2 1074.0,791.2 1077.0,789.1 1080.0,787.1 1083.0,785.0 1086.0,782.9 1089.0,780.8 1092.0,778.7 1095.0,776.6 1098.0,774.5 1101.0,772.4 1104.0,770.2 1107.0,768.1 1110.0,766.0 1113.0,763.8 1116.0,761.7 1119.0,759.6 1122.0,757.5 1125.0,755.4 1128.0,753.3 1131.0,751.2 1134.0,749.1 1137.0,747.1 1140.0,745.0 1143.0,743.0 1146.0,741.0 1149.0,739.0 1152.0,737.1 1155.0,735.2 1158.0,733.3 1161.0,731.4 1164.0,729.6 1167.0,727.8 1170.0,726.0 1173.0,724.3 1176.0,722.6 1179.0,720.9 1182.0,719.3 1185.0,717.8 1188.0,716.3 1191.0,714.8 1194.0,713.4 1197.0,712.0 1200.0,710.7 1203.0,709.4 1206.0,708.2 1209.0,707.1 1212.0,706.0 1215.0,705.0 1218.0,704.0 1221.0,703.2 1224.0,702.3 1227.0,701.6 1230.0,700.9 1233.0,700.2 1236.0,699.6 1239.0,699.1 1242.0,698.6 1245.0,698.2 1248.0,697.9 1251.0,697.5 1254.0,697.3 1257.0,697.1 1260.0,696.9 1263.0,696.7 1266.0,696.7 1269.0,696.6 1272.0,696.6 1275.0,696.6 1278.0,696.7 1281.0,696.8 1284.0,697.0 1287.0,697.2 1290.0,697.5 1293.0,697.8 1296.0,698.2 1299.0,698.7 1302.0,699.3 1305.0,700.0 1308.0,700.8 1311.0,701.7 1314.0,702.7 1317.0,703.9 1320.0,705.1 1323.0,706.4 1326.0,707.9 1329.0,709.4 1332.0,711.1 1335.0,712.8 1338.0,714.6 1341.0,716.6 1344.0,718.6 1347.0,720.6 1350.0,722.8 1353.0,725.0 1356.0,727.4 1359.0,729.7 1362.0,732.2 1365.0,734.7 1368.0,737.3 1371.0,739.9 1374.0,742.6 1377.0,745.3 1380.0,748.1 1383.0,751.0 1386.0,753.9 1389.0,756.8 1392.0,759.7 1395.0,762.7 1398.0,765.8 1401.0,768.8 1404.0,771.9 1407.0,775.0 1410.0,778.1 1413.0,781.3 1416.0,784.4 1419.0,787.6 1422.0,790.8 1425.0,794.0 1428.0,797.2 1431.0,800.4 1434.0,803.7 1437.0,806.9 1440.0,810.1 1443.0,813.3 1446.0,816.6 1449.0,819.8 1452.0,823.0 1455.0,826.2 1458.0,829.4 1461.0,832.6 1464.0,835.8 1467.0,838.9 1470.0,842.1 1473.0,845.2 1476.0,848.3 1479.0,851.4 1482.0,854.4 1485.0,857.4 1488.0,860.4 1491.0,863.4 1494.0,866.3 1497.0,869.2 1500.0,872.0 1503.0,874.8 1506.0,877.5 1509.0,880.2 1512.0,882.8 1515.0,885.4 1518.0,887.9 1521.0,890.4 1524.0,892.8 1527.0,895.1 1530.0,897.3 1533.0,899.5 1536.0,901.6 1539.0,903.7 1542.0,905.6 1545.0,907.5 1548.0,909.3 1551.0,911.1 1554.0,912.8 1557.0,914.4 1560.0,916.0 1563.0,917.5 1566.0,918.9 1569.0,920.3 1572.0,921.6 1575.0,922.9 1578.0,924.1 1581.0,925.3 1584.0,926.4 1587.0,927.5 1590.0,928.5 1593.0,929.5 1596.0,930.4 1599.0,931.3 1602.0,932.2 1605.0,933.0 1608.0,933.7 1611.0,934.5 1614.0,935.2 1617.0,935.8 1620.0,936.4 1623.0,937.0 1626.0,937.6 1629.0,938.1 1632.0,938.7 1635.0,939.1 1638.0,939.6 1641.0,940.0 1644.0,940.5 1647.0,940.9 1650.0,941.2 1653.0,941.6 1656.0,941.9 1659.0,942.3 1662.0,942.6 1665.0,942.9 1668.0,943.2 1671.0,943.5 1674.0,943.8 1677.0,944.0 1680.0,944.3 1683.0,944.5 1686.0,944.7 1689.0,944.9 1692.0,945.1 1695.0,945.3 1698.0,945.5 1701.0,945.7 1704.0,945.9 1707.0,946.0 1710.0,946.2 1713.0,946.3 1716.0,946.4 1719.0,946.5 1722.0,946.6 1725.0,946.7 1728.0,946.8 1731.0,946.9 1734.0,947.0 1737.0,947.1 1740.0,947.1 1743.0,947.2 1746.0,947.2 1749.0,947.3 1752.0,947.3 1755.0,947.4 1758.0,947.4 1761.0,947.4 1764.0,947.4 1767.0,947.5 1770.0,947.5 1773.0,947.5 1776.0,947.5 1779.0,947.5 1782.0,947.5 1785.0,947.5 1788.0,947.5 1791.0,947.5 1794.0,947.4 1797.0,947.4 1800.0,947.4 1803.0,947.4 1806.0,947.4 1809.0,947.4 1812.0,947.3 1815.0,947.3 1818.0,947.3 1821.0,947.3 1824.0,947.3 1827.0,947.2 1830.0,947.2 1833.0,947.2 1836.0,947.2 1839.0,947.2 1842.0,947.2 1845.0,947.2 1848.0,947.1 1851.0,947.1 1854.0,947.1 1857.0,947.1 1860.0,947.1 1863.0,947.2 1866.0,947.2 1869.0,947.2 1872.0,947.2 1875.0,947.2 1878.0,947.3 1881.0,947.3 1884.0,947.3 1887.0,947.4 1890.0,947.4 1893.0,947.5 1896.0,947.6 1899.0,947.6 1902.0,947.7 1905.0,947.8 1908.0,947.9" stroke="#0000ff"/>
<path d="M150.0,775.0 153.0,774.1 156.0,773.0 159.0,771.9 162.0,770.6 165.0,769.2 168.0,767.8 171.0,766.3 174.0,764.8 177.0,763.2 180.0,761.5 183.0,759.9 186.0,758.2 189.0,756.6 192.0,754.9 195.0,753.3 198.0,751.7 201.0,750.1 204.0,748.7 207.0,747.4 210.0,746.2 213.0,745.2 216.0,744.5 219.0,744.1 222.0,743.8 225.0,743.6 228.0,743.4 231.0,743.1 234.0,742.6 237.0,742.0 240.0,741.2 243.0,740.4 246.0,739.7 249.0,739.4 252.0,739.7 255.0,740.5 258.0,741.8 261.0,743.7 264.0,746.0 267.0,748.8 270.0,751.9 273.0,755.0 276.0,758.0 279.0,760.7 282.0,763.0 285.0,764.9 288.0,766.3 291.0,767.3 294.0,767.8 297.0,767.9 300.0,767.6 303.0,767.0 306.0,766.2 309.0,765.1 312.0,763.7 315.0,762.1 318.0,760.3 321.0,758.4 324.0,756.3 327.0,754.2 330.0,751.9 333.0,749.6 336.0,747.1 339.0,744.6 342.0,742.0 345.0,739.3 348.0,736.6 351.0,733.7 354.0,730.8 357.0,727.8 360.0,724.8 363.0,721.6 366.0,718.5 369.0,715.2 372.0,711.9 375.0,708.6 378.0,705.2 381.0,701.8 384.0,698.4 387.0,695.1 390.0,691.8 393.0,688.4 396.0,685.1 399.0,681.8 402.0,678.4 405.0,675.1 408.0,671.8 411.0,668.4 414.0,665.1 417.0,661.8 420.0,658.5 423.0,655.2 426.0,652.1 429.0,649.0 432.0,645.9 435.0,643.0 438.0,640.1 441.0,637.2 444.0,634.4 447.0,631.6 450.0,629.0 453.0,626.3 456.0,623.7 459.0,621.2 462.0,618.7 465.0,616.2 468.0,613.9 471.0,611.5 474.0,609.3 477.0,607.2 480.0,605.2 483.0,603.3 486.0,601.6 489.0,600.0 492.0,598.5 495.0,597.1 498.0,595.8 501.0,594.6 504.0,593.5 507.0,592.5 510.0,591.6 513.0,590.8 516.0,590.1 519.0,589.4 522.0,588.9 525.0,588.5 528.0,588.2 531.0,588.1 534.0,588.0 537.0,588.1 540.0,588.3 543.0,588.6 546.0,589.0 549.0,589.6 552.0,590.2 555.0,591.0 558.0,592.0 561.0,593.0 564.0,594.2 567.0,595.5 570.0,596.9 573.0,598.4 576.0,600.0 579.0,601.8 582.0,603.6 585.0,605.6 588.0,607.7 591.0,609.9 594.0,612.3 597.0,614.7 600.0,617.2 603.0,619.8 606.0,622.5 609.0,625.3 612.0,628.2 615.0,631.2 618.0,634.3 621.0,637.4 624.0,640.6 627.0,643.9 630.0,647.3 633.0,650.7 636.0,654.2 639.0,657.7 642.0,661.3 645.0,664.9 648.0,668.6 651.0,672.3 654.0,676.0 657.0,679.8 660.0,683.6 663.0,687.2 666.0,690.9 669.0,694.5 672.0,698.3 675.0,702.2 678.0,706.1 681.0,710.2 684.0,714.2 687.0,718.3 690.0,722.3 693.0,726.3 696.0,730.2 699.0,734.1 702.0,738.0 705.0,741.8 708.0,745.5 711.0,749.2 714.0,752.8 717.0,756.5 720.0,760.1 723.0,763.7 726.0,767.3 729.0,770.9 732.0,774.5 735.0,778.1 738.0,781.8 741.0,785.5 744.0,789.3 747.0,793.1 750.0,796.9 753.0,800.7 756.0,804.4 759.0,808.1 762.0,811.6 765.0,815.0 768.0,818.3 771.0,821.4 774.0,824.4 777.0,827.2 780.0,830.0 783.0,832.6 786.0,835.1 789.0,837.4 792.0,839.7 795.0,841.9 798.0,844.0 801.0,846.0 804.0,847.9 807.0,849.7 810.0,851.4 813.0,853.0 816.0,854.6 819.0,856.0 822.0,857.3 825.0,858.6 828.0,859.7 831.0,860.7 834.0,861.7 837.0,862.5 840.0,863.3 843.0,864.0 846.0,864.6 849.0,865.2 852.0,865.8 855.0,866.2 858.0,866.6 861.0,867.0 864.0,867.3 867.0,867.5 870.0,867.6 873.0,867.6 876.0,867.6 879.0,867.4 882.0,867.3 885.0,867.0 888.0,866.7 891.0,866.4 894.0,866.0 897.0,865.5 900.0,865.0 903.0,864.5 906.0,863.9 909.0,863.3 912.0,862.7 915.0,862.0 918.0,861.3 921.0,860.6 924.0,859.9 927.0,859.1 930.0,858.3 933.0,857.4 936.0,856.5 939.0,855.6 942.0,854.6 945.0,853.6 948.0,852.5 951.0,851.4 954.0,850.3 957.0,849.1 960.0,847.9 963.0,846.6 966.0,845.3 969.0,844.0 972.0,842.7 975.0,841.3 978.0,839.8 981.0,838.3 984.0,836.8 987.0,835.3 990.0,833.7 993.0,832.1 996.0,830.5 999.0,828.9 1002.0,827.2 1005.0,825.5 1008.0,823.7 1011.0,822.0 1014.0,820.2 1017.0,818.3 1020.0,816.5 1023.0,814.6 1026.0,812.7 1029.0,810.8 1032.0,808.9 1035.0,806.9 1038.0,804.9 1041.0,802.9 1044.0,800.9 1047.0,798.9 1050.0,796.8 1053.0,794.7 1056.0,792.6 1059.0,790.5 1062.0,788.4 1065.0,786.3 1068.0,784.1 1071.0,781.9 1074.0,779.7 1077.0,777.5 1080.0,775.3 1083.0,773.1 1086.0,770.9 1089.0,768.6 1092.0,766.4 1095.0,764.1 1098.0,761.8 1101.0,759.5 1104.0,757.3 1107.0,755.0 1110.0,752.7 1113.0,750.4 1116.0,748.1 1119.0,745.8 1122.0,743.6 1125.0,741.3 1128.0,739.1 1131.0,736.8 1134.0,734.6 1137.0,732.4 1140.0,730.2 1143.0,728.1 1146.0,725.9 1149.0,723.8 1152.0,721.7 1155.0,719.6 1158.0,717.6 1161.0,715.6 1164.0,713.6 1167.0,711.7 1170.0,709.8 1173.0,708.0 1176.0,706.2 1179.0,704.4 1182.0,702.7 1185.0,701.0 1188.0,699.4 1191.0,697.8 1194.0,696.3 1197.0,694.8 1200.0,693.4 1203.0,692.1 1206.0,690.8 1209.0,689.6 1212.0,688.4 1215.0,687.3 1218.0,686.3 1221.0,685.3 1224.0,684.4 1227.0,683.6 1230.0,682.9 1233.0,682.2 1236.0,681.6 1239.0,681.0 1242.0,680.5 1245.0,680.0 1248.0,679.6 1251.0,679.3 1254.0,679.0 1257.0,678.8 1260.0,678.6 1263.0,678.5 1266.0,678.4 1269.0,678.3 1272.0,678.3 1275.0,678.3 1278.0,678.4 1281.0,678.5 1284.0,678.7 1287.0,678.9 1290.0,679.2 1293.0,679.6 1296.0,680.1 1299.0,680.6 1302.0,681.2 1305.0,682.0 1308.0,682.8 1311.0,683.8 1314.0,684.9 1317.0,686.1 1320.0,687.4 1323.0,688.9 1326.0,690.4 1329.0,692.1 1332.0,693.8 1335.0,695.7 1338.0,697.7 1341.0,699.7 1344.0,701.9 1347.0,704.1 1350.0,706.4 1353.0,708.8 1356.0,711.3 1359.0,713.8 1362.0,716.5 1365.0,719.2 1368.0,721.9 1371.0,724.8 1374.0,727.6 1377.0,730.6 1380.0,733.6 1383.0,736.6 1386.0,739.7 1389.0,742.9 1392.0,746.0 1395.0,749.2 1398.0,752.5 1401.0,755.8 1404.0,759.1 1407.0,762.4 1410.0,765.8 1413.0,769.1 1416.0,772.5 1419.0,775.9 1422.0,779.3 1425.0,782.8 1428.0,786.2 1431.0,789.7 1434.0,793.1 1437.0,796.6 1440.0,800.1 1443.0,803.5 1446.0,807.0 1449.0,810.5 1452.0,813.9 1455.0,817.3 1458.0,820.8 1461.0,824.2 1464.0,827.6 1467.0,831.0 1470.0,834.4 1473.0,837.7 1476.0,841.0 1479.0,844.3 1482.0,847.6 1485.0,850.8 1488.0,854.1 1491.0,857.2 1494.0,860.3 1497.0,863.4 1500.0,866.5 1503.0,869.4 1506.0,872.4 1509.0,875.3 1512.0,878.1 1515.0,880.8 1518.0,883.5 1521.0,886.2 1524.0,888.7 1527.0,891.2 1530.0,893.6 1533.0,896.0 1536.0,898.2 1539.0,900.4 1542.0,902.5 1545.0,904.5 1548.0,906.5 1551.0,908.4 1554.0,910.2 1557.0,911.9 1560.0,913.6 1563.0,915.2 1566.0,916.8 1569.0,918.3 1572.0,919.7 1575.0,921.1 1578.0,922.4 1581.0,923.6 1584.0,924.8 1587.0,926.0 1590.0,927.1 1593.0,928.1 1596.0,929.1 1599.0,930.1 1602.0,931.0 1605.0,931.8 1608.0,932.7 1611.0,933.5 1614.0,934.2 1617.0,934.9 1620.0,935.6 1623.0,936.2 1626.0,936.8 1629.0,937.4 1632.0,938.0 1635.0,938.5 1638.0,939.0 1641.0,939.4 1644.0,939.9 1647.0,940.3 1650.0,940.7 1653.0,941.1 1656.0,941.5 1659.0,941.8 1662.0,942.2 1665.0,942.5 1668.0,942.8 1671.0,943.1 1674.0,943.4 1677.0,943.7 1680.0,944.0 1683.0,944.2 1686.0,944.5 1689.0,944.7 1692.0,944.9 1695.0,945.1 1698.0,945.3 1701.0,945.5 1704.0,945.7 1707.0,945.8 1710.0,946.0 1713.0,946.1 1716.0,946.3 1719.0,946.4 1722.0,946.5 1725.0,946.6 1728.0,946.7 1731.0,946.8 1734.0,946.9 1737.0,947.0 1740.0,947.0 1743.0,947.1 1746.0,947.2 1749.0,947.2 1752.0,947.3 1755.0,947.3 1758.0,947.3 1761.0,947.4 1764.0,947.4 1767.0,947.4 1770.0,947.4 1773.0,947.4 1776.0,947.4 1779.0,947.4 1782.0,947.4 1785.0,947.4 1788.0,947.4 1791.0,947.4 1794.0,947.4 1797.0,947.4 1800.0,947.4 1803.0,947.3 1806.0,947.3 1809.0,947.3 1812.0,947.3 1815.0,947.3 1818.0,947.2 1821.0,947.2 1824.0,947.2 1827.0,947.2 1830.0,947.2 1833.0,947.1 1836.0,947.1 1839.0,947.1 1842.0,947.1 1845.0,947.1 1848.0,947.1 1851.0,947.1 1854.0,947.1 1857.0,947.1 1860.0,947.1 1863.0,947.1 1866.0,947.1 1869.0,947.1 1872.0,947.1 1875.0,947.2 1878.0,947.2 1881.0,947.2 1884.0,947.3 1887.0,947.3 1890.0,947.4 1893.0,947.5 1896.0,947.5 1899.0,947.6 1902.0,947.7 1905.0,947.8 1908.0,947.9" stroke="#008080"/>
<path d="M150.0,776.4 153.0,775.6 156.0,774.7 159.0,773.7 162.0,772.6 165.0,771.5 168.0,770.2 171.0,769.0 174.0,767.6 177.0,766.2 180.0,764.8 183.0,763.4 186.0,762.0 189.0,760.6 192.0,759.1 195.0,757.7 198.0,756.4 201.0,755.1 204.0,753.9 207.0,752.8 210.0,751.9 213.0,751.2 216.0,750.7 219.0,750.5 222.0,750.3 225.0,750.3 228.0,750.2 231.0,750.0 234.0,749.7 237.0,749.1 240.0,748.5 243.0,747.8 246.0,747.3 249.0,747.1 252.0,747.5 255.0,748.4 258.0,749.8 261.0,751.7 264.0,754.1 267.0,756.9 270.0,760.1 273.0,763.3 276.0,766.4 279.0,769.3 282.0,771.7 285.0,773.8 288.0,775.4 291.0,776.6 294.0,777.3 297.0,777.7 300.0,777.7 303.0,777.4 306.0,776.8 309.0,775.9 312.0,774.8 315.0,773.5 318.0,772.1 321.0,770.5 324.0,768.8 327.0,767.0 330.0,765.0 333.0,763.0 336.0,760.9 339.0,758.7 342.0,756.4 345.0,754.0 348.0,751.5 351.0,748.9 354.0,746.3 357.0,743.5 360.0,740.7 363.0,737.9 366.0,734.9 369.0,731.9 372.0,728.8 375.0,725.7 378.0,722.6 381.0,719.4 384.0,716.2 387.0,713.1 390.0,710.0 393.0,706.9 396.0,703.8 399.0,700.7 402.0,697.6 405.0,694.5 408.0,691.4 411.0,688.3 414.0,685.3 417.0,682.2 420.0,679.2 423.0,676.3 426.0,673.4 429.0,670.5 432.0,667.7 435.0,665.0 438.0,662.3 441.0,659.7 444.0,657.1 447.0,654.6 450.0,652.1 453.0,649.7 456.0,647.3 459.0,644.9 462.0,642.7 465.0,640.4 468.0,638.3 471.0,636.2 474.0,634.2 477.0,632.2 480.0,630.4 483.0,628.7 486.0,627.1 489.0,625.6 492.0,624.1 495.0,622.8 498.0,621.6 501.0,620.5 504.0,619.4 507.0,618.5 510.0,617.6 513.0,616.8 516.0,616.2 519.0,615.6 522.0,615.1 525.0,614.7 528.0,614.4 531.0,614.3 534.0,614.2 537.0,614.3 540.0,614.4 543.0,614.7 546.0,615.1 549.0,615.6 552.0,616.2 555.0,616.9 558.0,617.8 561.0,618.8 564.0,619.8 567.0,621.0 570.0,622.3 573.0,623.7 576.0,625.2 579.0,626.8 582.0,628.5 585.0,630.3 588.0,632.3 591.0,634.3 594.0,636.4 597.0,638.6 600.0,640.9 603.0,643.3 606.0,645.8 609.0,648.3 612.0,651.0 615.0,653.7 618.0,656.5 621.0,659.4 624.0,662.3 627.0,665.3 630.0,668.4 633.0,671.5 636.0,674.7 639.0,677.9 642.0,681.2 645.0,684.5 648.0,687.9 651.0,691.3 654.0,694.7 657.0,698.2 660.0,701.6 663.0,705.0 666.0,708.4 669.0,711.8 672.0,715.3 675.0,718.8 678.0,722.4 681.0,726.0 684.0,729.7 687.0,733.3 690.0,737.0 693.0,740.5 696.0,744.1 699.0,747.6 702.0,751.1 705.0,754.5 708.0,757.9 711.0,761.2 714.0,764.5 717.0,767.8 720.0,771.1 723.0,774.4 726.0,777.7 729.0,781.0 732.0,784.3 735.0,787.7 738.0,791.1 741.0,794.5 744.0,798.0 747.0,801.5 750.0,805.1 753.0,808.6 756.0,812.1 759.0,815.4 762.0,818.7 765.0,821.8 768.0,824.8 771.0,827.7 774.0,830.4 777.0,833.0 780.0,835.4 783.0,837.8 786.0,840.0 789.0,842.1 792.0,844.1 795.0,846.0 798.0,847.8 801.0,849.5 804.0,851.2 807.0,852.7 810.0,854.2 813.0,855.5 816.0,856.8 819.0,858.0 822.0,859.2 825.0,860.2 828.0,861.1 831.0,862.0 834.0,862.8 837.0,863.4 840.0,864.1 843.0,864.6 846.0,865.1 849.0,865.5 852.0,865.9 855.0,866.2 858.0,866.4 861.0,866.6 864.0,866.6 867.0,866.6 870.0,866.4 873.0,866.1 876.0,865.8 879.0,865.3 882.0,864.9 885.0,864.3 888.0,863.7 891.0,863.1 894.0,862.5 897.0,861.9 900.0,861.3 903.0,860.7 906.0,860.0 909.0,859.4 912.0,858.6 915.0,857.9 918.0,857.1 921.0,856.3 924.0,855.5 927.0,854.7 930.0,853.8 933.0,852.8 936.0,851.8 939.0,850.8 942.0,849.7 945.0,848.6 948.0,847.5 951.0,846.3 954.0,845.1 957.0,843.8 960.0,842.5 963.0,841.2 966.0,839.8 969.0,838.4 972.0,837.0 975.0,835.5 978.0,834.0 981.0,832.4 984.0,830.9 987.0,829.2 990.0,827.6 993.0,825.9 996.0,824.2 999.0,822.5 1002.0,820.7 1005.0,818.9 1008.0,817.1 1011.0,815.2 1014.0,813.3 1017.0,811.4 1020.0,809.5 1023.0,807.5 1026.0,805.6 1029.0,803.6 1032.0,801.5 1035.0,799.5 1038.0,797.4 1041.0,795.3 1044.0,793.2 1047.0,791.1 1050.0,788.9 1053.0,786.8 1056.0,784.6 1059.0,782.4 1062.0,780.1 1065.0,777.9 1068.0,775.6 1071.0,773.4 1074.0,771.1 1077.0,768.8 1080.0,766.5 1083.0,764.2 1086.0,761.9 1089.0,759.5 1092.0,757.2 1095.0,754.8 1098.0,752.4 1101.0,750.1 1104.0,747.7 1107.0,745.3 1110.0,742.9 1113.0,740.5 1116.0,738.2 1119.0,735.8 1122.0,733.4 1125.0,731.1 1128.0,728.7 1131.0,726.4 1134.0,724.1 1137.0,721.8 1140.0,719.5 1143.0,717.3 1146.0,715.0 1149.0,712.8 1152.0,710.6 1155.0,708.5 1158.0,706.4 1161.0,704.3 1164.0,702.2 1167.0,700.2 1170.0,698.3 1173.0,696.3 1176.0,694.4 1179.0,692.6 1182.0,690.8 1185.0,689.1 1188.0,687.4 1191.0,685.8 1194.0,684.3 1197.0,682.8 1200.0,681.4 1203.0,680.1 1206.0,678.8 1209.0,677.6 1212.0,676.5 1215.0,675.5 1218.0,674.5 1221.0,673.6 1224.0,672.7 1227.0,672.0 1230.0,671.3 1233.0,670.6 1236.0,670.1 1239.0,669.6 1242.0,669.1 1245.0,668.7 1248.0,668.3 1251.0,668.0 1254.0,667.8 1257.0,667.5 1260.0,667.3 1263.0,667.2 1266.0,667.1 1269.0,667.0 1272.0,667.0 1275.0,667.1 1278.0,667.2 1281.0,667.3 1284.0,667.5 1287.0,667.7 1290.0,668.0 1293.0,668.4 1296.0,668.9 1299.0,669.4 1302.0,670.1 1305.0,670.9 1308.0,671.7 1311.0,672.8 1314.0,673.9 1317.0,675.2 1320.0,676.5 1323.0,678.0 1326.0,679.6 1329.0,681.4 1332.0,683.2 1335.0,685.2 1338.0,687.2 1341.0,689.3 1344.0,691.6 1347.0,693.9 1350.0,696.3 1353.0,698.8 1356.0,701.4 1359.0,704.1 1362.0,706.8 1365.0,709.6 1368.0,712.5 1371.0,715.4 1374.0,718.4 1377.0,721.5 1380.0,724.6 1383.0,727.8 1386.0,731.0 1389.0,734.3 1392.0,737.6 1395.0,740.9 1398.0,744.3 1401.0,747.7 1404.0,751.2 1407.0,754.6 1410.0,758.1 1413.0,761.7 1416.0,765.2 1419.0,768.7 1422.0,772.3 1425.0,775.9 1428.0,779.5 1431.0,783.1 1434.0,786.7 1437.0,790.3 1440.0,793.9 1443.0,797.5 1446.0,801.1 1449.0,804.7 1452.0,808.3 1455.0,811.9 1458.0,815.5 1461.0,819.0 1464.0,822.6 1467.0,826.1 1470.0,829.6 1473.0,833.1 1476.0,836.6 1479.0,840.0 1482.0,843.4 1485.0,846.8 1488.0,850.1 1491.0,853.4 1494.0,856.7 1497.0,859.9 1500.0,863.0 1503.0,866.2 1506.0,869.2 1509.0,872.2 1512.0,875.2 1515.0,878.0 1518.0,880.8 1521.0,883.6 1524.0,886.2 1527.0,888.8 1530.0,891.4 1533.0,893.8 1536.0,896.1 1539.0,898.4 1542.0,900.6 1545.0,902.7 1548.0,904.8 1551.0,906.7 1554.0,908.6 1557.0,910.4 1560.0,912.2 1563.0,913.9 1566.0,915.5 1569.0,917.0 1572.0,918.5 1575.0,919.9 1578.0,921.3 1581.0,922.6 1584.0,923.9 1587.0,925.0 1590.0,926.2 1593.0,927.3 1596.0,928.3 1599.0,929.3 1602.0,930.3 1605.0,931.2 1608.0,932.0 1611.0,932.8 1614.0,933.6 1617.0,934.3 1620.0,935.0 1623.0,935.7 1626.0,936.3 1629.0,936.9 1632.0,937.5 1635.0,938.1 1638.0,938.6 1641.0,939.1 1644.0,939.5 1647.0,940.0 1650.0,940.4 1653.0,940.8 1656.0,941.2 1659.0,941.6 1662.0,941.9 1665.0,942.3 1668.0,942.6 1671.0,942.9 1674.0,943.2 1677.0,943.5 1680.0,943.8 1683.0,944.1 1686.0,944.3 1689.0,944.6 1692.0,944.8 1695.0,945.0 1698.0,945.2 1701.0,945.4 1704.0,945.6 1707.0,945.7 1710.0,945.9 1713.0,946.1 1716.0,946.2 1719.0,946.3 1722.0,946.4 1725.0,946.6 1728.0,946.7 1731.0,946.8 1734.0,946.8 1737.0,946.9 1740.0,947.0 1743.0,947.1 1746.0,947.1 1749.0,947.2 1752.0,947.2 1755.0,947.3 1758.0,947.3 1761.0,947.3 1764.0,947.3 1767.0,947.4 1770.0,947.4 1773.0,947.4 1776.0,947.4 1779.0,947.4 1782.0,947.4 1785.0,947.4 1788.0,947.4 1791.0,947.4 1794.0,947.4 1797.0,947.3 1800.0,947.3 1803.0,947.3 1806.0,947.3 1809.0,947.3 1812.0,947.2 1815.0,947.2 1818.0,947.2 1821.0,947.2 1824.0,947.2 1827.0,947.1 1830.0,947.1 1833.0,947.1 1836.0,947.1 1839.0,947.1 1842.0,947.0 1845.0,947.0 1848.0,947.0 1851.0,947.0 1854.0,947.0 1857.0,947.0 1860.0,947.0 1863.0,947.0 1866.0,947.1 1869.0,947.1 1872.0,947.1 1875.0,947.1 1878.0,947.2 1881.0,947.2 1884.0,947.3 1887.0,947.3 1890.0,947.4 1893.0,947.4 1896.0,947.5 1899.0,947.6 1902.0,947.7 1905.0,947.8 1908.0,947.9" stroke="#ff00ff"/>
<path d="M150.0,778.1 153.0,777.5 156.0,776.8 159.0,776.0 162.0,775.2 165.0,774.2 168.0,773.2 171.0,772.2 174.0,771.1 177.0,770.0 180.0,768.9 183.0,767.8 186.0,766.6 189.0,765.5 192.0,764.4 195.0,763.3 198.0,762.2 201.0,761.2 204.0,760.3 207.0,759.6 210.0,759.0 213.0,758.6 216.0,758.4 219.0,758.4 222.0,758.5 225.0,758.6 228.0,758.7 231.0,758.7 234.0,758.5 237.0,758.1 240.0,757.6 243.0,757.1 246.0,756.8 249.0,756.8 252.0,757.2 255.0,758.1 258.0,759.5 261.0,761.3 264.0,763.7 267.0,766.5 270.0,769.5 273.0,772.6 276.0,775.6 279.0,778.4 282.0,780.8 285.0,782.8 288.0,784.4 291.0,785.6 294.0,786.4 297.0,786.9 300.0,787.0 303.0,786.9 306.0,786.6 309.0,785.9 312.0,785.1 315.0,784.1 318.0,783.0 321.0,781.7 324.0,780.3 327.0,778.8 330.0,777.2 333.0,775.4 336.0,773.6 339.0,771.7 342.0,769.6 345.0,767.5 348.0,765.3 351.0,763.0 354.0,760.6 357.0,758.1 360.0,755.5 363.0,752.9 366.0,750.2 369.0,747.4 372.0,744.5 375.0,741.6 378.0,738.6 381.0,735.7 384.0,732.7 387.0,729.8 390.0,726.9 393.0,723.9 396.0,721.0 399.0,718.2 402.0,715.3 405.0,712.4 408.0,709.6 411.0,706.8 414.0,704.0 417.0,701.2 420.0,698.5 423.0,695.8 426.0,693.1 429.0,690.5 432.0,687.9 435.0,685.4 438.0,682.9 441.0,680.5 444.0,678.1 447.0,675.8 450.0,673.5 453.0,671.3 456.0,669.1 459.0,667.0 462.0,664.9 465.0,662.9 468.0,660.9 471.0,659.0 474.0,657.2 477.0,655.4 480.0,653.8 483.0,652.2 486.0,650.7 489.0,649.3 492.0,647.9 495.0,646.7 498.0,645.5 501.0,644.5 504.0,643.5 507.0,642.5 510.0,641.7 513.0,641.0 516.0,640.3 519.0,639.8 522.0,639.3 525.0,639.0 528.0,638.7 531.0,638.5 534.0,638.4 537.0,638.5 540.0,638.6 543.0,638.9 546.0,639.2 549.0,639.7 552.0,640.3 555.0,640.9 558.0,641.7 561.0,642.6 564.0,643.6 567.0,644.7 570.0,645.9 573.0,647.1 576.0,648.5 579.0,650.0 582.0,651.6 585.0,653.2 588.0,655.0 591.0,656.8 594.0,658.7 597.0,660.7 600.0,662.8 603.0,665.0 606.0,667.3 609.0,669.6 612.0,672.0 615.0,674.5 618.0,677.0 621.0,679.7 624.0,682.4 627.0,685.1 630.0,687.9 633.0,690.8 636.0,693.7 639.0,696.6 642.0,699.6 645.0,702.7 648.0,705.7 651.0,708.8 654.0,712.0 657.0,715.1 660.0,718.3 663.0,721.5 666.0,724.6 669.0,727.8 672.0,731.0 675.0,734.2 678.0,737.5 681.0,740.7 684.0,744.0 687.0,747.3 690.0,750.5 693.0,753.7 696.0,756.9 699.0,760.1 702.0,763.2 705.0,766.3 708.0,769.4 711.0,772.4 714.0,775.4 717.0,778.4 720.0,781.4 723.0,784.4 726.0,787.4 729.0,790.4 732.0,793.4 735.0,796.5 738.0,799.6 741.0,802.8 744.0,806.0 747.0,809.3 750.0,812.6 753.0,815.9 756.0,819.1 759.0,822.3 762.0,825.3 765.0,828.2 768.0,830.9 771.0,833.5 774.0,836.0 777.0,838.3 780.0,840.5 783.0,842.6 786.0,844.5 789.0,846.4 792.0,848.1 795.0,849.7 798.0,851.3 801.0,852.7 804.0,854.1 807.0,855.4 810.0,856.6 813.0,857.7 816.0,858.8 819.0,859.8 822.0,860.7 825.0,861.5 828.0,862.3 831.0,862.9 834.0,863.6 837.0,864.1 840.0,864.6 843.0,865.0 846.0,865.4 849.0,865.7 852.0,865.9 855.0,866.1 858.0,866.3 861.0,866.4 864.0,866.4 867.0,866.4 870.0,866.3 873.0,866.1 876.0,865.9 879.0,865.7 882.0,865.4 885.0,865.0 888.0,864.7 891.0,864.2 894.0,863.8 897.0,863.2 900.0,862.7 903.0,862.1 906.0,861.5 909.0,860.8 912.0,860.1 915.0,859.4 918.0,858.7 921.0,857.9 924.0,857.0 927.0,856.2 930.0,855.3 933.0,854.3 936.0,853.4 939.0,852.3 942.0,851.3 945.0,850.2 948.0,849.0 951.0,847.8 954.0,846.6 957.0,845.4 960.0,844.1 963.0,842.7 966.0,841.3 969.0,839.9 972.0,838.5 975.0,837.0 978.0,835.5 981.0,833.9 984.0,832.3 987.0,830.7 990.0,829.1 993.0,827.4 996.0,825.7 999.0,823.9 1002.0,822.2 1005.0,820.4 1008.0,818.5 1011.0,816.7 1014.0,814.8 1017.0,812.9 1020.0,811.0 1023.0,809.0 1026.0,807.0 1029.0,805.0 1032.0,803.0 1035.0,800.9 1038.0,798.9 1041.0,796.8 1044.0,794.7 1047.0,792.5 1050.0,790.4 1053.0,788.2 1056.0,786.0 1059.0,783.8 1062.0,781.6 1065.0,779.3 1068.0,777.1 1071.0,774.8 1074.0,772.5 1077.0,770.2 1080.0,767.9 1083.0,765.6 1086.0,763.3 1089.0,760.9 1092.0,758.6 1095.0,756.2 1098.0,753.8 1101.0,751.5 1104.0,749.1 1107.0,746.7 1110.0,744.3 1113.0,741.9 1116.0,739.6 1119.0,737.2 1122.0,734.8 1125.0,732.5 1128.0,730.1 1131.0,727.8 1134.0,725.5 1137.0,723.2 1140.0,720.9 1143.0,718.6 1146.0,716.4 1149.0,714.2 1152.0,712.0 1155.0,709.9 1158.0,707.7 1161.0,705.7 1164.0,703.6 1167.0,701.6 1170.0,699.6 1173.0,697.7 1176.0,695.8 1179.0,694.0 1182.0,692.2 1185.0,690.4 1188.0,688.7 1191.0,687.1 1194.0,685.5 1197.0,684.0 1200.0,682.5 1203.0,681.1 1206.0,679.8 1209.0,678.5 1212.0,677.3 1215.0,676.1 1218.0,675.1 1221.0,674.1 1224.0,673.2 1227.0,672.3 1230.0,671.5 1233.0,670.8 1236.0,670.1 1239.0,669.6 1242.0,669.0 1245.0,668.6 1248.0,668.1 1251.0,667.8 1254.0,667.5 1257.0,667.3 1260.0,667.1 1263.0,666.9 1266.0,666.8 1269.0,666.8 1272.0,666.8 1275.0,666.8 1278.0,666.9 1281.0,667.0 1284.0,667.2 1287.0,667.4 1290.0,667.7 1293.0,668.1 1296.0,668.6 1299.0,669.1 1302.0,669.8 1305.0,670.6 1308.0,671.5 1311.0,672.5 1314.0,673.6 1317.0,674.9 1320.0,676.3 1323.0,677.8 1326.0,679.4 1329.0,681.1 1332.0,682.9 1335.0,684.9 1338.0,686.9 1341.0,689.1 1344.0,691.3 1347.0,693.6 1350.0,696.1 1353.0,698.6 1356.0,701.2 1359.0,703.8 1362.0,706.6 1365.0,709.4 1368.0,712.3 1371.0,715.2 1374.0,718.2 1377.0,721.3 1380.0,724.4 1383.0,727.6 1386.0,730.8 1389.0,734.1 1392.0,737.4 1395.0,740.7 1398.0,744.1 1401.0,747.5 1404.0,751.0 1407.0,754.5 1410.0,757.9 1413.0,761.5 1416.0,765.0 1419.0,768.6 1422.0,772.1 1425.0,775.7 1428.0,779.3 1431.0,782.9 1434.0,786.5 1437.0,790.1 1440.0,793.7 1443.0,797.3 1446.0,801.0 1449.0,804.6 1452.0,808.2 1455.0,811.7 1458.0,815.3 1461.0,818.9 1464.0,822.4 1467.0,826.0 1470.0,829.5 1473.0,833.0 1476.0,836.5 1479.0,839.9 1482.0,843.3 1485.0,846.7 1488.0,850.0 1491.0,853.3 1494.0,856.6 1497.0,859.8 1500.0,863.0 1503.0,866.1 1506.0,869.1 1509.0,872.1 1512.0,875.1 1515.0,878.0 1518.0,880.8 1521.0,883.5 1524.0,886.2 1527.0,888.8 1530.0,891.3 1533.0,893.7 1536.0,896.1 1539.0,898.4 1542.0,900.6 1545.0,902.7 1548.0,904.7 1551.0,906.7 1554.0,908.6 1557.0,910.4 1560.0,912.1 1563.0,913.8 1566.0,915.4 1569.0,917.0 1572.0,918.5 1575.0,919.9 1578.0,921.3 1581.0,922.6 1584.0,923.8 1587.0,925.0 1590.0,926.2 1593.0,927.3 1596.0,928.3 1599.0,929.3 1602.0,930.2 1605.0,931.1 1608.0,932.0 1611.0,932.8 1614.0,933.6 1617.0,934.3 1620.0,935.0 1623.0,935.7 1626.0,936.3 1629.0,936.9 1632.0,937.5 1635.0,938.1 1638.0,938.6 1641.0,939.1 1644.0,939.5 1647.0,940.0 1650.0,940.4 1653.0,940.8 1656.0,941.2 1659.0,941.6 1662.0,941.9 1665.0,942.3 1668.0,942.6 1671.0,942.9 1674.0,943.2 1677.0,943.5 1680.0,943.8 1683.0,944.1 1686.0,944.3 1689.0,944.5 1692.0,944.8 1695.0,945.0 1698.0,945.2 1701.0,945.4 1704.0,945.6 1707.0,945.7 1710.0,945.9 1713.0,946.0 1716.0,946.2 1719.0,946.3 1722.0,946.4 1725.0,946.6 1728.0,946.7 1731.0,946.8 1734.0,946.8 1737.0,946.9 1740.0,947.0 1743.0,947.1 1746.0,947.1 1749.0,947.2 1752.0,947.2 1755.0,947.3 1758.0,947.3 1761.0,947.3 1764.0,947.3 1767.0,947.4 1770.0,947.4 1773.0,947.4 1776.0,947.4 1779.0,947.4 1782.0,947.4 1785.0,947.4 1788.0,947.4 1791.0,947.4 1794.0,947.4 1797.0,947.3 1800.0,947.3 1803.0,947.3 1806.0,947.3 1809.0,947.3 1812.0,947.2 1815.0,947.2 1818.0,947.2 1821.0,947.2 1824.0,947.1 1827.0,947.1 1830.0,947.1 1833.0,947.1 1836.0,947.1 1839.0,947.1 1842.0,947.0 1845.0,947.0 1848.0,947.0 1851.0,947.0 1854.0,947.0 1857.0,947.0 1860.0,947.0 1863.0,947.0 1866.0,947.1 1869.0,947.1 1872.0,947.1 1875.0,947.1 1878.0,947.2 1881.0,947.2 1884.0,947.3 1887.0,947.3 1890.0,947.4 1893.0,947.4 1896.0,947.5 1899.0,947.6 1902.0,947.7 1905.0,947.8 1908.0,947.9" stroke="#808000"/>
<path d="M150.0,779.7 153.0,779.2 156.0,778.7 159.0,778.1 162.0,777.4 165.0,776.7 168.0,775.9 171.0,775.1 174.0,774.3 177.0,773.4 180.0,772.5 183.0,771.6 186.0,770.8 189.0,769.9 192.0,769.0 195.0,768.2 198.0,767.4 201.0,766.6 204.0,766.0 207.0,765.5 210.0,765.2 213.0,765.1 216.0,765.1 219.0,765.4 222.0,765.7 225.0,766.0 228.0,766.2 231.0,766.3 234.0,766.2 237.0,765.9 240.0,765.6 243.0,765.2 246.0,765.0 249.0,765.1 252.0,765.5 255.0,766.5 258.0,767.8 261.0,769.7 264.0,772.0 267.0,774.6 270.0,777.6 273.0,780.6 276.0,783.6 279.0,786.3 282.0,788.6 285.0,790.5 288.0,792.1 291.0,793.3 294.0,794.2 297.0,794.8 300.0,795.1 303.0,795.2 306.0,795.0 309.0,794.6 312.0,794.0 315.0,793.3 318.0,792.4 321.0,791.4 324.0,790.2 327.0,789.0 330.0,787.6 333.0,786.1 336.0,784.5 339.0,782.8 342.0,781.0 345.0,779.1 348.0,777.2 351.0,775.1 354.0,772.9 357.0,770.6 360.0,768.3 363.0,765.8 366.0,763.3 369.0,760.7 372.0,758.0 375.0,755.3 378.0,752.5 381.0,749.7 384.0,746.9 387.0,744.1 390.0,741.4 393.0,738.6 396.0,735.9 399.0,733.2 402.0,730.5 405.0,727.9 408.0,725.2 411.0,722.6 414.0,720.0 417.0,717.5 420.0,715.0 423.0,712.5 426.0,710.0 429.0,707.6 432.0,705.3 435.0,702.9 438.0,700.6 441.0,698.4 444.0,696.2 447.0,694.0 450.0,691.9 453.0,689.8 456.0,687.8 459.0,685.9 462.0,684.0 465.0,682.1 468.0,680.4 471.0,678.6 474.0,677.0 477.0,675.4 480.0,673.8 483.0,672.4 486.0,671.0 489.0,669.6 492.0,668.4 495.0,667.2 498.0,666.1 501.0,665.1 504.0,664.1 507.0,663.2 510.0,662.5 513.0,661.7 516.0,661.1 519.0,660.6 522.0,660.2 525.0,659.8 528.0,659.5 531.0,659.4 534.0,659.3 537.0,659.3 540.0,659.4 543.0,659.7 546.0,660.0 549.0,660.4 552.0,661.0 555.0,661.6 558.0,662.3 561.0,663.1 564.0,664.0 567.0,665.0 570.0,666.1 573.0,667.3 576.0,668.6 579.0,669.9 582.0,671.4 585.0,672.9 588.0,674.5 591.0,676.2 594.0,677.9 597.0,679.8 600.0,681.7 603.0,683.7 606.0,685.8 609.0,687.9 612.0,690.1 615.0,692.4 618.0,694.7 621.0,697.1 624.0,699.6 627.0,702.1 630.0,704.7 633.0,707.3 636.0,710.0 639.0,712.7 642.0,715.5 645.0,718.3 648.0,721.1 651.0,724.0 654.0,726.8 657.0,729.7 660.0,732.7 663.0,735.6 666.0,738.6 669.0,741.5 672.0,744.5 675.0,747.4 678.0,750.4 681.0,753.4 684.0,756.3 687.0,759.3 690.0,762.2 693.0,765.1 696.0,768.0 699.0,770.8 702.0,773.7 705.0,776.5 708.0,779.2 711.0,782.0 714.0,784.7 717.0,787.4 720.0,790.2 723.0,792.9 726.0,795.7 729.0,798.4 732.0,801.3 735.0,804.1 738.0,807.0 741.0,810.0 744.0,813.0 747.0,816.0 750.0,819.1 753.0,822.2 756.0,825.2 759.0,828.2 762.0,831.0 765.0,833.6 768.0,836.1 771.0,838.5 774.0,840.8 777.0,842.9 780.0,844.8 783.0,846.7 786.0,848.4 789.0,850.0 792.0,851.6 795.0,853.0 798.0,854.3 801.0,855.5 804.0,856.7 807.0,857.7 810.0,858.7 813.0,859.6 816.0,860.5 819.0,861.2 822.0,862.0 825.0,862.6 828.0,863.2 831.0,863.8 834.0,864.3 837.0,864.7 840.0,865.1 843.0,865.4 846.0,865.6 849.0,865.8 852.0,866.0 855.0,866.1 858.0,866.2 861.0,866.2 864.0,866.2 867.0,866.1 870.0,866.0 873.0,865.8 876.0,865.6 879.0,865.3 882.0,865.0 885.0,864.7 888.0,864.4 891.0,864.0 894.0,863.5 897.0,863.0 900.0,862.5 903.0,862.0 906.0,861.4 909.0,860.7 912.0,860.1 915.0,859.3 918.0,858.6 921.0,857.8 924.0,857.0 927.0,856.1 930.0,855.2 933.0,854.3 936.0,853.3 939.0,852.2 942.0,851.2 945.0,850.1 948.0,848.9 951.0,847.7 954.0,846.5 957.0,845.3 960.0,844.0 963.0,842.6 966.0,841.2 969.0,839.8 972.0,838.4 975.0,836.9 978.0,835.4 981.0,833.8 984.0,832.2 987.0,830.6 990.0,829.0 993.0,827.3 996.0,825.6 999.0,823.8 1002.0,822.0 1005.0,820.2 1008.0,818.4 1011.0,816.6 1014.0,814.7 1017.0,812.8 1020.0,810.8 1023.0,808.9 1026.0,806.9 1029.0,804.9 1032.0,802.8 1035.0,800.8 1038.0,798.7 1041.0,796.6 1044.0,794.5 1047.0,792.4 1050.0,790.2 1053.0,788.0 1056.0,785.8 1059.0,783.6 1062.0,781.4 1065.0,779.2 1068.0,776.9 1071.0,774.6 1074.0,772.3 1077.0,770.1 1080.0,767.7 1083.0,765.4 1086.0,763.1 1089.0,760.7 1092.0,758.4 1095.0,756.0 1098.0,753.6 1101.0,751.3 1104.0,748.9 1107.0,746.5 1110.0,744.1 1113.0,741.7 1116.0,739.3 1119.0,737.0 1122.0,734.6 1125.0,732.2 1128.0,729.9 1131.0,727.6 1134.0,725.2 1137.0,722.9 1140.0,720.7 1143.0,718.4 1146.0,716.2 1149.0,714.0 1152.0,711.8 1155.0,709.6 1158.0,707.5 1161.0,705.4 1164.0,703.4 1167.0,701.3 1170.0,699.4 1173.0,697.4 1176.0,695.5 1179.0,693.7 1182.0,691.9 1185.0,690.2 1188.0,688.5 1191.0,686.8 1194.0,685.2 1197.0,683.7 1200.0,682.2 1203.0,680.8 1206.0,679.5 1209.0,678.2 1212.0,677.0 1215.0,675.9 1218.0,674.8 1221.0,673.8 1224.0,672.9 1227.0,672.0 1230.0,671.2 1233.0,670.5 1236.0,669.9 1239.0,669.3 1242.0,668.7 1245.0,668.3 1248.0,667.9 1251.0,667.5 1254.0,667.2 1257.0,667.0 1260.0,666.8 1263.0,666.6 1266.0,666.5 1269.0,666.5 1272.0,666.5 1275.0,666.5 1278.0,666.6 1281.0,666.7 1284.0,666.9 1287.0,667.1 1290.0,667.4 1293.0,667.8 1296.0,668.3 1299.0,668.9 1302.0,669.5 1305.0,670.3 1308.0,671.2 1311.0,672.2 1314.0,673.3 1317.0,674.6 1320.0,676.0 1323.0,677.5 1326.0,679.1 1329.0,680.8 1332.0,682.7 1335.0,684.6 1338.0,686.7 1341.0,688.8 1344.0,691.1 1347.0,693.4 1350.0,695.8 1353.0,698.3 1356.0,700.9 1359.0,703.6 1362.0,706.3 1365.0,709.1 1368.0,712.0 1371.0,715.0 1374.0,718.0 1377.0,721.1 1380.0,724.2 1383.0,727.4 1386.0,730.6 1389.0,733.9 1392.0,737.2 1395.0,740.5 1398.0,743.9 1401.0,747.3 1404.0,750.8 1407.0,754.3 1410.0,757.8 1413.0,761.3 1416.0,764.8 1419.0,768.4 1422.0,771.9 1425.0,775.5 1428.0,779.1 1431.0,782.7 1434.0,786.3 1437.0,790.0 1440.0,793.6 1443.0,797.2 1446.0,800.8 1449.0,804.4 1452.0,808.0 1455.0,811.6 1458.0,815.2 1461.0,818.8 1464.0,822.3 1467.0,825.9 1470.0,829.4 1473.0,832.9 1476.0,836.3 1479.0,839.8 1482.0,843.2 1485.0,846.6 1488.0,849.9 1491.0,853.2 1494.0,856.5 1497.0,859.7 1500.0,862.9 1503.0,866.0 1506.0,869.1 1509.0,872.1 1512.0,875.0 1515.0,877.9 1518.0,880.7 1521.0,883.4 1524.0,886.1 1527.0,888.7 1530.0,891.2 1533.0,893.7 1536.0,896.0 1539.0,898.3 1542.0,900.5 1545.0,902.6 1548.0,904.7 1551.0,906.6 1554.0,908.5 1557.0,910.4 1560.0,912.1 1563.0,913.8 1566.0,915.4 1569.0,917.0 1572.0,918.4 1575.0,919.9 1578.0,921.2 1581.0,922.6 1584.0,923.8 1587.0,925.0 1590.0,926.1 1593.0,927.2 1596.0,928.3 1599.0,929.3 1602.0,930.2 1605.0,931.1 1608.0,932.0 1611.0,932.8 1614.0,933.6 1617.0,934.3 1620.0,935.0 1623.0,935.7 1626.0,936.3 1629.0,936.9 1632.0,937.5 1635.0,938.0 1638.0,938.6 1641.0,939.1 1644.0,939.5 1647.0,940.0 1650.0,940.4 1653.0,940.8 1656.0,941.2 1659.0,941.6 1662.0,941.9 1665.0,942.3 1668.0,942.6 1671.0,942.9 1674.0,943.2 1677.0,943.5 1680.0,943.8 1683.0,944.1 1686.0,944.3 1689.0,944.5 1692.0,944.8 1695.0,945.0 1698.0,945.2 1701.0,945.4 1704.0,945.6 1707.0,945.7 1710.0,945.9 1713.0,946.0 1716.0,946.2 1719.0,946.3 1722.0,946.4 1725.0,946.6 1728.0,946.7 1731.0,946.8 1734.0,946.8 1737.0,946.9 1740.0,947.0 1743.0,947.1 1746.0,947.1 1749.0,947.2 1752.0,947.2 1755.0,947.3 1758.0,947.3 1761.0,947.3 1764.0,947.3 1767.0,947.4 1770.0,947.4 1773.0,947.4 1776.0,947.4 1779.0,947.4 1782.0,947.4 1785.0,947.4 1788.0,947.4 1791.0,947.4 1794.0,947.3 1797.0,947.3 1800.0,947.3 1803.0,947.3 1806.0,947.3 1809.0,947.3 1812.0,947.2 1815.0,947.2 1818.0,947.2 1821.0,947.2 1824.0,947.1 1827.0,947.1 1830.0,947.1 1833.0,947.1 1836.0,947.1 1839.0,947.1 1842.0,947.0 1845.0,947.0 1848.0,947.0 1851.0,947.0 1854.0,947.0 1857.0,947.0 1860.0,947.0 1863.0,947.0 1866.0,947.1 1869.0,947.1 1872.0,947.1 1875.0,947.1 1878.0,947.2 1881.0,947.2 1884.0,947.3 1887.0,947.3 1890.0,947.4 1893.0,947.4 1896.0,947.5 1899.0,947.6 1902.0,947.7 1905.0,947.8 1908.0,947.9" stroke="#000080"/></g>
<g fill="#000"><rect x="531.8" y="87.7" width="6" height="33.1"/><polygon points="522.9,119.8 546.7,119.8 534.8,164.6"/><rect x="257.2" y="457.7" width="6" height="108.5"/><polygon points="248.3,565.2 272.1,565.2 260.2,609.0"/><rect x="959.2" y="181.5" width="6" height="185.6"/><polygon points="950.3,366.1 974.1,366.1 962.2,412.5"/><rect x="851.2" y="707.8" width="6" height="108.8"/><polygon points="842.3,815.6 866.1,815.6 854.2,857.5"/><rect x="1265" y="543" width="6" height="111.6"/><polygon points="1256.1,543.8 1279.9,543.8 1268,497.4"/></g>
<text y="64.3" font-size="34.5"><tspan x="487.9" textLength="49.9" lengthAdjust="spacingAndGlyphs">327</tspan><tspan x="539.2" textLength="58.5" lengthAdjust="spacingAndGlyphs"> nm</tspan></text><text y="432.3" font-size="34.5"><tspan x="201.2" textLength="49.2" lengthAdjust="spacingAndGlyphs">284</tspan><tspan x="252.6" textLength="58.0" lengthAdjust="spacingAndGlyphs"> nm</tspan></text><text y="681.5" font-size="34.5"><tspan x="810.9" textLength="49.7" lengthAdjust="spacingAndGlyphs">378</tspan><tspan x="861.8" textLength="57.8" lengthAdjust="spacingAndGlyphs"> nm</tspan></text><text y="483" font-size="34.5"><tspan x="1225.9" textLength="49.5" lengthAdjust="spacingAndGlyphs">446</tspan><tspan x="1276.9" textLength="58.3" lengthAdjust="spacingAndGlyphs"> nm</tspan></text><text x="952.2" y="157.3" font-size="35" textLength="16.2" lengthAdjust="spacingAndGlyphs">0</text><text y="451.4" font-size="34.5"><tspan x="901.3" textLength="32.5" lengthAdjust="spacingAndGlyphs">20</tspan><tspan x="936.2" textLength="95.8" lengthAdjust="spacingAndGlyphs"> equiv</tspan></text>
</svg></body></html>
